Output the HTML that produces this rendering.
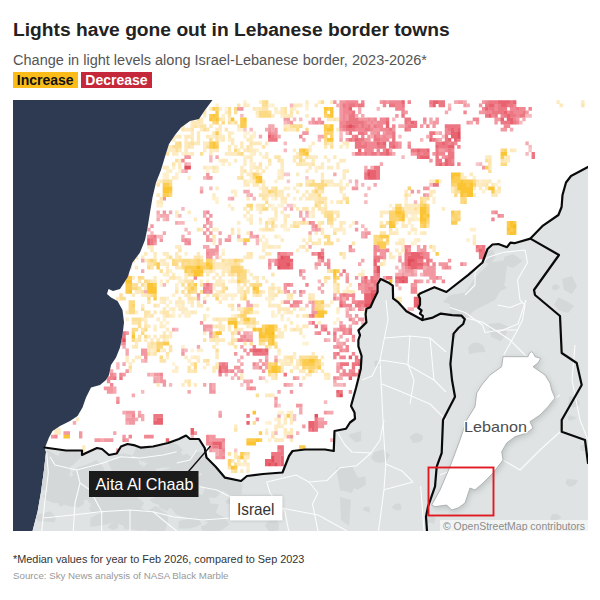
<!DOCTYPE html>
<html><head><meta charset="utf-8"><title>Lights have gone out in Lebanese border towns</title>
<style>
html,body{margin:0;padding:0;background:#fff}
body{width:600px;height:600px;position:relative;overflow:hidden;font-family:"Liberation Sans",sans-serif}
.t{position:absolute;white-space:nowrap;line-height:1}
#title{left:13px;top:19.7px;font-size:19.23px;font-weight:bold;color:#222}
#sub{left:13px;top:53.2px;font-size:14.53px;color:#555}
.lg{position:absolute;top:72px;height:16px;font-size:14px;font-weight:bold;line-height:16px;text-align:center}
#inc{left:13px;width:64.5px;background:#fbbc1a;color:#111}
#dec{left:81px;width:71px;background:#c4283a;color:#fff}
#note{left:13px;top:553.7px;font-size:10.88px;color:#333}
#src{left:13px;top:571.3px;font-size:9.73px;color:#999}
</style></head><body>
<div class="t" id="title">Lights have gone out in Lebanese border towns</div>
<div class="t" id="sub">Change in light levels along Israel-Lebanese border, 2023-2026*</div>
<div class="lg" id="inc">Increase</div><div class="lg" id="dec">Decrease</div>
<svg width="575" height="431" viewBox="13 100 575 431" style="position:absolute;left:13px;top:100px;display:block">
<defs>
<clipPath id="landclip"><polygon points="212.5,100 212.5,100 205,110 199,119 190,121 181,127.5 175,135 169,144 165.5,155 161,170 156,182.5 152.5,197.5 150,212.5 147.5,228 145,240 140,252.5 132.5,262.5 127.5,277.5 120,289 113,291 108.5,289 107,294 111,297.5 117.5,301 122.5,310 124,322.5 122.5,335 120,347.5 116,357.5 111,365 109,375 106,380 100,385 91,387.5 86,397.5 82.5,407.5 77.5,416 70,421 60,426 52.5,431 49,437.5 45,447.5 44.5,447.5 66,450.5 82,450.5 82,455 86,453 97,448 102,449 109,455 116.7,453.5 121,446.5 127.5,444 135,445.4 140.5,447.6 153,446.5 168,443 179,439 186,435.5 190,439 199,439 204.7,448 206.5,457.5 215.7,466.7 225,477.7 241,481 247,476 263,474 282.5,472.5 289,456 292.5,451 305,449.5 325,449.5 333.75,451 334.5,431 346,428.75 350,422.5 355,418.75 354.5,412.5 351,406 356,388 358.4,378.4 360.8,368.8 361.6,356 358.4,346.4 358.4,340 360,335.2 358.4,330.4 362.4,326.4 366.4,322.4 365.6,314.4 366.4,308.8 370.4,307.2 373.6,300 377.6,292 377.6,284 380.8,278.9 388,282.4 392.8,285.6 393.1,298.4 398.4,302.4 406.4,311.2 415.2,316 422.4,320 422.4,320 422.9,316 420,313.6 421.6,310.4 418.4,308 420,304.8 420,298.4 418.4,295.2 420,293.6 434.4,287.2 446.4,292 468,275.2 482.5,262.5 487.5,249 492.5,244.5 498.4,244 507,247.2 510.4,242.6 514.4,243.2 530.4,238.6 543,225.6 558.4,215 561.6,207 562.5,195 566,182.5 571,176 588,167 588,100"/></clipPath>
<filter id="sh" x="-20%" y="-20%" width="140%" height="140%"><feGaussianBlur stdDeviation="3"/></filter>
<filter id="sh2" x="-20%" y="-20%" width="140%" height="140%"><feGaussianBlur stdDeviation="1.5"/></filter>
</defs>
<rect x="13" y="100" width="575" height="431" fill="#fff"/>
<g clip-path="url(#landclip)">
<path fill="#fef0cc" d="M243.27 100.17h3.4v3.75h-3.4zM258.77 100.17h3.4v3.75h-3.4zM317.67 100.17h3.4v3.75h-3.4zM215.37 103.62h3.4v3.75h-3.4zM271.17 103.62h3.4v3.75h-3.4zM305.27 103.62h3.4v3.75h-3.4zM292.87 107.07h3.4v3.75h-3.4zM274.27 110.52h3.4v3.75h-3.4zM277.37 110.52h3.4v3.75h-3.4zM221.57 113.97h3.4v3.75h-3.4zM255.67 113.97h3.4v3.75h-3.4zM237.07 127.77h3.4v3.75h-3.4zM240.17 127.77h3.4v3.75h-3.4zM218.47 131.22h3.4v3.75h-3.4zM230.87 131.22h3.4v3.75h-3.4zM252.57 131.22h3.4v3.75h-3.4zM209.17 134.67h3.4v3.75h-3.4zM243.27 134.67h3.4v3.75h-3.4zM252.57 134.67h3.4v3.75h-3.4zM218.47 138.12h3.4v3.75h-3.4zM227.77 138.12h3.4v3.75h-3.4zM308.37 145.02h3.4v3.75h-3.4zM345.57 145.02h3.4v3.75h-3.4zM255.67 148.47h3.4v3.75h-3.4zM181.27 151.92h3.4v3.75h-3.4zM187.47 151.92h3.4v3.75h-3.4zM249.47 151.92h3.4v3.75h-3.4zM258.77 151.92h3.4v3.75h-3.4zM243.27 155.37h3.4v3.75h-3.4zM261.87 155.37h3.4v3.75h-3.4zM221.57 162.27h3.4v3.75h-3.4zM227.77 162.27h3.4v3.75h-3.4zM249.47 162.27h3.4v3.75h-3.4zM252.57 162.27h3.4v3.75h-3.4zM171.97 165.72h3.4v3.75h-3.4zM206.07 165.72h3.4v3.75h-3.4zM209.17 165.72h3.4v3.75h-3.4zM249.47 165.72h3.4v3.75h-3.4zM264.97 165.72h3.4v3.75h-3.4zM314.57 165.72h3.4v3.75h-3.4zM165.77 169.17h3.4v3.75h-3.4zM215.37 169.17h3.4v3.75h-3.4zM249.47 169.17h3.4v3.75h-3.4zM277.37 169.17h3.4v3.75h-3.4zM314.57 169.17h3.4v3.75h-3.4zM162.67 172.62h3.4v3.75h-3.4zM165.77 172.62h3.4v3.75h-3.4zM175.07 172.62h3.4v3.75h-3.4zM277.37 172.62h3.4v3.75h-3.4zM162.67 176.07h3.4v3.75h-3.4zM165.77 176.07h3.4v3.75h-3.4zM175.07 176.07h3.4v3.75h-3.4zM187.47 176.07h3.4v3.75h-3.4zM249.47 176.07h3.4v3.75h-3.4zM472.67 176.07h3.4v3.75h-3.4zM156.47 179.52h3.4v3.75h-3.4zM246.37 179.52h3.4v3.75h-3.4zM249.47 179.52h3.4v3.75h-3.4zM274.27 179.52h3.4v3.75h-3.4zM339.37 179.52h3.4v3.75h-3.4zM438.57 179.52h3.4v3.75h-3.4zM478.87 179.52h3.4v3.75h-3.4zM497.47 179.52h3.4v3.75h-3.4zM326.97 182.97h3.4v3.75h-3.4zM330.07 182.97h3.4v3.75h-3.4zM339.37 182.97h3.4v3.75h-3.4zM494.37 182.97h3.4v3.75h-3.4zM258.77 186.42h3.4v3.75h-3.4zM283.57 186.42h3.4v3.75h-3.4zM286.67 186.42h3.4v3.75h-3.4zM292.87 186.42h3.4v3.75h-3.4zM233.97 189.87h3.4v3.75h-3.4zM481.97 189.87h3.4v3.75h-3.4zM233.97 193.32h3.4v3.75h-3.4zM212.27 196.77h3.4v3.75h-3.4zM292.87 196.77h3.4v3.75h-3.4zM432.37 196.77h3.4v3.75h-3.4zM215.37 200.22h3.4v3.75h-3.4zM280.47 200.22h3.4v3.75h-3.4zM330.07 200.22h3.4v3.75h-3.4zM404.47 200.22h3.4v3.75h-3.4zM432.37 200.22h3.4v3.75h-3.4zM156.47 203.67h3.4v3.75h-3.4zM159.57 203.67h3.4v3.75h-3.4zM227.77 203.67h3.4v3.75h-3.4zM280.47 203.67h3.4v3.75h-3.4zM388.97 203.67h3.4v3.75h-3.4zM255.67 207.12h3.4v3.75h-3.4zM271.17 207.12h3.4v3.75h-3.4zM308.37 210.57h3.4v3.75h-3.4zM311.47 210.57h3.4v3.75h-3.4zM249.47 214.02h3.4v3.75h-3.4zM410.67 214.02h3.4v3.75h-3.4zM413.77 214.02h3.4v3.75h-3.4zM246.37 217.47h3.4v3.75h-3.4zM268.07 217.47h3.4v3.75h-3.4zM274.27 217.47h3.4v3.75h-3.4zM413.77 217.47h3.4v3.75h-3.4zM416.87 217.47h3.4v3.75h-3.4zM258.77 220.92h3.4v3.75h-3.4zM351.77 220.92h3.4v3.75h-3.4zM407.57 220.92h3.4v3.75h-3.4zM283.57 224.37h3.4v3.75h-3.4zM330.07 224.37h3.4v3.75h-3.4zM348.67 224.37h3.4v3.75h-3.4zM410.67 224.37h3.4v3.75h-3.4zM215.37 227.82h3.4v3.75h-3.4zM237.07 227.82h3.4v3.75h-3.4zM258.77 227.82h3.4v3.75h-3.4zM286.67 227.82h3.4v3.75h-3.4zM342.47 227.82h3.4v3.75h-3.4zM395.17 227.82h3.4v3.75h-3.4zM469.57 227.82h3.4v3.75h-3.4zM472.67 227.82h3.4v3.75h-3.4zM237.07 231.27h3.4v3.75h-3.4zM342.47 231.27h3.4v3.75h-3.4zM261.87 234.72h3.4v3.75h-3.4zM264.97 238.17h3.4v3.75h-3.4zM398.27 238.17h3.4v3.75h-3.4zM413.77 238.17h3.4v3.75h-3.4zM466.47 238.17h3.4v3.75h-3.4zM212.27 241.62h3.4v3.75h-3.4zM261.87 241.62h3.4v3.75h-3.4zM264.97 241.62h3.4v3.75h-3.4zM410.67 241.62h3.4v3.75h-3.4zM261.87 245.07h3.4v3.75h-3.4zM264.97 245.07h3.4v3.75h-3.4zM274.27 245.07h3.4v3.75h-3.4zM401.37 245.07h3.4v3.75h-3.4zM295.97 248.52h3.4v3.75h-3.4zM184.37 251.97h3.4v3.75h-3.4zM159.57 262.32h3.4v3.75h-3.4zM382.77 262.32h3.4v3.75h-3.4zM168.87 269.22h3.4v3.75h-3.4zM212.27 269.22h3.4v3.75h-3.4zM246.37 269.22h3.4v3.75h-3.4zM162.67 272.67h3.4v3.75h-3.4zM175.07 276.12h3.4v3.75h-3.4zM178.17 276.12h3.4v3.75h-3.4zM159.57 279.57h3.4v3.75h-3.4zM178.17 279.57h3.4v3.75h-3.4zM181.27 279.57h3.4v3.75h-3.4zM199.87 279.57h3.4v3.75h-3.4zM206.07 279.57h3.4v3.75h-3.4zM221.57 279.57h3.4v3.75h-3.4zM230.87 279.57h3.4v3.75h-3.4zM233.97 279.57h3.4v3.75h-3.4zM175.07 283.02h3.4v3.75h-3.4zM212.27 286.47h3.4v3.75h-3.4zM237.07 286.47h3.4v3.75h-3.4zM274.27 286.47h3.4v3.75h-3.4zM345.57 286.47h3.4v3.75h-3.4zM215.37 289.92h3.4v3.75h-3.4zM342.47 289.92h3.4v3.75h-3.4zM171.97 293.37h3.4v3.75h-3.4zM218.47 293.37h3.4v3.75h-3.4zM224.67 293.37h3.4v3.75h-3.4zM227.77 293.37h3.4v3.75h-3.4zM230.87 293.37h3.4v3.75h-3.4zM233.97 293.37h3.4v3.75h-3.4zM165.77 296.82h3.4v3.75h-3.4zM202.97 296.82h3.4v3.75h-3.4zM221.57 296.82h3.4v3.75h-3.4zM224.67 296.82h3.4v3.75h-3.4zM230.87 296.82h3.4v3.75h-3.4zM264.97 296.82h3.4v3.75h-3.4zM268.07 296.82h3.4v3.75h-3.4zM159.57 300.27h3.4v3.75h-3.4zM168.87 300.27h3.4v3.75h-3.4zM187.47 300.27h3.4v3.75h-3.4zM268.07 300.27h3.4v3.75h-3.4zM330.07 300.27h3.4v3.75h-3.4zM165.77 303.72h3.4v3.75h-3.4zM175.07 303.72h3.4v3.75h-3.4zM178.17 303.72h3.4v3.75h-3.4zM168.87 307.17h3.4v3.75h-3.4zM302.17 307.17h3.4v3.75h-3.4zM184.37 310.62h3.4v3.75h-3.4zM187.47 310.62h3.4v3.75h-3.4zM252.57 310.62h3.4v3.75h-3.4zM255.67 310.62h3.4v3.75h-3.4zM271.17 310.62h3.4v3.75h-3.4zM283.57 310.62h3.4v3.75h-3.4zM336.27 310.62h3.4v3.75h-3.4zM171.97 314.07h3.4v3.75h-3.4zM178.17 314.07h3.4v3.75h-3.4zM184.37 314.07h3.4v3.75h-3.4zM187.47 314.07h3.4v3.75h-3.4zM271.17 314.07h3.4v3.75h-3.4zM125.47 317.52h3.4v3.75h-3.4zM144.07 317.52h3.4v3.75h-3.4zM162.67 317.52h3.4v3.75h-3.4zM280.47 317.52h3.4v3.75h-3.4zM286.67 317.52h3.4v3.75h-3.4zM336.27 317.52h3.4v3.75h-3.4zM159.57 320.97h3.4v3.75h-3.4zM165.77 320.97h3.4v3.75h-3.4zM333.17 320.97h3.4v3.75h-3.4zM153.37 324.42h3.4v3.75h-3.4zM162.67 324.42h3.4v3.75h-3.4zM249.47 324.42h3.4v3.75h-3.4zM295.97 324.42h3.4v3.75h-3.4zM283.57 327.87h3.4v3.75h-3.4zM165.77 338.22h3.4v3.75h-3.4zM215.37 341.67h3.4v3.75h-3.4zM305.27 341.67h3.4v3.75h-3.4zM181.27 345.12h3.4v3.75h-3.4zM150.27 348.57h3.4v3.75h-3.4zM159.57 348.57h3.4v3.75h-3.4zM196.77 348.57h3.4v3.75h-3.4zM199.87 348.57h3.4v3.75h-3.4zM277.37 352.02h3.4v3.75h-3.4zM190.57 355.47h3.4v3.75h-3.4zM196.77 355.47h3.4v3.75h-3.4zM292.87 355.47h3.4v3.75h-3.4zM187.47 358.92h3.4v3.75h-3.4zM280.47 358.92h3.4v3.75h-3.4zM286.67 358.92h3.4v3.75h-3.4zM289.77 362.37h3.4v3.75h-3.4zM202.97 365.82h3.4v3.75h-3.4zM292.87 365.82h3.4v3.75h-3.4zM171.97 369.27h3.4v3.75h-3.4zM175.07 369.27h3.4v3.75h-3.4zM323.87 376.17h3.4v3.75h-3.4zM280.47 410.67h3.4v3.75h-3.4zM286.67 410.67h3.4v3.75h-3.4zM283.57 414.12h3.4v3.75h-3.4zM274.27 417.57h3.4v3.75h-3.4zM268.07 421.02h3.4v3.75h-3.4zM280.47 424.47h3.4v3.75h-3.4zM264.97 427.92h3.4v3.75h-3.4zM283.57 434.82h3.4v3.75h-3.4zM268.07 438.27h3.4v3.75h-3.4zM240.17 462.42h3.4v3.75h-3.4zM243.27 462.42h3.4v3.75h-3.4zM246.37 465.87h3.4v3.75h-3.4z"/>
<path fill="#fcdf97" d="M261.87 100.17h3.4v3.75h-3.4zM320.77 100.17h3.4v3.75h-3.4zM261.87 103.62h3.4v3.75h-3.4zM264.97 103.62h3.4v3.75h-3.4zM227.77 107.07h3.4v3.75h-3.4zM227.77 110.52h3.4v3.75h-3.4zM233.97 110.52h3.4v3.75h-3.4zM268.07 110.52h3.4v3.75h-3.4zM196.77 117.42h3.4v3.75h-3.4zM227.77 120.87h3.4v3.75h-3.4zM233.97 120.87h3.4v3.75h-3.4zM289.77 124.32h3.4v3.75h-3.4zM295.97 124.32h3.4v3.75h-3.4zM202.97 127.77h3.4v3.75h-3.4zM283.57 127.77h3.4v3.75h-3.4zM209.17 138.12h3.4v3.75h-3.4zM162.67 141.57h3.4v3.75h-3.4zM175.07 141.57h3.4v3.75h-3.4zM190.57 141.57h3.4v3.75h-3.4zM323.87 141.57h3.4v3.75h-3.4zM171.97 145.02h3.4v3.75h-3.4zM175.07 145.02h3.4v3.75h-3.4zM178.17 145.02h3.4v3.75h-3.4zM206.07 145.02h3.4v3.75h-3.4zM330.07 145.02h3.4v3.75h-3.4zM175.07 148.47h3.4v3.75h-3.4zM199.87 151.92h3.4v3.75h-3.4zM237.07 151.92h3.4v3.75h-3.4zM299.07 155.37h3.4v3.75h-3.4zM175.07 158.82h3.4v3.75h-3.4zM485.07 158.82h3.4v3.75h-3.4zM488.17 169.17h3.4v3.75h-3.4zM240.17 176.07h3.4v3.75h-3.4zM162.67 179.52h3.4v3.75h-3.4zM165.77 179.52h3.4v3.75h-3.4zM168.87 179.52h3.4v3.75h-3.4zM311.47 179.52h3.4v3.75h-3.4zM299.07 182.97h3.4v3.75h-3.4zM274.27 186.42h3.4v3.75h-3.4zM454.07 186.42h3.4v3.75h-3.4zM274.27 189.87h3.4v3.75h-3.4zM454.07 189.87h3.4v3.75h-3.4zM457.17 189.87h3.4v3.75h-3.4zM274.27 193.32h3.4v3.75h-3.4zM404.47 193.32h3.4v3.75h-3.4zM345.57 196.77h3.4v3.75h-3.4zM419.97 196.77h3.4v3.75h-3.4zM426.17 196.77h3.4v3.75h-3.4zM264.97 200.22h3.4v3.75h-3.4zM317.67 200.22h3.4v3.75h-3.4zM320.77 200.22h3.4v3.75h-3.4zM249.47 207.12h3.4v3.75h-3.4zM401.37 207.12h3.4v3.75h-3.4zM413.77 207.12h3.4v3.75h-3.4zM323.87 210.57h3.4v3.75h-3.4zM326.97 210.57h3.4v3.75h-3.4zM330.07 210.57h3.4v3.75h-3.4zM323.87 214.02h3.4v3.75h-3.4zM264.97 220.92h3.4v3.75h-3.4zM302.17 220.92h3.4v3.75h-3.4zM326.97 220.92h3.4v3.75h-3.4zM330.07 220.92h3.4v3.75h-3.4zM385.87 220.92h3.4v3.75h-3.4zM271.17 224.37h3.4v3.75h-3.4zM292.87 224.37h3.4v3.75h-3.4zM295.97 224.37h3.4v3.75h-3.4zM382.77 224.37h3.4v3.75h-3.4zM333.17 231.27h3.4v3.75h-3.4zM323.87 241.62h3.4v3.75h-3.4zM326.97 241.62h3.4v3.75h-3.4zM330.07 241.62h3.4v3.75h-3.4zM385.87 241.62h3.4v3.75h-3.4zM429.27 245.07h3.4v3.75h-3.4zM339.37 251.97h3.4v3.75h-3.4zM168.87 255.42h3.4v3.75h-3.4zM147.17 258.87h3.4v3.75h-3.4zM153.37 258.87h3.4v3.75h-3.4zM175.07 258.87h3.4v3.75h-3.4zM178.17 258.87h3.4v3.75h-3.4zM190.57 258.87h3.4v3.75h-3.4zM221.57 258.87h3.4v3.75h-3.4zM240.17 258.87h3.4v3.75h-3.4zM184.37 262.32h3.4v3.75h-3.4zM190.57 262.32h3.4v3.75h-3.4zM233.97 262.32h3.4v3.75h-3.4zM159.57 269.22h3.4v3.75h-3.4zM330.07 269.22h3.4v3.75h-3.4zM230.87 272.67h3.4v3.75h-3.4zM140.97 276.12h3.4v3.75h-3.4zM323.87 276.12h3.4v3.75h-3.4zM326.97 276.12h3.4v3.75h-3.4zM147.17 279.57h3.4v3.75h-3.4zM190.57 279.57h3.4v3.75h-3.4zM243.27 279.57h3.4v3.75h-3.4zM131.67 283.02h3.4v3.75h-3.4zM134.77 283.02h3.4v3.75h-3.4zM140.97 283.02h3.4v3.75h-3.4zM181.27 283.02h3.4v3.75h-3.4zM190.57 283.02h3.4v3.75h-3.4zM249.47 283.02h3.4v3.75h-3.4zM336.27 283.02h3.4v3.75h-3.4zM140.97 289.92h3.4v3.75h-3.4zM181.27 289.92h3.4v3.75h-3.4zM193.67 289.92h3.4v3.75h-3.4zM199.87 289.92h3.4v3.75h-3.4zM221.57 289.92h3.4v3.75h-3.4zM243.27 289.92h3.4v3.75h-3.4zM277.37 289.92h3.4v3.75h-3.4zM336.27 289.92h3.4v3.75h-3.4zM119.27 293.37h3.4v3.75h-3.4zM119.27 296.82h3.4v3.75h-3.4zM122.37 296.82h3.4v3.75h-3.4zM320.77 303.72h3.4v3.75h-3.4zM140.97 307.17h3.4v3.75h-3.4zM249.47 310.62h3.4v3.75h-3.4zM237.07 314.07h3.4v3.75h-3.4zM367.27 314.07h3.4v3.75h-3.4zM131.67 317.52h3.4v3.75h-3.4zM134.77 317.52h3.4v3.75h-3.4zM137.87 317.52h3.4v3.75h-3.4zM249.47 317.52h3.4v3.75h-3.4zM252.57 317.52h3.4v3.75h-3.4zM137.87 320.97h3.4v3.75h-3.4zM249.47 320.97h3.4v3.75h-3.4zM137.87 324.42h3.4v3.75h-3.4zM212.27 331.32h3.4v3.75h-3.4zM230.87 331.32h3.4v3.75h-3.4zM215.37 334.77h3.4v3.75h-3.4zM274.27 334.77h3.4v3.75h-3.4zM150.27 341.67h3.4v3.75h-3.4zM249.47 341.67h3.4v3.75h-3.4zM258.77 341.67h3.4v3.75h-3.4zM274.27 341.67h3.4v3.75h-3.4zM264.97 345.12h3.4v3.75h-3.4zM215.37 348.57h3.4v3.75h-3.4zM147.17 352.02h3.4v3.75h-3.4zM299.07 355.47h3.4v3.75h-3.4zM302.17 355.47h3.4v3.75h-3.4zM305.27 355.47h3.4v3.75h-3.4zM206.07 358.92h3.4v3.75h-3.4zM299.07 362.37h3.4v3.75h-3.4zM128.57 365.82h3.4v3.75h-3.4zM268.07 372.72h3.4v3.75h-3.4zM274.27 372.72h3.4v3.75h-3.4zM255.67 393.42h3.4v3.75h-3.4zM252.57 421.02h3.4v3.75h-3.4zM227.77 452.07h3.4v3.75h-3.4zM246.37 452.07h3.4v3.75h-3.4zM237.07 455.52h3.4v3.75h-3.4zM233.97 462.42h3.4v3.75h-3.4zM233.97 469.32h3.4v3.75h-3.4z"/>
<path fill="#fcda84" d="M264.97 100.17h3.4v3.75h-3.4zM233.97 107.07h3.4v3.75h-3.4zM258.77 110.52h3.4v3.75h-3.4zM261.87 110.52h3.4v3.75h-3.4zM264.97 110.52h3.4v3.75h-3.4zM258.77 113.97h3.4v3.75h-3.4zM261.87 113.97h3.4v3.75h-3.4zM264.97 113.97h3.4v3.75h-3.4zM268.07 113.97h3.4v3.75h-3.4zM212.27 120.87h3.4v3.75h-3.4zM221.57 120.87h3.4v3.75h-3.4zM292.87 124.32h3.4v3.75h-3.4zM299.07 124.32h3.4v3.75h-3.4zM295.97 127.77h3.4v3.75h-3.4zM305.27 127.77h3.4v3.75h-3.4zM323.87 138.12h3.4v3.75h-3.4zM178.17 141.57h3.4v3.75h-3.4zM233.97 148.47h3.4v3.75h-3.4zM500.57 148.47h3.4v3.75h-3.4zM240.17 151.92h3.4v3.75h-3.4zM299.07 158.82h3.4v3.75h-3.4zM500.57 162.27h3.4v3.75h-3.4zM503.67 162.27h3.4v3.75h-3.4zM255.67 172.62h3.4v3.75h-3.4zM252.57 176.07h3.4v3.75h-3.4zM320.77 179.52h3.4v3.75h-3.4zM472.67 179.52h3.4v3.75h-3.4zM168.87 182.97h3.4v3.75h-3.4zM308.37 182.97h3.4v3.75h-3.4zM311.47 182.97h3.4v3.75h-3.4zM314.57 182.97h3.4v3.75h-3.4zM317.67 182.97h3.4v3.75h-3.4zM320.77 182.97h3.4v3.75h-3.4zM323.87 182.97h3.4v3.75h-3.4zM317.67 186.42h3.4v3.75h-3.4zM320.77 186.42h3.4v3.75h-3.4zM271.17 189.87h3.4v3.75h-3.4zM168.87 193.32h3.4v3.75h-3.4zM317.67 193.32h3.4v3.75h-3.4zM454.07 193.32h3.4v3.75h-3.4zM460.27 196.77h3.4v3.75h-3.4zM463.37 196.77h3.4v3.75h-3.4zM345.57 200.22h3.4v3.75h-3.4zM419.97 200.22h3.4v3.75h-3.4zM460.27 200.22h3.4v3.75h-3.4zM246.37 203.67h3.4v3.75h-3.4zM314.57 203.67h3.4v3.75h-3.4zM395.17 203.67h3.4v3.75h-3.4zM398.27 203.67h3.4v3.75h-3.4zM426.17 203.67h3.4v3.75h-3.4zM261.87 207.12h3.4v3.75h-3.4zM264.97 207.12h3.4v3.75h-3.4zM454.07 210.57h3.4v3.75h-3.4zM326.97 214.02h3.4v3.75h-3.4zM330.07 214.02h3.4v3.75h-3.4zM457.17 214.02h3.4v3.75h-3.4zM326.97 217.47h3.4v3.75h-3.4zM330.07 217.47h3.4v3.75h-3.4zM450.97 217.47h3.4v3.75h-3.4zM271.17 220.92h3.4v3.75h-3.4zM426.17 220.92h3.4v3.75h-3.4zM379.67 224.37h3.4v3.75h-3.4zM323.87 234.72h3.4v3.75h-3.4zM326.97 234.72h3.4v3.75h-3.4zM373.47 234.72h3.4v3.75h-3.4zM376.57 234.72h3.4v3.75h-3.4zM326.97 238.17h3.4v3.75h-3.4zM373.47 238.17h3.4v3.75h-3.4zM376.57 238.17h3.4v3.75h-3.4zM379.67 238.17h3.4v3.75h-3.4zM373.47 241.62h3.4v3.75h-3.4zM171.97 258.87h3.4v3.75h-3.4zM181.27 258.87h3.4v3.75h-3.4zM184.37 258.87h3.4v3.75h-3.4zM187.47 258.87h3.4v3.75h-3.4zM193.67 258.87h3.4v3.75h-3.4zM199.87 258.87h3.4v3.75h-3.4zM237.07 258.87h3.4v3.75h-3.4zM153.37 262.32h3.4v3.75h-3.4zM171.97 262.32h3.4v3.75h-3.4zM175.07 262.32h3.4v3.75h-3.4zM181.27 262.32h3.4v3.75h-3.4zM187.47 262.32h3.4v3.75h-3.4zM193.67 262.32h3.4v3.75h-3.4zM199.87 262.32h3.4v3.75h-3.4zM202.97 262.32h3.4v3.75h-3.4zM147.17 265.77h3.4v3.75h-3.4zM181.27 265.77h3.4v3.75h-3.4zM240.17 265.77h3.4v3.75h-3.4zM243.27 269.22h3.4v3.75h-3.4zM187.47 272.67h3.4v3.75h-3.4zM190.57 272.67h3.4v3.75h-3.4zM240.17 272.67h3.4v3.75h-3.4zM243.27 272.67h3.4v3.75h-3.4zM137.87 276.12h3.4v3.75h-3.4zM237.07 276.12h3.4v3.75h-3.4zM240.17 276.12h3.4v3.75h-3.4zM243.27 276.12h3.4v3.75h-3.4zM144.07 279.57h3.4v3.75h-3.4zM240.17 279.57h3.4v3.75h-3.4zM333.17 279.57h3.4v3.75h-3.4zM252.57 283.02h3.4v3.75h-3.4zM255.67 283.02h3.4v3.75h-3.4zM258.77 283.02h3.4v3.75h-3.4zM131.67 286.47h3.4v3.75h-3.4zM134.77 286.47h3.4v3.75h-3.4zM187.47 286.47h3.4v3.75h-3.4zM193.67 286.47h3.4v3.75h-3.4zM224.67 286.47h3.4v3.75h-3.4zM190.57 289.92h3.4v3.75h-3.4zM150.27 293.37h3.4v3.75h-3.4zM243.27 293.37h3.4v3.75h-3.4zM147.17 296.82h3.4v3.75h-3.4zM128.57 300.27h3.4v3.75h-3.4zM131.67 300.27h3.4v3.75h-3.4zM317.67 300.27h3.4v3.75h-3.4zM128.57 303.72h3.4v3.75h-3.4zM314.57 303.72h3.4v3.75h-3.4zM317.67 303.72h3.4v3.75h-3.4zM128.57 307.17h3.4v3.75h-3.4zM131.67 307.17h3.4v3.75h-3.4zM243.27 307.17h3.4v3.75h-3.4zM317.67 307.17h3.4v3.75h-3.4zM320.77 307.17h3.4v3.75h-3.4zM128.57 310.62h3.4v3.75h-3.4zM131.67 310.62h3.4v3.75h-3.4zM227.77 317.52h3.4v3.75h-3.4zM243.27 320.97h3.4v3.75h-3.4zM246.37 320.97h3.4v3.75h-3.4zM252.57 320.97h3.4v3.75h-3.4zM131.67 327.87h3.4v3.75h-3.4zM134.77 327.87h3.4v3.75h-3.4zM144.07 327.87h3.4v3.75h-3.4zM274.27 327.87h3.4v3.75h-3.4zM140.97 331.32h3.4v3.75h-3.4zM144.07 334.77h3.4v3.75h-3.4zM212.27 334.77h3.4v3.75h-3.4zM131.67 338.22h3.4v3.75h-3.4zM264.97 338.22h3.4v3.75h-3.4zM159.57 345.12h3.4v3.75h-3.4zM274.27 345.12h3.4v3.75h-3.4zM159.57 355.47h3.4v3.75h-3.4zM308.37 355.47h3.4v3.75h-3.4zM311.47 355.47h3.4v3.75h-3.4zM314.57 355.47h3.4v3.75h-3.4zM299.07 358.92h3.4v3.75h-3.4zM317.67 358.92h3.4v3.75h-3.4zM193.67 362.37h3.4v3.75h-3.4zM271.17 362.37h3.4v3.75h-3.4zM314.57 362.37h3.4v3.75h-3.4zM317.67 362.37h3.4v3.75h-3.4zM193.67 365.82h3.4v3.75h-3.4zM305.27 365.82h3.4v3.75h-3.4zM314.57 365.82h3.4v3.75h-3.4zM311.47 369.27h3.4v3.75h-3.4zM243.27 452.07h3.4v3.75h-3.4z"/>
<path fill="#fdecc3" d="M305.27 100.17h3.4v3.75h-3.4zM330.07 100.17h3.4v3.75h-3.4zM556.37 100.17h3.4v3.75h-3.4zM581.17 100.17h3.4v3.75h-3.4zM246.37 103.62h3.4v3.75h-3.4zM295.97 103.62h3.4v3.75h-3.4zM299.07 103.62h3.4v3.75h-3.4zM196.77 107.07h3.4v3.75h-3.4zM209.17 107.07h3.4v3.75h-3.4zM218.47 107.07h3.4v3.75h-3.4zM255.67 107.07h3.4v3.75h-3.4zM274.27 107.07h3.4v3.75h-3.4zM196.77 110.52h3.4v3.75h-3.4zM199.87 110.52h3.4v3.75h-3.4zM224.67 110.52h3.4v3.75h-3.4zM202.97 113.97h3.4v3.75h-3.4zM271.17 113.97h3.4v3.75h-3.4zM280.47 113.97h3.4v3.75h-3.4zM305.27 113.97h3.4v3.75h-3.4zM187.47 117.42h3.4v3.75h-3.4zM190.57 117.42h3.4v3.75h-3.4zM330.07 117.42h3.4v3.75h-3.4zM336.27 117.42h3.4v3.75h-3.4zM230.87 120.87h3.4v3.75h-3.4zM181.27 124.32h3.4v3.75h-3.4zM196.77 124.32h3.4v3.75h-3.4zM218.47 124.32h3.4v3.75h-3.4zM184.37 127.77h3.4v3.75h-3.4zM199.87 127.77h3.4v3.75h-3.4zM215.37 127.77h3.4v3.75h-3.4zM218.47 127.77h3.4v3.75h-3.4zM336.27 127.77h3.4v3.75h-3.4zM190.57 131.22h3.4v3.75h-3.4zM227.77 131.22h3.4v3.75h-3.4zM175.07 134.67h3.4v3.75h-3.4zM190.57 134.67h3.4v3.75h-3.4zM212.27 134.67h3.4v3.75h-3.4zM218.47 134.67h3.4v3.75h-3.4zM221.57 134.67h3.4v3.75h-3.4zM249.47 134.67h3.4v3.75h-3.4zM171.97 138.12h3.4v3.75h-3.4zM184.37 138.12h3.4v3.75h-3.4zM249.47 138.12h3.4v3.75h-3.4zM202.97 141.57h3.4v3.75h-3.4zM258.77 141.57h3.4v3.75h-3.4zM311.47 141.57h3.4v3.75h-3.4zM342.47 141.57h3.4v3.75h-3.4zM165.77 145.02h3.4v3.75h-3.4zM168.87 145.02h3.4v3.75h-3.4zM202.97 145.02h3.4v3.75h-3.4zM233.97 145.02h3.4v3.75h-3.4zM249.47 145.02h3.4v3.75h-3.4zM339.37 145.02h3.4v3.75h-3.4zM165.77 148.47h3.4v3.75h-3.4zM168.87 148.47h3.4v3.75h-3.4zM171.97 148.47h3.4v3.75h-3.4zM202.97 148.47h3.4v3.75h-3.4zM212.27 148.47h3.4v3.75h-3.4zM227.77 148.47h3.4v3.75h-3.4zM252.57 148.47h3.4v3.75h-3.4zM292.87 148.47h3.4v3.75h-3.4zM308.37 148.47h3.4v3.75h-3.4zM512.97 148.47h3.4v3.75h-3.4zM171.97 151.92h3.4v3.75h-3.4zM175.07 151.92h3.4v3.75h-3.4zM184.37 151.92h3.4v3.75h-3.4zM224.67 151.92h3.4v3.75h-3.4zM227.77 151.92h3.4v3.75h-3.4zM252.57 151.92h3.4v3.75h-3.4zM264.97 151.92h3.4v3.75h-3.4zM295.97 151.92h3.4v3.75h-3.4zM246.37 155.37h3.4v3.75h-3.4zM249.47 155.37h3.4v3.75h-3.4zM264.97 155.37h3.4v3.75h-3.4zM311.47 155.37h3.4v3.75h-3.4zM314.57 155.37h3.4v3.75h-3.4zM323.87 155.37h3.4v3.75h-3.4zM485.07 155.37h3.4v3.75h-3.4zM503.67 155.37h3.4v3.75h-3.4zM178.17 158.82h3.4v3.75h-3.4zM218.47 158.82h3.4v3.75h-3.4zM224.67 158.82h3.4v3.75h-3.4zM233.97 158.82h3.4v3.75h-3.4zM243.27 158.82h3.4v3.75h-3.4zM249.47 158.82h3.4v3.75h-3.4zM326.97 158.82h3.4v3.75h-3.4zM342.47 158.82h3.4v3.75h-3.4zM506.77 158.82h3.4v3.75h-3.4zM243.27 162.27h3.4v3.75h-3.4zM268.07 162.27h3.4v3.75h-3.4zM308.37 162.27h3.4v3.75h-3.4zM320.77 162.27h3.4v3.75h-3.4zM336.27 162.27h3.4v3.75h-3.4zM165.77 165.72h3.4v3.75h-3.4zM215.37 165.72h3.4v3.75h-3.4zM240.17 165.72h3.4v3.75h-3.4zM252.57 165.72h3.4v3.75h-3.4zM280.47 165.72h3.4v3.75h-3.4zM308.37 165.72h3.4v3.75h-3.4zM317.67 165.72h3.4v3.75h-3.4zM320.77 165.72h3.4v3.75h-3.4zM326.97 165.72h3.4v3.75h-3.4zM330.07 165.72h3.4v3.75h-3.4zM336.27 165.72h3.4v3.75h-3.4zM168.87 169.17h3.4v3.75h-3.4zM212.27 169.17h3.4v3.75h-3.4zM240.17 169.17h3.4v3.75h-3.4zM255.67 169.17h3.4v3.75h-3.4zM305.27 169.17h3.4v3.75h-3.4zM342.47 169.17h3.4v3.75h-3.4zM240.17 172.62h3.4v3.75h-3.4zM246.37 172.62h3.4v3.75h-3.4zM249.47 172.62h3.4v3.75h-3.4zM280.47 172.62h3.4v3.75h-3.4zM295.97 172.62h3.4v3.75h-3.4zM342.47 172.62h3.4v3.75h-3.4zM171.97 176.07h3.4v3.75h-3.4zM280.47 176.07h3.4v3.75h-3.4zM320.77 176.07h3.4v3.75h-3.4zM342.47 176.07h3.4v3.75h-3.4zM460.27 176.07h3.4v3.75h-3.4zM463.37 176.07h3.4v3.75h-3.4zM252.57 179.52h3.4v3.75h-3.4zM261.87 179.52h3.4v3.75h-3.4zM323.87 179.52h3.4v3.75h-3.4zM330.07 179.52h3.4v3.75h-3.4zM429.27 179.52h3.4v3.75h-3.4zM432.37 179.52h3.4v3.75h-3.4zM481.97 179.52h3.4v3.75h-3.4zM485.07 179.52h3.4v3.75h-3.4zM243.27 182.97h3.4v3.75h-3.4zM295.97 182.97h3.4v3.75h-3.4zM333.17 182.97h3.4v3.75h-3.4zM336.27 182.97h3.4v3.75h-3.4zM345.57 182.97h3.4v3.75h-3.4zM475.77 182.97h3.4v3.75h-3.4zM478.87 182.97h3.4v3.75h-3.4zM215.37 186.42h3.4v3.75h-3.4zM342.47 186.42h3.4v3.75h-3.4zM450.97 186.42h3.4v3.75h-3.4zM472.67 186.42h3.4v3.75h-3.4zM478.87 186.42h3.4v3.75h-3.4zM485.07 186.42h3.4v3.75h-3.4zM230.87 189.87h3.4v3.75h-3.4zM295.97 189.87h3.4v3.75h-3.4zM339.37 189.87h3.4v3.75h-3.4zM494.37 189.87h3.4v3.75h-3.4zM212.27 193.32h3.4v3.75h-3.4zM268.07 193.32h3.4v3.75h-3.4zM271.17 193.32h3.4v3.75h-3.4zM280.47 193.32h3.4v3.75h-3.4zM302.17 193.32h3.4v3.75h-3.4zM342.47 193.32h3.4v3.75h-3.4zM407.57 193.32h3.4v3.75h-3.4zM274.27 196.77h3.4v3.75h-3.4zM299.07 196.77h3.4v3.75h-3.4zM311.47 196.77h3.4v3.75h-3.4zM404.47 196.77h3.4v3.75h-3.4zM156.47 200.22h3.4v3.75h-3.4zM283.57 200.22h3.4v3.75h-3.4zM323.87 200.22h3.4v3.75h-3.4zM255.67 203.67h3.4v3.75h-3.4zM268.07 203.67h3.4v3.75h-3.4zM292.87 203.67h3.4v3.75h-3.4zM407.57 203.67h3.4v3.75h-3.4zM410.67 203.67h3.4v3.75h-3.4zM413.77 203.67h3.4v3.75h-3.4zM230.87 207.12h3.4v3.75h-3.4zM258.77 207.12h3.4v3.75h-3.4zM274.27 207.12h3.4v3.75h-3.4zM392.07 207.12h3.4v3.75h-3.4zM404.47 207.12h3.4v3.75h-3.4zM410.67 207.12h3.4v3.75h-3.4zM441.67 207.12h3.4v3.75h-3.4zM187.47 210.57h3.4v3.75h-3.4zM258.77 210.57h3.4v3.75h-3.4zM280.47 210.57h3.4v3.75h-3.4zM379.67 210.57h3.4v3.75h-3.4zM382.77 210.57h3.4v3.75h-3.4zM385.87 210.57h3.4v3.75h-3.4zM404.47 210.57h3.4v3.75h-3.4zM407.57 210.57h3.4v3.75h-3.4zM410.67 210.57h3.4v3.75h-3.4zM413.77 210.57h3.4v3.75h-3.4zM416.87 210.57h3.4v3.75h-3.4zM175.07 214.02h3.4v3.75h-3.4zM243.27 214.02h3.4v3.75h-3.4zM274.27 214.02h3.4v3.75h-3.4zM283.57 214.02h3.4v3.75h-3.4zM311.47 214.02h3.4v3.75h-3.4zM379.67 214.02h3.4v3.75h-3.4zM193.67 217.47h3.4v3.75h-3.4zM249.47 217.47h3.4v3.75h-3.4zM333.17 217.47h3.4v3.75h-3.4zM407.57 217.47h3.4v3.75h-3.4zM410.67 217.47h3.4v3.75h-3.4zM237.07 220.92h3.4v3.75h-3.4zM283.57 220.92h3.4v3.75h-3.4zM342.47 220.92h3.4v3.75h-3.4zM395.17 220.92h3.4v3.75h-3.4zM401.37 220.92h3.4v3.75h-3.4zM274.27 224.37h3.4v3.75h-3.4zM280.47 224.37h3.4v3.75h-3.4zM289.77 224.37h3.4v3.75h-3.4zM199.87 227.82h3.4v3.75h-3.4zM212.27 227.82h3.4v3.75h-3.4zM333.17 227.82h3.4v3.75h-3.4zM339.37 227.82h3.4v3.75h-3.4zM410.67 227.82h3.4v3.75h-3.4zM413.77 227.82h3.4v3.75h-3.4zM314.57 231.27h3.4v3.75h-3.4zM395.17 231.27h3.4v3.75h-3.4zM407.57 231.27h3.4v3.75h-3.4zM419.97 231.27h3.4v3.75h-3.4zM274.27 234.72h3.4v3.75h-3.4zM472.67 234.72h3.4v3.75h-3.4zM212.27 238.17h3.4v3.75h-3.4zM237.07 238.17h3.4v3.75h-3.4zM258.77 238.17h3.4v3.75h-3.4zM280.47 238.17h3.4v3.75h-3.4zM302.17 238.17h3.4v3.75h-3.4zM401.37 238.17h3.4v3.75h-3.4zM416.87 238.17h3.4v3.75h-3.4zM472.67 238.17h3.4v3.75h-3.4zM305.27 241.62h3.4v3.75h-3.4zM395.17 241.62h3.4v3.75h-3.4zM401.37 241.62h3.4v3.75h-3.4zM147.17 245.07h3.4v3.75h-3.4zM150.27 245.07h3.4v3.75h-3.4zM175.07 245.07h3.4v3.75h-3.4zM178.17 245.07h3.4v3.75h-3.4zM271.17 245.07h3.4v3.75h-3.4zM277.37 245.07h3.4v3.75h-3.4zM299.07 245.07h3.4v3.75h-3.4zM432.37 245.07h3.4v3.75h-3.4zM261.87 248.52h3.4v3.75h-3.4zM395.17 248.52h3.4v3.75h-3.4zM432.37 248.52h3.4v3.75h-3.4zM165.77 251.97h3.4v3.75h-3.4zM221.57 251.97h3.4v3.75h-3.4zM140.97 255.42h3.4v3.75h-3.4zM153.37 255.42h3.4v3.75h-3.4zM165.77 255.42h3.4v3.75h-3.4zM199.87 255.42h3.4v3.75h-3.4zM218.47 255.42h3.4v3.75h-3.4zM243.27 255.42h3.4v3.75h-3.4zM249.47 255.42h3.4v3.75h-3.4zM258.77 255.42h3.4v3.75h-3.4zM261.87 255.42h3.4v3.75h-3.4zM388.97 255.42h3.4v3.75h-3.4zM392.07 255.42h3.4v3.75h-3.4zM128.57 258.87h3.4v3.75h-3.4zM144.07 258.87h3.4v3.75h-3.4zM159.57 258.87h3.4v3.75h-3.4zM162.67 258.87h3.4v3.75h-3.4zM382.77 258.87h3.4v3.75h-3.4zM128.57 262.32h3.4v3.75h-3.4zM162.67 262.32h3.4v3.75h-3.4zM165.77 262.32h3.4v3.75h-3.4zM165.77 265.77h3.4v3.75h-3.4zM215.37 265.77h3.4v3.75h-3.4zM218.47 265.77h3.4v3.75h-3.4zM202.97 269.22h3.4v3.75h-3.4zM206.07 269.22h3.4v3.75h-3.4zM221.57 269.22h3.4v3.75h-3.4zM224.67 269.22h3.4v3.75h-3.4zM165.77 272.67h3.4v3.75h-3.4zM171.97 272.67h3.4v3.75h-3.4zM215.37 272.67h3.4v3.75h-3.4zM249.47 272.67h3.4v3.75h-3.4zM357.97 272.67h3.4v3.75h-3.4zM131.67 276.12h3.4v3.75h-3.4zM153.37 276.12h3.4v3.75h-3.4zM184.37 276.12h3.4v3.75h-3.4zM212.27 276.12h3.4v3.75h-3.4zM218.47 276.12h3.4v3.75h-3.4zM252.57 276.12h3.4v3.75h-3.4zM261.87 276.12h3.4v3.75h-3.4zM215.37 279.57h3.4v3.75h-3.4zM218.47 279.57h3.4v3.75h-3.4zM255.67 279.57h3.4v3.75h-3.4zM264.97 279.57h3.4v3.75h-3.4zM212.27 283.02h3.4v3.75h-3.4zM215.37 283.02h3.4v3.75h-3.4zM218.47 283.02h3.4v3.75h-3.4zM237.07 283.02h3.4v3.75h-3.4zM175.07 286.47h3.4v3.75h-3.4zM333.17 286.47h3.4v3.75h-3.4zM237.07 289.92h3.4v3.75h-3.4zM261.87 289.92h3.4v3.75h-3.4zM268.07 289.92h3.4v3.75h-3.4zM271.17 289.92h3.4v3.75h-3.4zM333.17 289.92h3.4v3.75h-3.4zM345.57 289.92h3.4v3.75h-3.4zM351.77 289.92h3.4v3.75h-3.4zM140.97 293.37h3.4v3.75h-3.4zM206.07 293.37h3.4v3.75h-3.4zM268.07 293.37h3.4v3.75h-3.4zM311.47 293.37h3.4v3.75h-3.4zM271.17 296.82h3.4v3.75h-3.4zM286.67 296.82h3.4v3.75h-3.4zM289.77 296.82h3.4v3.75h-3.4zM395.17 296.82h3.4v3.75h-3.4zM162.67 300.27h3.4v3.75h-3.4zM178.17 300.27h3.4v3.75h-3.4zM196.77 300.27h3.4v3.75h-3.4zM280.47 300.27h3.4v3.75h-3.4zM395.17 300.27h3.4v3.75h-3.4zM398.27 300.27h3.4v3.75h-3.4zM140.97 303.72h3.4v3.75h-3.4zM156.47 303.72h3.4v3.75h-3.4zM181.27 303.72h3.4v3.75h-3.4zM190.57 303.72h3.4v3.75h-3.4zM252.57 303.72h3.4v3.75h-3.4zM255.67 303.72h3.4v3.75h-3.4zM268.07 303.72h3.4v3.75h-3.4zM271.17 303.72h3.4v3.75h-3.4zM274.27 303.72h3.4v3.75h-3.4zM323.87 303.72h3.4v3.75h-3.4zM326.97 303.72h3.4v3.75h-3.4zM171.97 307.17h3.4v3.75h-3.4zM178.17 307.17h3.4v3.75h-3.4zM181.27 307.17h3.4v3.75h-3.4zM184.37 307.17h3.4v3.75h-3.4zM206.07 307.17h3.4v3.75h-3.4zM240.17 307.17h3.4v3.75h-3.4zM292.87 307.17h3.4v3.75h-3.4zM299.07 307.17h3.4v3.75h-3.4zM336.27 307.17h3.4v3.75h-3.4zM134.77 310.62h3.4v3.75h-3.4zM159.57 310.62h3.4v3.75h-3.4zM181.27 310.62h3.4v3.75h-3.4zM193.67 310.62h3.4v3.75h-3.4zM277.37 310.62h3.4v3.75h-3.4zM289.77 310.62h3.4v3.75h-3.4zM364.17 310.62h3.4v3.75h-3.4zM162.67 314.07h3.4v3.75h-3.4zM168.87 314.07h3.4v3.75h-3.4zM202.97 314.07h3.4v3.75h-3.4zM233.97 314.07h3.4v3.75h-3.4zM280.47 314.07h3.4v3.75h-3.4zM295.97 314.07h3.4v3.75h-3.4zM156.47 317.52h3.4v3.75h-3.4zM212.27 317.52h3.4v3.75h-3.4zM218.47 317.52h3.4v3.75h-3.4zM224.67 317.52h3.4v3.75h-3.4zM144.07 320.97h3.4v3.75h-3.4zM255.67 320.97h3.4v3.75h-3.4zM289.77 320.97h3.4v3.75h-3.4zM317.67 320.97h3.4v3.75h-3.4zM147.17 324.42h3.4v3.75h-3.4zM159.57 324.42h3.4v3.75h-3.4zM212.27 324.42h3.4v3.75h-3.4zM221.57 324.42h3.4v3.75h-3.4zM305.27 324.42h3.4v3.75h-3.4zM153.37 327.87h3.4v3.75h-3.4zM165.77 327.87h3.4v3.75h-3.4zM218.47 327.87h3.4v3.75h-3.4zM221.57 327.87h3.4v3.75h-3.4zM227.77 327.87h3.4v3.75h-3.4zM237.07 327.87h3.4v3.75h-3.4zM240.17 327.87h3.4v3.75h-3.4zM277.37 327.87h3.4v3.75h-3.4zM289.77 327.87h3.4v3.75h-3.4zM295.97 327.87h3.4v3.75h-3.4zM168.87 331.32h3.4v3.75h-3.4zM202.97 331.32h3.4v3.75h-3.4zM277.37 331.32h3.4v3.75h-3.4zM280.47 331.32h3.4v3.75h-3.4zM147.17 334.77h3.4v3.75h-3.4zM153.37 334.77h3.4v3.75h-3.4zM168.87 334.77h3.4v3.75h-3.4zM230.87 334.77h3.4v3.75h-3.4zM280.47 334.77h3.4v3.75h-3.4zM144.07 338.22h3.4v3.75h-3.4zM150.27 338.22h3.4v3.75h-3.4zM134.77 341.67h3.4v3.75h-3.4zM227.77 341.67h3.4v3.75h-3.4zM131.67 345.12h3.4v3.75h-3.4zM153.37 348.57h3.4v3.75h-3.4zM162.67 348.57h3.4v3.75h-3.4zM150.27 352.02h3.4v3.75h-3.4zM292.87 352.02h3.4v3.75h-3.4zM125.47 355.47h3.4v3.75h-3.4zM134.77 355.47h3.4v3.75h-3.4zM137.87 355.47h3.4v3.75h-3.4zM165.77 355.47h3.4v3.75h-3.4zM184.37 355.47h3.4v3.75h-3.4zM193.67 355.47h3.4v3.75h-3.4zM125.47 358.92h3.4v3.75h-3.4zM131.67 358.92h3.4v3.75h-3.4zM196.77 358.92h3.4v3.75h-3.4zM277.37 358.92h3.4v3.75h-3.4zM283.57 358.92h3.4v3.75h-3.4zM295.97 358.92h3.4v3.75h-3.4zM361.07 358.92h3.4v3.75h-3.4zM128.57 362.37h3.4v3.75h-3.4zM206.07 362.37h3.4v3.75h-3.4zM280.47 362.37h3.4v3.75h-3.4zM283.57 362.37h3.4v3.75h-3.4zM320.77 362.37h3.4v3.75h-3.4zM175.07 365.82h3.4v3.75h-3.4zM295.97 365.82h3.4v3.75h-3.4zM128.57 369.27h3.4v3.75h-3.4zM314.57 369.27h3.4v3.75h-3.4zM240.17 372.72h3.4v3.75h-3.4zM305.27 372.72h3.4v3.75h-3.4zM308.37 372.72h3.4v3.75h-3.4zM326.97 376.17h3.4v3.75h-3.4zM181.27 383.07h3.4v3.75h-3.4zM193.67 383.07h3.4v3.75h-3.4zM264.97 393.42h3.4v3.75h-3.4zM271.17 393.42h3.4v3.75h-3.4zM289.77 410.67h3.4v3.75h-3.4zM289.77 414.12h3.4v3.75h-3.4zM75.87 417.57h3.4v3.75h-3.4zM277.37 417.57h3.4v3.75h-3.4zM277.37 421.02h3.4v3.75h-3.4zM283.57 421.02h3.4v3.75h-3.4zM289.77 421.02h3.4v3.75h-3.4zM233.97 424.47h3.4v3.75h-3.4zM274.27 424.47h3.4v3.75h-3.4zM277.37 424.47h3.4v3.75h-3.4zM54.17 427.92h3.4v3.75h-3.4zM57.27 427.92h3.4v3.75h-3.4zM274.27 427.92h3.4v3.75h-3.4zM289.77 427.92h3.4v3.75h-3.4zM54.17 431.37h3.4v3.75h-3.4zM57.27 431.37h3.4v3.75h-3.4zM283.57 431.37h3.4v3.75h-3.4zM277.37 438.27h3.4v3.75h-3.4zM289.77 438.27h3.4v3.75h-3.4zM82.07 445.17h3.4v3.75h-3.4zM82.07 448.62h3.4v3.75h-3.4zM243.27 455.52h3.4v3.75h-3.4zM237.07 462.42h3.4v3.75h-3.4zM246.37 462.42h3.4v3.75h-3.4zM240.17 469.32h3.4v3.75h-3.4zM246.37 469.32h3.4v3.75h-3.4z"/>
<path fill="#f298a1" d="M333.17 100.17h3.4v3.75h-3.4zM339.37 100.17h3.4v3.75h-3.4zM342.47 100.17h3.4v3.75h-3.4zM379.67 100.17h3.4v3.75h-3.4zM385.87 100.17h3.4v3.75h-3.4zM457.17 100.17h3.4v3.75h-3.4zM460.27 100.17h3.4v3.75h-3.4zM481.97 100.17h3.4v3.75h-3.4zM339.37 103.62h3.4v3.75h-3.4zM463.37 103.62h3.4v3.75h-3.4zM478.87 103.62h3.4v3.75h-3.4zM237.07 107.07h3.4v3.75h-3.4zM240.17 107.07h3.4v3.75h-3.4zM339.37 107.07h3.4v3.75h-3.4zM339.37 110.52h3.4v3.75h-3.4zM404.47 110.52h3.4v3.75h-3.4zM478.87 110.52h3.4v3.75h-3.4zM481.97 110.52h3.4v3.75h-3.4zM525.37 110.52h3.4v3.75h-3.4zM339.37 113.97h3.4v3.75h-3.4zM345.57 113.97h3.4v3.75h-3.4zM395.17 113.97h3.4v3.75h-3.4zM283.57 117.42h3.4v3.75h-3.4zM286.67 117.42h3.4v3.75h-3.4zM311.47 117.42h3.4v3.75h-3.4zM317.67 117.42h3.4v3.75h-3.4zM339.37 117.42h3.4v3.75h-3.4zM345.57 117.42h3.4v3.75h-3.4zM357.97 117.42h3.4v3.75h-3.4zM361.07 117.42h3.4v3.75h-3.4zM364.17 117.42h3.4v3.75h-3.4zM370.37 117.42h3.4v3.75h-3.4zM435.47 117.42h3.4v3.75h-3.4zM494.37 117.42h3.4v3.75h-3.4zM497.47 117.42h3.4v3.75h-3.4zM516.07 117.42h3.4v3.75h-3.4zM289.77 120.87h3.4v3.75h-3.4zM311.47 120.87h3.4v3.75h-3.4zM317.67 120.87h3.4v3.75h-3.4zM367.27 120.87h3.4v3.75h-3.4zM373.47 120.87h3.4v3.75h-3.4zM423.07 120.87h3.4v3.75h-3.4zM432.37 120.87h3.4v3.75h-3.4zM435.47 120.87h3.4v3.75h-3.4zM466.47 120.87h3.4v3.75h-3.4zM475.77 120.87h3.4v3.75h-3.4zM494.37 120.87h3.4v3.75h-3.4zM370.37 124.32h3.4v3.75h-3.4zM419.97 124.32h3.4v3.75h-3.4zM432.37 124.32h3.4v3.75h-3.4zM268.07 127.77h3.4v3.75h-3.4zM274.27 127.77h3.4v3.75h-3.4zM339.37 127.77h3.4v3.75h-3.4zM373.47 127.77h3.4v3.75h-3.4zM376.57 127.77h3.4v3.75h-3.4zM392.07 127.77h3.4v3.75h-3.4zM500.57 127.77h3.4v3.75h-3.4zM503.67 127.77h3.4v3.75h-3.4zM271.17 131.22h3.4v3.75h-3.4zM274.27 131.22h3.4v3.75h-3.4zM302.17 131.22h3.4v3.75h-3.4zM305.27 131.22h3.4v3.75h-3.4zM370.37 131.22h3.4v3.75h-3.4zM373.47 131.22h3.4v3.75h-3.4zM382.77 131.22h3.4v3.75h-3.4zM367.27 134.67h3.4v3.75h-3.4zM379.67 134.67h3.4v3.75h-3.4zM385.87 134.67h3.4v3.75h-3.4zM388.97 134.67h3.4v3.75h-3.4zM345.57 138.12h3.4v3.75h-3.4zM364.17 138.12h3.4v3.75h-3.4zM367.27 138.12h3.4v3.75h-3.4zM435.47 138.12h3.4v3.75h-3.4zM398.27 141.57h3.4v3.75h-3.4zM407.57 141.57h3.4v3.75h-3.4zM398.27 145.02h3.4v3.75h-3.4zM438.57 148.47h3.4v3.75h-3.4zM441.67 148.47h3.4v3.75h-3.4zM376.57 151.92h3.4v3.75h-3.4zM410.67 151.92h3.4v3.75h-3.4zM413.77 151.92h3.4v3.75h-3.4zM432.37 151.92h3.4v3.75h-3.4zM184.37 155.37h3.4v3.75h-3.4zM187.47 155.37h3.4v3.75h-3.4zM441.67 155.37h3.4v3.75h-3.4zM429.27 158.82h3.4v3.75h-3.4zM481.97 165.72h3.4v3.75h-3.4zM364.17 169.17h3.4v3.75h-3.4zM206.07 172.62h3.4v3.75h-3.4zM206.07 176.07h3.4v3.75h-3.4zM209.17 176.07h3.4v3.75h-3.4zM351.77 186.42h3.4v3.75h-3.4zM354.87 186.42h3.4v3.75h-3.4zM423.07 186.42h3.4v3.75h-3.4zM426.17 186.42h3.4v3.75h-3.4zM199.87 189.87h3.4v3.75h-3.4zM410.67 189.87h3.4v3.75h-3.4zM423.07 193.32h3.4v3.75h-3.4zM162.67 196.77h3.4v3.75h-3.4zM162.67 210.57h3.4v3.75h-3.4zM491.27 210.57h3.4v3.75h-3.4zM209.17 214.02h3.4v3.75h-3.4zM500.57 214.02h3.4v3.75h-3.4zM206.07 220.92h3.4v3.75h-3.4zM311.47 220.92h3.4v3.75h-3.4zM150.27 224.37h3.4v3.75h-3.4zM202.97 224.37h3.4v3.75h-3.4zM311.47 224.37h3.4v3.75h-3.4zM206.07 227.82h3.4v3.75h-3.4zM314.57 227.82h3.4v3.75h-3.4zM354.87 227.82h3.4v3.75h-3.4zM202.97 231.27h3.4v3.75h-3.4zM209.17 231.27h3.4v3.75h-3.4zM249.47 231.27h3.4v3.75h-3.4zM364.17 231.27h3.4v3.75h-3.4zM367.27 231.27h3.4v3.75h-3.4zM147.17 234.72h3.4v3.75h-3.4zM206.07 234.72h3.4v3.75h-3.4zM255.67 234.72h3.4v3.75h-3.4zM364.17 234.72h3.4v3.75h-3.4zM159.57 238.17h3.4v3.75h-3.4zM181.27 238.17h3.4v3.75h-3.4zM187.47 238.17h3.4v3.75h-3.4zM206.07 238.17h3.4v3.75h-3.4zM224.67 238.17h3.4v3.75h-3.4zM227.77 238.17h3.4v3.75h-3.4zM153.37 241.62h3.4v3.75h-3.4zM184.37 241.62h3.4v3.75h-3.4zM215.37 245.07h3.4v3.75h-3.4zM376.57 245.07h3.4v3.75h-3.4zM423.07 245.07h3.4v3.75h-3.4zM206.07 248.52h3.4v3.75h-3.4zM209.17 248.52h3.4v3.75h-3.4zM212.27 248.52h3.4v3.75h-3.4zM215.37 248.52h3.4v3.75h-3.4zM320.77 248.52h3.4v3.75h-3.4zM348.67 248.52h3.4v3.75h-3.4zM379.67 248.52h3.4v3.75h-3.4zM382.77 248.52h3.4v3.75h-3.4zM407.57 248.52h3.4v3.75h-3.4zM419.97 248.52h3.4v3.75h-3.4zM423.07 248.52h3.4v3.75h-3.4zM209.17 251.97h3.4v3.75h-3.4zM212.27 251.97h3.4v3.75h-3.4zM286.67 251.97h3.4v3.75h-3.4zM289.77 251.97h3.4v3.75h-3.4zM314.57 251.97h3.4v3.75h-3.4zM379.67 251.97h3.4v3.75h-3.4zM382.77 251.97h3.4v3.75h-3.4zM206.07 255.42h3.4v3.75h-3.4zM209.17 255.42h3.4v3.75h-3.4zM382.77 255.42h3.4v3.75h-3.4zM268.07 258.87h3.4v3.75h-3.4zM326.97 258.87h3.4v3.75h-3.4zM398.27 258.87h3.4v3.75h-3.4zM447.87 258.87h3.4v3.75h-3.4zM314.57 262.32h3.4v3.75h-3.4zM317.67 262.32h3.4v3.75h-3.4zM323.87 262.32h3.4v3.75h-3.4zM401.37 262.32h3.4v3.75h-3.4zM438.57 262.32h3.4v3.75h-3.4zM441.67 262.32h3.4v3.75h-3.4zM444.77 262.32h3.4v3.75h-3.4zM268.07 265.77h3.4v3.75h-3.4zM426.17 265.77h3.4v3.75h-3.4zM429.27 265.77h3.4v3.75h-3.4zM432.37 265.77h3.4v3.75h-3.4zM441.67 265.77h3.4v3.75h-3.4zM447.87 265.77h3.4v3.75h-3.4zM404.47 269.22h3.4v3.75h-3.4zM407.57 269.22h3.4v3.75h-3.4zM410.67 269.22h3.4v3.75h-3.4zM423.07 269.22h3.4v3.75h-3.4zM426.17 269.22h3.4v3.75h-3.4zM429.27 269.22h3.4v3.75h-3.4zM432.37 269.22h3.4v3.75h-3.4zM125.47 272.67h3.4v3.75h-3.4zM299.07 272.67h3.4v3.75h-3.4zM339.37 272.67h3.4v3.75h-3.4zM401.37 272.67h3.4v3.75h-3.4zM410.67 272.67h3.4v3.75h-3.4zM423.07 272.67h3.4v3.75h-3.4zM426.17 272.67h3.4v3.75h-3.4zM429.27 272.67h3.4v3.75h-3.4zM432.37 272.67h3.4v3.75h-3.4zM345.57 276.12h3.4v3.75h-3.4zM354.87 276.12h3.4v3.75h-3.4zM361.07 276.12h3.4v3.75h-3.4zM429.27 276.12h3.4v3.75h-3.4zM432.37 276.12h3.4v3.75h-3.4zM345.57 279.57h3.4v3.75h-3.4zM367.27 279.57h3.4v3.75h-3.4zM416.87 279.57h3.4v3.75h-3.4zM202.97 283.02h3.4v3.75h-3.4zM209.17 283.02h3.4v3.75h-3.4zM283.57 283.02h3.4v3.75h-3.4zM289.77 283.02h3.4v3.75h-3.4zM361.07 283.02h3.4v3.75h-3.4zM370.37 283.02h3.4v3.75h-3.4zM410.67 283.02h3.4v3.75h-3.4zM413.77 283.02h3.4v3.75h-3.4zM209.17 286.47h3.4v3.75h-3.4zM283.57 286.47h3.4v3.75h-3.4zM357.97 286.47h3.4v3.75h-3.4zM361.07 286.47h3.4v3.75h-3.4zM206.07 289.92h3.4v3.75h-3.4zM286.67 289.92h3.4v3.75h-3.4zM361.07 289.92h3.4v3.75h-3.4zM196.77 293.37h3.4v3.75h-3.4zM351.77 296.82h3.4v3.75h-3.4zM283.57 300.27h3.4v3.75h-3.4zM286.67 300.27h3.4v3.75h-3.4zM299.07 300.27h3.4v3.75h-3.4zM311.47 300.27h3.4v3.75h-3.4zM342.47 300.27h3.4v3.75h-3.4zM292.87 303.72h3.4v3.75h-3.4zM295.97 303.72h3.4v3.75h-3.4zM348.67 307.17h3.4v3.75h-3.4zM361.07 307.17h3.4v3.75h-3.4zM311.47 310.62h3.4v3.75h-3.4zM314.57 310.62h3.4v3.75h-3.4zM354.87 314.07h3.4v3.75h-3.4zM357.97 317.52h3.4v3.75h-3.4zM361.07 317.52h3.4v3.75h-3.4zM199.87 320.97h3.4v3.75h-3.4zM354.87 320.97h3.4v3.75h-3.4zM202.97 324.42h3.4v3.75h-3.4zM206.07 324.42h3.4v3.75h-3.4zM209.17 324.42h3.4v3.75h-3.4zM323.87 324.42h3.4v3.75h-3.4zM342.47 324.42h3.4v3.75h-3.4zM202.97 327.87h3.4v3.75h-3.4zM336.27 327.87h3.4v3.75h-3.4zM345.57 327.87h3.4v3.75h-3.4zM125.47 331.32h3.4v3.75h-3.4zM209.17 331.32h3.4v3.75h-3.4zM237.07 331.32h3.4v3.75h-3.4zM314.57 331.32h3.4v3.75h-3.4zM345.57 331.32h3.4v3.75h-3.4zM240.17 334.77h3.4v3.75h-3.4zM116.17 338.22h3.4v3.75h-3.4zM243.27 338.22h3.4v3.75h-3.4zM249.47 338.22h3.4v3.75h-3.4zM351.77 338.22h3.4v3.75h-3.4zM116.17 341.67h3.4v3.75h-3.4zM119.27 341.67h3.4v3.75h-3.4zM342.47 341.67h3.4v3.75h-3.4zM333.17 345.12h3.4v3.75h-3.4zM339.37 345.12h3.4v3.75h-3.4zM140.97 348.57h3.4v3.75h-3.4zM144.07 348.57h3.4v3.75h-3.4zM243.27 348.57h3.4v3.75h-3.4zM342.47 348.57h3.4v3.75h-3.4zM140.97 352.02h3.4v3.75h-3.4zM144.07 352.02h3.4v3.75h-3.4zM181.27 352.02h3.4v3.75h-3.4zM233.97 352.02h3.4v3.75h-3.4zM246.37 352.02h3.4v3.75h-3.4zM144.07 355.47h3.4v3.75h-3.4zM264.97 358.92h3.4v3.75h-3.4zM274.27 358.92h3.4v3.75h-3.4zM106.87 362.37h3.4v3.75h-3.4zM261.87 362.37h3.4v3.75h-3.4zM233.97 365.82h3.4v3.75h-3.4zM237.07 365.82h3.4v3.75h-3.4zM336.27 365.82h3.4v3.75h-3.4zM125.47 369.27h3.4v3.75h-3.4zM227.77 369.27h3.4v3.75h-3.4zM240.17 369.27h3.4v3.75h-3.4zM261.87 369.27h3.4v3.75h-3.4zM336.27 369.27h3.4v3.75h-3.4zM113.07 372.72h3.4v3.75h-3.4zM122.37 372.72h3.4v3.75h-3.4zM153.37 372.72h3.4v3.75h-3.4zM156.47 372.72h3.4v3.75h-3.4zM339.37 372.72h3.4v3.75h-3.4zM357.97 372.72h3.4v3.75h-3.4zM159.57 376.17h3.4v3.75h-3.4zM292.87 376.17h3.4v3.75h-3.4zM336.27 376.17h3.4v3.75h-3.4zM153.37 379.62h3.4v3.75h-3.4zM159.57 379.62h3.4v3.75h-3.4zM162.67 379.62h3.4v3.75h-3.4zM249.47 379.62h3.4v3.75h-3.4zM162.67 383.07h3.4v3.75h-3.4zM209.17 383.07h3.4v3.75h-3.4zM283.57 383.07h3.4v3.75h-3.4zM103.77 386.52h3.4v3.75h-3.4zM106.87 386.52h3.4v3.75h-3.4zM109.97 386.52h3.4v3.75h-3.4zM209.17 386.52h3.4v3.75h-3.4zM246.37 386.52h3.4v3.75h-3.4zM252.57 386.52h3.4v3.75h-3.4zM106.87 389.97h3.4v3.75h-3.4zM109.97 389.97h3.4v3.75h-3.4zM209.17 389.97h3.4v3.75h-3.4zM212.27 389.97h3.4v3.75h-3.4zM289.77 389.97h3.4v3.75h-3.4zM348.67 389.97h3.4v3.75h-3.4zM116.17 396.87h3.4v3.75h-3.4zM274.27 396.87h3.4v3.75h-3.4zM274.27 403.77h3.4v3.75h-3.4zM295.97 403.77h3.4v3.75h-3.4zM299.07 403.77h3.4v3.75h-3.4zM125.47 410.67h3.4v3.75h-3.4zM128.57 410.67h3.4v3.75h-3.4zM131.67 410.67h3.4v3.75h-3.4zM323.87 410.67h3.4v3.75h-3.4zM137.87 414.12h3.4v3.75h-3.4zM218.47 414.12h3.4v3.75h-3.4zM125.47 417.57h3.4v3.75h-3.4zM128.57 417.57h3.4v3.75h-3.4zM131.67 417.57h3.4v3.75h-3.4zM255.67 417.57h3.4v3.75h-3.4zM128.57 421.02h3.4v3.75h-3.4zM131.67 421.02h3.4v3.75h-3.4zM317.67 421.02h3.4v3.75h-3.4zM320.77 421.02h3.4v3.75h-3.4zM323.87 421.02h3.4v3.75h-3.4zM302.17 424.47h3.4v3.75h-3.4zM317.67 424.47h3.4v3.75h-3.4zM320.77 424.47h3.4v3.75h-3.4zM63.47 431.37h3.4v3.75h-3.4zM66.57 431.37h3.4v3.75h-3.4zM78.97 431.37h3.4v3.75h-3.4zM193.67 431.37h3.4v3.75h-3.4zM51.07 434.82h3.4v3.75h-3.4zM78.97 434.82h3.4v3.75h-3.4zM122.37 434.82h3.4v3.75h-3.4zM209.17 434.82h3.4v3.75h-3.4zM212.27 434.82h3.4v3.75h-3.4zM289.77 434.82h3.4v3.75h-3.4zM94.47 438.27h3.4v3.75h-3.4zM97.57 438.27h3.4v3.75h-3.4zM103.77 438.27h3.4v3.75h-3.4zM106.87 438.27h3.4v3.75h-3.4zM109.97 438.27h3.4v3.75h-3.4zM125.47 438.27h3.4v3.75h-3.4zM209.17 438.27h3.4v3.75h-3.4zM212.27 438.27h3.4v3.75h-3.4zM215.37 438.27h3.4v3.75h-3.4zM218.47 438.27h3.4v3.75h-3.4zM221.57 441.72h3.4v3.75h-3.4zM209.17 445.17h3.4v3.75h-3.4zM221.57 445.17h3.4v3.75h-3.4zM116.17 448.62h3.4v3.75h-3.4zM209.17 448.62h3.4v3.75h-3.4zM218.47 448.62h3.4v3.75h-3.4zM218.47 452.07h3.4v3.75h-3.4zM221.57 452.07h3.4v3.75h-3.4zM215.37 455.52h3.4v3.75h-3.4zM218.47 455.52h3.4v3.75h-3.4z"/>
<path fill="#f08792" d="M345.57 100.17h3.4v3.75h-3.4zM348.67 100.17h3.4v3.75h-3.4zM351.77 100.17h3.4v3.75h-3.4zM354.87 100.17h3.4v3.75h-3.4zM361.07 100.17h3.4v3.75h-3.4zM382.77 100.17h3.4v3.75h-3.4zM388.97 100.17h3.4v3.75h-3.4zM392.07 100.17h3.4v3.75h-3.4zM395.17 100.17h3.4v3.75h-3.4zM398.27 100.17h3.4v3.75h-3.4zM407.57 100.17h3.4v3.75h-3.4zM485.07 100.17h3.4v3.75h-3.4zM345.57 103.62h3.4v3.75h-3.4zM354.87 103.62h3.4v3.75h-3.4zM382.77 103.62h3.4v3.75h-3.4zM395.17 103.62h3.4v3.75h-3.4zM398.27 103.62h3.4v3.75h-3.4zM429.27 103.62h3.4v3.75h-3.4zM494.37 103.62h3.4v3.75h-3.4zM512.97 103.62h3.4v3.75h-3.4zM342.47 107.07h3.4v3.75h-3.4zM345.57 107.07h3.4v3.75h-3.4zM395.17 107.07h3.4v3.75h-3.4zM398.27 107.07h3.4v3.75h-3.4zM401.37 107.07h3.4v3.75h-3.4zM481.97 107.07h3.4v3.75h-3.4zM494.37 107.07h3.4v3.75h-3.4zM509.87 107.07h3.4v3.75h-3.4zM512.97 107.07h3.4v3.75h-3.4zM519.17 107.07h3.4v3.75h-3.4zM522.27 107.07h3.4v3.75h-3.4zM528.47 107.07h3.4v3.75h-3.4zM342.47 110.52h3.4v3.75h-3.4zM345.57 110.52h3.4v3.75h-3.4zM348.67 110.52h3.4v3.75h-3.4zM401.37 110.52h3.4v3.75h-3.4zM463.37 110.52h3.4v3.75h-3.4zM485.07 110.52h3.4v3.75h-3.4zM488.17 110.52h3.4v3.75h-3.4zM506.77 110.52h3.4v3.75h-3.4zM512.97 110.52h3.4v3.75h-3.4zM516.07 110.52h3.4v3.75h-3.4zM519.17 110.52h3.4v3.75h-3.4zM342.47 113.97h3.4v3.75h-3.4zM491.27 113.97h3.4v3.75h-3.4zM500.57 113.97h3.4v3.75h-3.4zM516.07 113.97h3.4v3.75h-3.4zM342.47 117.42h3.4v3.75h-3.4zM367.27 117.42h3.4v3.75h-3.4zM373.47 117.42h3.4v3.75h-3.4zM379.67 117.42h3.4v3.75h-3.4zM382.77 117.42h3.4v3.75h-3.4zM423.07 117.42h3.4v3.75h-3.4zM472.67 117.42h3.4v3.75h-3.4zM475.77 117.42h3.4v3.75h-3.4zM512.97 117.42h3.4v3.75h-3.4zM314.57 120.87h3.4v3.75h-3.4zM320.77 120.87h3.4v3.75h-3.4zM339.37 120.87h3.4v3.75h-3.4zM342.47 120.87h3.4v3.75h-3.4zM364.17 120.87h3.4v3.75h-3.4zM370.37 120.87h3.4v3.75h-3.4zM376.57 120.87h3.4v3.75h-3.4zM379.67 120.87h3.4v3.75h-3.4zM382.77 120.87h3.4v3.75h-3.4zM407.57 120.87h3.4v3.75h-3.4zM516.07 120.87h3.4v3.75h-3.4zM339.37 124.32h3.4v3.75h-3.4zM357.97 124.32h3.4v3.75h-3.4zM364.17 124.32h3.4v3.75h-3.4zM376.57 124.32h3.4v3.75h-3.4zM379.67 124.32h3.4v3.75h-3.4zM392.07 124.32h3.4v3.75h-3.4zM404.47 124.32h3.4v3.75h-3.4zM426.17 124.32h3.4v3.75h-3.4zM503.67 124.32h3.4v3.75h-3.4zM506.77 124.32h3.4v3.75h-3.4zM342.47 127.77h3.4v3.75h-3.4zM354.87 127.77h3.4v3.75h-3.4zM357.97 127.77h3.4v3.75h-3.4zM361.07 127.77h3.4v3.75h-3.4zM370.37 127.77h3.4v3.75h-3.4zM379.67 127.77h3.4v3.75h-3.4zM382.77 127.77h3.4v3.75h-3.4zM385.87 127.77h3.4v3.75h-3.4zM407.57 127.77h3.4v3.75h-3.4zM444.77 127.77h3.4v3.75h-3.4zM268.07 131.22h3.4v3.75h-3.4zM364.17 131.22h3.4v3.75h-3.4zM376.57 131.22h3.4v3.75h-3.4zM385.87 131.22h3.4v3.75h-3.4zM388.97 131.22h3.4v3.75h-3.4zM444.77 131.22h3.4v3.75h-3.4zM447.87 131.22h3.4v3.75h-3.4zM274.27 134.67h3.4v3.75h-3.4zM299.07 134.67h3.4v3.75h-3.4zM351.77 134.67h3.4v3.75h-3.4zM361.07 134.67h3.4v3.75h-3.4zM376.57 134.67h3.4v3.75h-3.4zM382.77 134.67h3.4v3.75h-3.4zM351.77 138.12h3.4v3.75h-3.4zM379.67 138.12h3.4v3.75h-3.4zM382.77 138.12h3.4v3.75h-3.4zM385.87 138.12h3.4v3.75h-3.4zM361.07 141.57h3.4v3.75h-3.4zM367.27 141.57h3.4v3.75h-3.4zM370.37 141.57h3.4v3.75h-3.4zM373.47 141.57h3.4v3.75h-3.4zM395.17 141.57h3.4v3.75h-3.4zM447.87 141.57h3.4v3.75h-3.4zM454.07 141.57h3.4v3.75h-3.4zM367.27 145.02h3.4v3.75h-3.4zM370.37 145.02h3.4v3.75h-3.4zM373.47 145.02h3.4v3.75h-3.4zM395.17 145.02h3.4v3.75h-3.4zM407.57 145.02h3.4v3.75h-3.4zM457.17 145.02h3.4v3.75h-3.4zM364.17 148.47h3.4v3.75h-3.4zM367.27 148.47h3.4v3.75h-3.4zM370.37 148.47h3.4v3.75h-3.4zM376.57 148.47h3.4v3.75h-3.4zM382.77 148.47h3.4v3.75h-3.4zM444.77 148.47h3.4v3.75h-3.4zM450.97 148.47h3.4v3.75h-3.4zM361.07 151.92h3.4v3.75h-3.4zM367.27 151.92h3.4v3.75h-3.4zM388.97 151.92h3.4v3.75h-3.4zM419.97 151.92h3.4v3.75h-3.4zM438.57 151.92h3.4v3.75h-3.4zM441.67 151.92h3.4v3.75h-3.4zM444.77 155.37h3.4v3.75h-3.4zM181.27 158.82h3.4v3.75h-3.4zM450.97 158.82h3.4v3.75h-3.4zM441.67 162.27h3.4v3.75h-3.4zM457.17 162.27h3.4v3.75h-3.4zM206.07 210.57h3.4v3.75h-3.4zM494.37 210.57h3.4v3.75h-3.4zM497.47 214.02h3.4v3.75h-3.4zM206.07 217.47h3.4v3.75h-3.4zM491.27 217.47h3.4v3.75h-3.4zM308.37 220.92h3.4v3.75h-3.4zM314.57 224.37h3.4v3.75h-3.4zM150.27 234.72h3.4v3.75h-3.4zM153.37 238.17h3.4v3.75h-3.4zM184.37 238.17h3.4v3.75h-3.4zM187.47 241.62h3.4v3.75h-3.4zM348.67 245.07h3.4v3.75h-3.4zM373.47 245.07h3.4v3.75h-3.4zM404.47 245.07h3.4v3.75h-3.4zM407.57 245.07h3.4v3.75h-3.4zM478.87 245.07h3.4v3.75h-3.4zM373.47 248.52h3.4v3.75h-3.4zM376.57 248.52h3.4v3.75h-3.4zM385.87 248.52h3.4v3.75h-3.4zM475.77 248.52h3.4v3.75h-3.4zM206.07 251.97h3.4v3.75h-3.4zM280.47 251.97h3.4v3.75h-3.4zM283.57 251.97h3.4v3.75h-3.4zM311.47 251.97h3.4v3.75h-3.4zM373.47 251.97h3.4v3.75h-3.4zM423.07 251.97h3.4v3.75h-3.4zM426.17 251.97h3.4v3.75h-3.4zM277.37 255.42h3.4v3.75h-3.4zM379.67 255.42h3.4v3.75h-3.4zM423.07 255.42h3.4v3.75h-3.4zM426.17 255.42h3.4v3.75h-3.4zM274.27 258.87h3.4v3.75h-3.4zM320.77 258.87h3.4v3.75h-3.4zM429.27 258.87h3.4v3.75h-3.4zM268.07 262.32h3.4v3.75h-3.4zM274.27 262.32h3.4v3.75h-3.4zM326.97 262.32h3.4v3.75h-3.4zM423.07 262.32h3.4v3.75h-3.4zM432.37 262.32h3.4v3.75h-3.4zM460.27 262.32h3.4v3.75h-3.4zM326.97 265.77h3.4v3.75h-3.4zM373.47 265.77h3.4v3.75h-3.4zM404.47 265.77h3.4v3.75h-3.4zM444.77 265.77h3.4v3.75h-3.4zM299.07 269.22h3.4v3.75h-3.4zM373.47 272.67h3.4v3.75h-3.4zM193.67 276.12h3.4v3.75h-3.4zM373.47 276.12h3.4v3.75h-3.4zM376.57 276.12h3.4v3.75h-3.4zM435.47 276.12h3.4v3.75h-3.4zM361.07 279.57h3.4v3.75h-3.4zM376.57 279.57h3.4v3.75h-3.4zM413.77 279.57h3.4v3.75h-3.4zM432.37 279.57h3.4v3.75h-3.4zM441.67 279.57h3.4v3.75h-3.4zM286.67 283.02h3.4v3.75h-3.4zM305.27 283.02h3.4v3.75h-3.4zM357.97 283.02h3.4v3.75h-3.4zM364.17 283.02h3.4v3.75h-3.4zM367.27 283.02h3.4v3.75h-3.4zM202.97 286.47h3.4v3.75h-3.4zM206.07 286.47h3.4v3.75h-3.4zM364.17 286.47h3.4v3.75h-3.4zM373.47 286.47h3.4v3.75h-3.4zM410.67 286.47h3.4v3.75h-3.4zM413.77 286.47h3.4v3.75h-3.4zM202.97 289.92h3.4v3.75h-3.4zM209.17 289.92h3.4v3.75h-3.4zM299.07 289.92h3.4v3.75h-3.4zM364.17 289.92h3.4v3.75h-3.4zM367.27 289.92h3.4v3.75h-3.4zM410.67 289.92h3.4v3.75h-3.4zM413.77 289.92h3.4v3.75h-3.4zM339.37 293.37h3.4v3.75h-3.4zM345.57 293.37h3.4v3.75h-3.4zM348.67 293.37h3.4v3.75h-3.4zM351.77 293.37h3.4v3.75h-3.4zM333.17 296.82h3.4v3.75h-3.4zM339.37 296.82h3.4v3.75h-3.4zM345.57 296.82h3.4v3.75h-3.4zM292.87 300.27h3.4v3.75h-3.4zM295.97 300.27h3.4v3.75h-3.4zM351.77 300.27h3.4v3.75h-3.4zM354.87 300.27h3.4v3.75h-3.4zM289.77 303.72h3.4v3.75h-3.4zM342.47 303.72h3.4v3.75h-3.4zM345.57 303.72h3.4v3.75h-3.4zM348.67 303.72h3.4v3.75h-3.4zM361.07 303.72h3.4v3.75h-3.4zM357.97 307.17h3.4v3.75h-3.4zM308.37 314.07h3.4v3.75h-3.4zM348.67 317.52h3.4v3.75h-3.4zM320.77 324.42h3.4v3.75h-3.4zM339.37 324.42h3.4v3.75h-3.4zM320.77 327.87h3.4v3.75h-3.4zM339.37 327.87h3.4v3.75h-3.4zM342.47 327.87h3.4v3.75h-3.4zM317.67 331.32h3.4v3.75h-3.4zM326.97 331.32h3.4v3.75h-3.4zM342.47 331.32h3.4v3.75h-3.4zM116.17 334.77h3.4v3.75h-3.4zM243.27 334.77h3.4v3.75h-3.4zM333.17 334.77h3.4v3.75h-3.4zM351.77 334.77h3.4v3.75h-3.4zM237.07 338.22h3.4v3.75h-3.4zM240.17 338.22h3.4v3.75h-3.4zM246.37 338.22h3.4v3.75h-3.4zM333.17 338.22h3.4v3.75h-3.4zM122.37 341.67h3.4v3.75h-3.4zM252.57 345.12h3.4v3.75h-3.4zM336.27 345.12h3.4v3.75h-3.4zM345.57 345.12h3.4v3.75h-3.4zM339.37 348.57h3.4v3.75h-3.4zM345.57 348.57h3.4v3.75h-3.4zM333.17 352.02h3.4v3.75h-3.4zM351.77 352.02h3.4v3.75h-3.4zM333.17 355.47h3.4v3.75h-3.4zM339.37 355.47h3.4v3.75h-3.4zM342.47 355.47h3.4v3.75h-3.4zM354.87 358.92h3.4v3.75h-3.4zM218.47 362.37h3.4v3.75h-3.4zM224.67 362.37h3.4v3.75h-3.4zM252.57 362.37h3.4v3.75h-3.4zM258.77 365.82h3.4v3.75h-3.4zM339.37 365.82h3.4v3.75h-3.4zM106.87 369.27h3.4v3.75h-3.4zM221.57 369.27h3.4v3.75h-3.4zM230.87 369.27h3.4v3.75h-3.4zM342.47 369.27h3.4v3.75h-3.4zM348.67 369.27h3.4v3.75h-3.4zM351.77 369.27h3.4v3.75h-3.4zM109.97 372.72h3.4v3.75h-3.4zM119.27 372.72h3.4v3.75h-3.4zM159.57 372.72h3.4v3.75h-3.4zM218.47 372.72h3.4v3.75h-3.4zM342.47 372.72h3.4v3.75h-3.4zM345.57 372.72h3.4v3.75h-3.4zM348.67 372.72h3.4v3.75h-3.4zM354.87 372.72h3.4v3.75h-3.4zM106.87 376.17h3.4v3.75h-3.4zM109.97 376.17h3.4v3.75h-3.4zM333.17 376.17h3.4v3.75h-3.4zM106.87 379.62h3.4v3.75h-3.4zM109.97 383.07h3.4v3.75h-3.4zM249.47 386.52h3.4v3.75h-3.4zM116.17 400.32h3.4v3.75h-3.4zM131.67 414.12h3.4v3.75h-3.4zM54.17 434.82h3.4v3.75h-3.4zM128.57 434.82h3.4v3.75h-3.4zM144.07 434.82h3.4v3.75h-3.4zM147.17 434.82h3.4v3.75h-3.4zM150.27 434.82h3.4v3.75h-3.4zM206.07 434.82h3.4v3.75h-3.4zM122.37 438.27h3.4v3.75h-3.4zM206.07 438.27h3.4v3.75h-3.4zM221.57 438.27h3.4v3.75h-3.4zM206.07 441.72h3.4v3.75h-3.4zM209.17 441.72h3.4v3.75h-3.4zM221.57 448.62h3.4v3.75h-3.4zM277.37 448.62h3.4v3.75h-3.4zM221.57 455.52h3.4v3.75h-3.4z"/>
<path fill="#e8626f" d="M401.37 100.17h3.4v3.75h-3.4zM432.37 100.17h3.4v3.75h-3.4zM435.47 100.17h3.4v3.75h-3.4zM497.47 100.17h3.4v3.75h-3.4zM500.57 100.17h3.4v3.75h-3.4zM503.67 100.17h3.4v3.75h-3.4zM506.77 100.17h3.4v3.75h-3.4zM512.97 100.17h3.4v3.75h-3.4zM432.37 103.62h3.4v3.75h-3.4zM488.17 103.62h3.4v3.75h-3.4zM491.27 103.62h3.4v3.75h-3.4zM500.57 103.62h3.4v3.75h-3.4zM503.67 103.62h3.4v3.75h-3.4zM348.67 107.07h3.4v3.75h-3.4zM485.07 107.07h3.4v3.75h-3.4zM503.67 110.52h3.4v3.75h-3.4zM488.17 113.97h3.4v3.75h-3.4zM506.77 113.97h3.4v3.75h-3.4zM500.57 117.42h3.4v3.75h-3.4zM506.77 117.42h3.4v3.75h-3.4zM509.87 117.42h3.4v3.75h-3.4zM385.87 120.87h3.4v3.75h-3.4zM410.67 120.87h3.4v3.75h-3.4zM509.87 120.87h3.4v3.75h-3.4zM345.57 124.32h3.4v3.75h-3.4zM351.77 124.32h3.4v3.75h-3.4zM385.87 124.32h3.4v3.75h-3.4zM450.97 127.77h3.4v3.75h-3.4zM457.17 127.77h3.4v3.75h-3.4zM450.97 131.22h3.4v3.75h-3.4zM454.07 131.22h3.4v3.75h-3.4zM268.07 134.67h3.4v3.75h-3.4zM450.97 134.67h3.4v3.75h-3.4zM454.07 134.67h3.4v3.75h-3.4zM354.87 138.12h3.4v3.75h-3.4zM429.27 138.12h3.4v3.75h-3.4zM447.87 138.12h3.4v3.75h-3.4zM454.07 138.12h3.4v3.75h-3.4zM376.57 141.57h3.4v3.75h-3.4zM382.77 141.57h3.4v3.75h-3.4zM441.67 141.57h3.4v3.75h-3.4zM392.07 145.02h3.4v3.75h-3.4zM435.47 145.02h3.4v3.75h-3.4zM447.87 145.02h3.4v3.75h-3.4zM450.97 145.02h3.4v3.75h-3.4zM357.97 148.47h3.4v3.75h-3.4zM385.87 148.47h3.4v3.75h-3.4zM416.87 148.47h3.4v3.75h-3.4zM426.17 148.47h3.4v3.75h-3.4zM385.87 151.92h3.4v3.75h-3.4zM419.97 155.37h3.4v3.75h-3.4zM423.07 155.37h3.4v3.75h-3.4zM426.17 155.37h3.4v3.75h-3.4zM444.77 158.82h3.4v3.75h-3.4zM438.57 162.27h3.4v3.75h-3.4zM444.77 162.27h3.4v3.75h-3.4zM367.27 169.17h3.4v3.75h-3.4zM370.37 169.17h3.4v3.75h-3.4zM373.47 169.17h3.4v3.75h-3.4zM370.37 172.62h3.4v3.75h-3.4zM373.47 172.62h3.4v3.75h-3.4zM367.27 176.07h3.4v3.75h-3.4zM370.37 176.07h3.4v3.75h-3.4zM373.47 176.07h3.4v3.75h-3.4zM147.17 238.17h3.4v3.75h-3.4zM147.17 241.62h3.4v3.75h-3.4zM478.87 248.52h3.4v3.75h-3.4zM317.67 251.97h3.4v3.75h-3.4zM410.67 251.97h3.4v3.75h-3.4zM413.77 251.97h3.4v3.75h-3.4zM416.87 251.97h3.4v3.75h-3.4zM283.57 255.42h3.4v3.75h-3.4zM286.67 255.42h3.4v3.75h-3.4zM317.67 255.42h3.4v3.75h-3.4zM320.77 255.42h3.4v3.75h-3.4zM407.57 255.42h3.4v3.75h-3.4zM410.67 255.42h3.4v3.75h-3.4zM413.77 255.42h3.4v3.75h-3.4zM416.87 255.42h3.4v3.75h-3.4zM419.97 255.42h3.4v3.75h-3.4zM277.37 258.87h3.4v3.75h-3.4zM280.47 258.87h3.4v3.75h-3.4zM283.57 258.87h3.4v3.75h-3.4zM286.67 258.87h3.4v3.75h-3.4zM289.77 258.87h3.4v3.75h-3.4zM373.47 258.87h3.4v3.75h-3.4zM413.77 258.87h3.4v3.75h-3.4zM277.37 262.32h3.4v3.75h-3.4zM280.47 262.32h3.4v3.75h-3.4zM283.57 262.32h3.4v3.75h-3.4zM373.47 262.32h3.4v3.75h-3.4zM410.67 262.32h3.4v3.75h-3.4zM413.77 262.32h3.4v3.75h-3.4zM416.87 262.32h3.4v3.75h-3.4zM419.97 262.32h3.4v3.75h-3.4zM280.47 265.77h3.4v3.75h-3.4zM283.57 265.77h3.4v3.75h-3.4zM286.67 265.77h3.4v3.75h-3.4zM410.67 265.77h3.4v3.75h-3.4zM413.77 265.77h3.4v3.75h-3.4zM364.17 276.12h3.4v3.75h-3.4zM395.17 276.12h3.4v3.75h-3.4zM398.27 276.12h3.4v3.75h-3.4zM401.37 276.12h3.4v3.75h-3.4zM404.47 276.12h3.4v3.75h-3.4zM398.27 279.57h3.4v3.75h-3.4zM404.47 279.57h3.4v3.75h-3.4zM370.37 289.92h3.4v3.75h-3.4zM373.47 289.92h3.4v3.75h-3.4zM364.17 293.37h3.4v3.75h-3.4zM367.27 293.37h3.4v3.75h-3.4zM376.57 293.37h3.4v3.75h-3.4zM364.17 296.82h3.4v3.75h-3.4zM367.27 296.82h3.4v3.75h-3.4zM373.47 296.82h3.4v3.75h-3.4zM376.57 296.82h3.4v3.75h-3.4zM413.77 296.82h3.4v3.75h-3.4zM416.87 296.82h3.4v3.75h-3.4zM364.17 300.27h3.4v3.75h-3.4zM367.27 300.27h3.4v3.75h-3.4zM370.37 300.27h3.4v3.75h-3.4zM413.77 300.27h3.4v3.75h-3.4zM416.87 300.27h3.4v3.75h-3.4zM339.37 303.72h3.4v3.75h-3.4zM370.37 303.72h3.4v3.75h-3.4zM413.77 303.72h3.4v3.75h-3.4zM116.17 331.32h3.4v3.75h-3.4zM119.27 331.32h3.4v3.75h-3.4zM252.57 348.57h3.4v3.75h-3.4zM255.67 348.57h3.4v3.75h-3.4zM258.77 348.57h3.4v3.75h-3.4zM264.97 348.57h3.4v3.75h-3.4zM348.67 355.47h3.4v3.75h-3.4zM357.97 362.37h3.4v3.75h-3.4zM218.47 365.82h3.4v3.75h-3.4zM218.47 369.27h3.4v3.75h-3.4zM348.67 376.17h3.4v3.75h-3.4zM336.27 389.97h3.4v3.75h-3.4zM156.47 417.57h3.4v3.75h-3.4zM159.57 417.57h3.4v3.75h-3.4zM153.37 421.02h3.4v3.75h-3.4zM156.47 421.02h3.4v3.75h-3.4zM159.57 421.02h3.4v3.75h-3.4zM246.37 421.02h3.4v3.75h-3.4zM308.37 421.02h3.4v3.75h-3.4zM311.47 421.02h3.4v3.75h-3.4zM308.37 424.47h3.4v3.75h-3.4zM311.47 424.47h3.4v3.75h-3.4zM190.57 427.92h3.4v3.75h-3.4zM311.47 427.92h3.4v3.75h-3.4zM190.57 431.37h3.4v3.75h-3.4zM165.77 438.27h3.4v3.75h-3.4zM212.27 441.72h3.4v3.75h-3.4zM215.37 441.72h3.4v3.75h-3.4zM218.47 441.72h3.4v3.75h-3.4zM218.47 445.17h3.4v3.75h-3.4zM280.47 455.52h3.4v3.75h-3.4zM264.97 458.97h3.4v3.75h-3.4zM268.07 458.97h3.4v3.75h-3.4zM280.47 458.97h3.4v3.75h-3.4zM264.97 462.42h3.4v3.75h-3.4zM271.17 462.42h3.4v3.75h-3.4zM280.47 462.42h3.4v3.75h-3.4z"/>
<path fill="#ec7682" d="M429.27 100.17h3.4v3.75h-3.4zM438.57 100.17h3.4v3.75h-3.4zM441.67 100.17h3.4v3.75h-3.4zM488.17 100.17h3.4v3.75h-3.4zM491.27 100.17h3.4v3.75h-3.4zM494.37 100.17h3.4v3.75h-3.4zM509.87 100.17h3.4v3.75h-3.4zM342.47 103.62h3.4v3.75h-3.4zM348.67 103.62h3.4v3.75h-3.4zM351.77 103.62h3.4v3.75h-3.4zM357.97 103.62h3.4v3.75h-3.4zM361.07 103.62h3.4v3.75h-3.4zM388.97 103.62h3.4v3.75h-3.4zM392.07 103.62h3.4v3.75h-3.4zM401.37 103.62h3.4v3.75h-3.4zM438.57 103.62h3.4v3.75h-3.4zM441.67 103.62h3.4v3.75h-3.4zM485.07 103.62h3.4v3.75h-3.4zM497.47 103.62h3.4v3.75h-3.4zM506.77 103.62h3.4v3.75h-3.4zM509.87 103.62h3.4v3.75h-3.4zM488.17 107.07h3.4v3.75h-3.4zM491.27 107.07h3.4v3.75h-3.4zM497.47 107.07h3.4v3.75h-3.4zM500.57 107.07h3.4v3.75h-3.4zM503.67 107.07h3.4v3.75h-3.4zM516.07 107.07h3.4v3.75h-3.4zM351.77 110.52h3.4v3.75h-3.4zM491.27 110.52h3.4v3.75h-3.4zM494.37 110.52h3.4v3.75h-3.4zM497.47 110.52h3.4v3.75h-3.4zM500.57 110.52h3.4v3.75h-3.4zM509.87 110.52h3.4v3.75h-3.4zM522.27 110.52h3.4v3.75h-3.4zM348.67 113.97h3.4v3.75h-3.4zM351.77 113.97h3.4v3.75h-3.4zM401.37 113.97h3.4v3.75h-3.4zM485.07 113.97h3.4v3.75h-3.4zM494.37 113.97h3.4v3.75h-3.4zM503.67 113.97h3.4v3.75h-3.4zM509.87 113.97h3.4v3.75h-3.4zM512.97 113.97h3.4v3.75h-3.4zM519.17 113.97h3.4v3.75h-3.4zM522.27 113.97h3.4v3.75h-3.4zM348.67 117.42h3.4v3.75h-3.4zM351.77 117.42h3.4v3.75h-3.4zM354.87 117.42h3.4v3.75h-3.4zM385.87 117.42h3.4v3.75h-3.4zM404.47 117.42h3.4v3.75h-3.4zM407.57 117.42h3.4v3.75h-3.4zM345.57 120.87h3.4v3.75h-3.4zM348.67 120.87h3.4v3.75h-3.4zM351.77 120.87h3.4v3.75h-3.4zM354.87 120.87h3.4v3.75h-3.4zM357.97 120.87h3.4v3.75h-3.4zM361.07 120.87h3.4v3.75h-3.4zM404.47 120.87h3.4v3.75h-3.4zM413.77 120.87h3.4v3.75h-3.4zM500.57 120.87h3.4v3.75h-3.4zM503.67 120.87h3.4v3.75h-3.4zM506.77 120.87h3.4v3.75h-3.4zM512.97 120.87h3.4v3.75h-3.4zM342.47 124.32h3.4v3.75h-3.4zM354.87 124.32h3.4v3.75h-3.4zM361.07 124.32h3.4v3.75h-3.4zM367.27 124.32h3.4v3.75h-3.4zM373.47 124.32h3.4v3.75h-3.4zM407.57 124.32h3.4v3.75h-3.4zM410.67 124.32h3.4v3.75h-3.4zM413.77 124.32h3.4v3.75h-3.4zM444.77 124.32h3.4v3.75h-3.4zM447.87 124.32h3.4v3.75h-3.4zM450.97 124.32h3.4v3.75h-3.4zM454.07 124.32h3.4v3.75h-3.4zM457.17 124.32h3.4v3.75h-3.4zM345.57 127.77h3.4v3.75h-3.4zM348.67 127.77h3.4v3.75h-3.4zM351.77 127.77h3.4v3.75h-3.4zM364.17 127.77h3.4v3.75h-3.4zM367.27 127.77h3.4v3.75h-3.4zM388.97 127.77h3.4v3.75h-3.4zM404.47 127.77h3.4v3.75h-3.4zM447.87 127.77h3.4v3.75h-3.4zM454.07 127.77h3.4v3.75h-3.4zM348.67 131.22h3.4v3.75h-3.4zM357.97 131.22h3.4v3.75h-3.4zM361.07 131.22h3.4v3.75h-3.4zM392.07 131.22h3.4v3.75h-3.4zM429.27 131.22h3.4v3.75h-3.4zM432.37 131.22h3.4v3.75h-3.4zM271.17 134.67h3.4v3.75h-3.4zM354.87 134.67h3.4v3.75h-3.4zM373.47 134.67h3.4v3.75h-3.4zM392.07 134.67h3.4v3.75h-3.4zM429.27 134.67h3.4v3.75h-3.4zM444.77 134.67h3.4v3.75h-3.4zM268.07 138.12h3.4v3.75h-3.4zM271.17 138.12h3.4v3.75h-3.4zM274.27 138.12h3.4v3.75h-3.4zM348.67 138.12h3.4v3.75h-3.4zM357.97 138.12h3.4v3.75h-3.4zM361.07 138.12h3.4v3.75h-3.4zM373.47 138.12h3.4v3.75h-3.4zM376.57 138.12h3.4v3.75h-3.4zM392.07 138.12h3.4v3.75h-3.4zM432.37 138.12h3.4v3.75h-3.4zM444.77 138.12h3.4v3.75h-3.4zM457.17 138.12h3.4v3.75h-3.4zM354.87 141.57h3.4v3.75h-3.4zM357.97 141.57h3.4v3.75h-3.4zM364.17 141.57h3.4v3.75h-3.4zM379.67 141.57h3.4v3.75h-3.4zM388.97 141.57h3.4v3.75h-3.4zM392.07 141.57h3.4v3.75h-3.4zM435.47 141.57h3.4v3.75h-3.4zM438.57 141.57h3.4v3.75h-3.4zM444.77 141.57h3.4v3.75h-3.4zM450.97 141.57h3.4v3.75h-3.4zM354.87 145.02h3.4v3.75h-3.4zM357.97 145.02h3.4v3.75h-3.4zM361.07 145.02h3.4v3.75h-3.4zM364.17 145.02h3.4v3.75h-3.4zM376.57 145.02h3.4v3.75h-3.4zM379.67 145.02h3.4v3.75h-3.4zM382.77 145.02h3.4v3.75h-3.4zM388.97 145.02h3.4v3.75h-3.4zM438.57 145.02h3.4v3.75h-3.4zM441.67 145.02h3.4v3.75h-3.4zM444.77 145.02h3.4v3.75h-3.4zM410.67 148.47h3.4v3.75h-3.4zM413.77 148.47h3.4v3.75h-3.4zM419.97 148.47h3.4v3.75h-3.4zM423.07 148.47h3.4v3.75h-3.4zM435.47 148.47h3.4v3.75h-3.4zM447.87 148.47h3.4v3.75h-3.4zM354.87 151.92h3.4v3.75h-3.4zM357.97 151.92h3.4v3.75h-3.4zM364.17 151.92h3.4v3.75h-3.4zM370.37 151.92h3.4v3.75h-3.4zM373.47 151.92h3.4v3.75h-3.4zM379.67 151.92h3.4v3.75h-3.4zM382.77 151.92h3.4v3.75h-3.4zM416.87 151.92h3.4v3.75h-3.4zM423.07 151.92h3.4v3.75h-3.4zM426.17 151.92h3.4v3.75h-3.4zM435.47 151.92h3.4v3.75h-3.4zM447.87 151.92h3.4v3.75h-3.4zM450.97 151.92h3.4v3.75h-3.4zM531.57 151.92h3.4v3.75h-3.4zM416.87 155.37h3.4v3.75h-3.4zM435.47 155.37h3.4v3.75h-3.4zM447.87 155.37h3.4v3.75h-3.4zM450.97 155.37h3.4v3.75h-3.4zM531.57 155.37h3.4v3.75h-3.4zM435.47 158.82h3.4v3.75h-3.4zM438.57 158.82h3.4v3.75h-3.4zM447.87 158.82h3.4v3.75h-3.4zM435.47 162.27h3.4v3.75h-3.4zM447.87 162.27h3.4v3.75h-3.4zM450.97 162.27h3.4v3.75h-3.4zM373.47 165.72h3.4v3.75h-3.4zM376.57 165.72h3.4v3.75h-3.4zM376.57 169.17h3.4v3.75h-3.4zM364.17 172.62h3.4v3.75h-3.4zM376.57 172.62h3.4v3.75h-3.4zM364.17 176.07h3.4v3.75h-3.4zM376.57 176.07h3.4v3.75h-3.4zM432.37 182.97h3.4v3.75h-3.4zM435.47 182.97h3.4v3.75h-3.4zM153.37 234.72h3.4v3.75h-3.4zM150.27 238.17h3.4v3.75h-3.4zM150.27 241.62h3.4v3.75h-3.4zM475.77 245.07h3.4v3.75h-3.4zM481.97 245.07h3.4v3.75h-3.4zM404.47 248.52h3.4v3.75h-3.4zM481.97 248.52h3.4v3.75h-3.4zM277.37 251.97h3.4v3.75h-3.4zM320.77 251.97h3.4v3.75h-3.4zM404.47 251.97h3.4v3.75h-3.4zM407.57 251.97h3.4v3.75h-3.4zM419.97 251.97h3.4v3.75h-3.4zM478.87 251.97h3.4v3.75h-3.4zM481.97 251.97h3.4v3.75h-3.4zM373.47 255.42h3.4v3.75h-3.4zM376.57 255.42h3.4v3.75h-3.4zM404.47 255.42h3.4v3.75h-3.4zM478.87 255.42h3.4v3.75h-3.4zM481.97 255.42h3.4v3.75h-3.4zM376.57 258.87h3.4v3.75h-3.4zM404.47 258.87h3.4v3.75h-3.4zM416.87 258.87h3.4v3.75h-3.4zM419.97 258.87h3.4v3.75h-3.4zM426.17 258.87h3.4v3.75h-3.4zM289.77 262.32h3.4v3.75h-3.4zM404.47 262.32h3.4v3.75h-3.4zM426.17 262.32h3.4v3.75h-3.4zM289.77 265.77h3.4v3.75h-3.4zM407.57 265.77h3.4v3.75h-3.4zM416.87 265.77h3.4v3.75h-3.4zM419.97 265.77h3.4v3.75h-3.4zM342.47 269.22h3.4v3.75h-3.4zM373.47 269.22h3.4v3.75h-3.4zM376.57 272.67h3.4v3.75h-3.4zM370.37 276.12h3.4v3.75h-3.4zM385.87 276.12h3.4v3.75h-3.4zM388.97 276.12h3.4v3.75h-3.4zM364.17 279.57h3.4v3.75h-3.4zM370.37 279.57h3.4v3.75h-3.4zM373.47 279.57h3.4v3.75h-3.4zM395.17 279.57h3.4v3.75h-3.4zM206.07 283.02h3.4v3.75h-3.4zM373.47 283.02h3.4v3.75h-3.4zM367.27 286.47h3.4v3.75h-3.4zM370.37 286.47h3.4v3.75h-3.4zM342.47 293.37h3.4v3.75h-3.4zM339.37 300.27h3.4v3.75h-3.4zM357.97 300.27h3.4v3.75h-3.4zM361.07 300.27h3.4v3.75h-3.4zM354.87 303.72h3.4v3.75h-3.4zM357.97 303.72h3.4v3.75h-3.4zM311.47 314.07h3.4v3.75h-3.4zM311.47 320.97h3.4v3.75h-3.4zM314.57 324.42h3.4v3.75h-3.4zM323.87 327.87h3.4v3.75h-3.4zM348.67 327.87h3.4v3.75h-3.4zM122.37 331.32h3.4v3.75h-3.4zM333.17 331.32h3.4v3.75h-3.4zM348.67 331.32h3.4v3.75h-3.4zM119.27 334.77h3.4v3.75h-3.4zM122.37 334.77h3.4v3.75h-3.4zM119.27 338.22h3.4v3.75h-3.4zM249.47 348.57h3.4v3.75h-3.4zM261.87 348.57h3.4v3.75h-3.4zM252.57 352.02h3.4v3.75h-3.4zM255.67 352.02h3.4v3.75h-3.4zM258.77 352.02h3.4v3.75h-3.4zM261.87 352.02h3.4v3.75h-3.4zM264.97 352.02h3.4v3.75h-3.4zM336.27 352.02h3.4v3.75h-3.4zM354.87 355.47h3.4v3.75h-3.4zM357.97 358.92h3.4v3.75h-3.4zM221.57 362.37h3.4v3.75h-3.4zM339.37 362.37h3.4v3.75h-3.4zM342.47 362.37h3.4v3.75h-3.4zM345.57 362.37h3.4v3.75h-3.4zM351.77 362.37h3.4v3.75h-3.4zM354.87 362.37h3.4v3.75h-3.4zM221.57 365.82h3.4v3.75h-3.4zM224.67 365.82h3.4v3.75h-3.4zM351.77 365.82h3.4v3.75h-3.4zM224.67 369.27h3.4v3.75h-3.4zM357.97 369.27h3.4v3.75h-3.4zM283.57 372.72h3.4v3.75h-3.4zM351.77 372.72h3.4v3.75h-3.4zM113.07 376.17h3.4v3.75h-3.4zM119.27 376.17h3.4v3.75h-3.4zM339.37 389.97h3.4v3.75h-3.4zM336.27 393.42h3.4v3.75h-3.4zM153.37 414.12h3.4v3.75h-3.4zM156.47 414.12h3.4v3.75h-3.4zM159.57 414.12h3.4v3.75h-3.4zM246.37 414.12h3.4v3.75h-3.4zM153.37 417.57h3.4v3.75h-3.4zM314.57 417.57h3.4v3.75h-3.4zM314.57 421.02h3.4v3.75h-3.4zM314.57 424.47h3.4v3.75h-3.4zM308.37 427.92h3.4v3.75h-3.4zM314.57 427.92h3.4v3.75h-3.4zM212.27 445.17h3.4v3.75h-3.4zM215.37 445.17h3.4v3.75h-3.4zM277.37 445.17h3.4v3.75h-3.4zM280.47 445.17h3.4v3.75h-3.4zM280.47 448.62h3.4v3.75h-3.4zM271.17 452.07h3.4v3.75h-3.4zM274.27 452.07h3.4v3.75h-3.4zM277.37 452.07h3.4v3.75h-3.4zM280.47 452.07h3.4v3.75h-3.4zM274.27 455.52h3.4v3.75h-3.4zM277.37 455.52h3.4v3.75h-3.4zM274.27 458.97h3.4v3.75h-3.4zM277.37 458.97h3.4v3.75h-3.4zM277.37 462.42h3.4v3.75h-3.4z"/>
<path fill="#f4a9b0" d="M454.07 100.17h3.4v3.75h-3.4zM463.37 100.17h3.4v3.75h-3.4zM336.27 103.62h3.4v3.75h-3.4zM466.47 103.62h3.4v3.75h-3.4zM357.97 107.07h3.4v3.75h-3.4zM447.87 107.07h3.4v3.75h-3.4zM357.97 110.52h3.4v3.75h-3.4zM444.77 110.52h3.4v3.75h-3.4zM354.87 113.97h3.4v3.75h-3.4zM361.07 113.97h3.4v3.75h-3.4zM429.27 117.42h3.4v3.75h-3.4zM522.27 117.42h3.4v3.75h-3.4zM286.67 120.87h3.4v3.75h-3.4zM308.37 120.87h3.4v3.75h-3.4zM429.27 120.87h3.4v3.75h-3.4zM469.57 120.87h3.4v3.75h-3.4zM268.07 124.32h3.4v3.75h-3.4zM271.17 124.32h3.4v3.75h-3.4zM398.27 124.32h3.4v3.75h-3.4zM401.37 124.32h3.4v3.75h-3.4zM264.97 127.77h3.4v3.75h-3.4zM271.17 127.77h3.4v3.75h-3.4zM509.87 127.77h3.4v3.75h-3.4zM345.57 131.22h3.4v3.75h-3.4zM438.57 131.22h3.4v3.75h-3.4zM258.77 134.67h3.4v3.75h-3.4zM277.37 134.67h3.4v3.75h-3.4zM317.67 134.67h3.4v3.75h-3.4zM320.77 134.67h3.4v3.75h-3.4zM370.37 134.67h3.4v3.75h-3.4zM426.17 134.67h3.4v3.75h-3.4zM302.17 138.12h3.4v3.75h-3.4zM339.37 138.12h3.4v3.75h-3.4zM438.57 138.12h3.4v3.75h-3.4zM525.37 141.57h3.4v3.75h-3.4zM388.97 148.47h3.4v3.75h-3.4zM392.07 151.92h3.4v3.75h-3.4zM215.37 155.37h3.4v3.75h-3.4zM184.37 162.27h3.4v3.75h-3.4zM379.67 162.27h3.4v3.75h-3.4zM364.17 165.72h3.4v3.75h-3.4zM370.37 165.72h3.4v3.75h-3.4zM184.37 169.17h3.4v3.75h-3.4zM333.17 172.62h3.4v3.75h-3.4zM354.87 179.52h3.4v3.75h-3.4zM373.47 182.97h3.4v3.75h-3.4zM243.27 189.87h3.4v3.75h-3.4zM246.37 189.87h3.4v3.75h-3.4zM416.87 189.87h3.4v3.75h-3.4zM249.47 193.32h3.4v3.75h-3.4zM426.17 193.32h3.4v3.75h-3.4zM230.87 196.77h3.4v3.75h-3.4zM289.77 207.12h3.4v3.75h-3.4zM156.47 210.57h3.4v3.75h-3.4zM168.87 210.57h3.4v3.75h-3.4zM202.97 210.57h3.4v3.75h-3.4zM299.07 210.57h3.4v3.75h-3.4zM305.27 210.57h3.4v3.75h-3.4zM159.57 214.02h3.4v3.75h-3.4zM162.67 214.02h3.4v3.75h-3.4zM165.77 214.02h3.4v3.75h-3.4zM202.97 214.02h3.4v3.75h-3.4zM299.07 214.02h3.4v3.75h-3.4zM156.47 217.47h3.4v3.75h-3.4zM165.77 217.47h3.4v3.75h-3.4zM302.17 217.47h3.4v3.75h-3.4zM175.07 220.92h3.4v3.75h-3.4zM209.17 220.92h3.4v3.75h-3.4zM354.87 220.92h3.4v3.75h-3.4zM209.17 224.37h3.4v3.75h-3.4zM147.17 227.82h3.4v3.75h-3.4zM311.47 227.82h3.4v3.75h-3.4zM317.67 227.82h3.4v3.75h-3.4zM162.67 231.27h3.4v3.75h-3.4zM218.47 231.27h3.4v3.75h-3.4zM308.37 231.27h3.4v3.75h-3.4zM361.07 231.27h3.4v3.75h-3.4zM181.27 234.72h3.4v3.75h-3.4zM227.77 234.72h3.4v3.75h-3.4zM237.07 234.72h3.4v3.75h-3.4zM249.47 234.72h3.4v3.75h-3.4zM252.57 234.72h3.4v3.75h-3.4zM361.07 234.72h3.4v3.75h-3.4zM209.17 238.17h3.4v3.75h-3.4zM218.47 238.17h3.4v3.75h-3.4zM218.47 241.62h3.4v3.75h-3.4zM243.27 241.62h3.4v3.75h-3.4zM202.97 245.07h3.4v3.75h-3.4zM206.07 245.07h3.4v3.75h-3.4zM308.37 245.07h3.4v3.75h-3.4zM416.87 245.07h3.4v3.75h-3.4zM351.77 248.52h3.4v3.75h-3.4zM416.87 248.52h3.4v3.75h-3.4zM215.37 251.97h3.4v3.75h-3.4zM398.27 255.42h3.4v3.75h-3.4zM140.97 258.87h3.4v3.75h-3.4zM271.17 258.87h3.4v3.75h-3.4zM317.67 258.87h3.4v3.75h-3.4zM361.07 258.87h3.4v3.75h-3.4zM357.97 262.32h3.4v3.75h-3.4zM463.37 262.32h3.4v3.75h-3.4zM401.37 265.77h3.4v3.75h-3.4zM423.07 265.77h3.4v3.75h-3.4zM140.97 269.22h3.4v3.75h-3.4zM302.17 269.22h3.4v3.75h-3.4zM401.37 269.22h3.4v3.75h-3.4zM345.57 272.67h3.4v3.75h-3.4zM395.17 272.67h3.4v3.75h-3.4zM398.27 272.67h3.4v3.75h-3.4zM404.47 272.67h3.4v3.75h-3.4zM407.57 272.67h3.4v3.75h-3.4zM413.77 272.67h3.4v3.75h-3.4zM302.17 276.12h3.4v3.75h-3.4zM382.77 276.12h3.4v3.75h-3.4zM438.57 276.12h3.4v3.75h-3.4zM419.97 279.57h3.4v3.75h-3.4zM426.17 279.57h3.4v3.75h-3.4zM320.77 283.02h3.4v3.75h-3.4zM395.17 283.02h3.4v3.75h-3.4zM317.67 286.47h3.4v3.75h-3.4zM144.07 289.92h3.4v3.75h-3.4zM283.57 289.92h3.4v3.75h-3.4zM302.17 289.92h3.4v3.75h-3.4zM320.77 289.92h3.4v3.75h-3.4zM299.07 293.37h3.4v3.75h-3.4zM333.17 293.37h3.4v3.75h-3.4zM196.77 296.82h3.4v3.75h-3.4zM336.27 296.82h3.4v3.75h-3.4zM342.47 296.82h3.4v3.75h-3.4zM202.97 300.27h3.4v3.75h-3.4zM246.37 300.27h3.4v3.75h-3.4zM308.37 300.27h3.4v3.75h-3.4zM237.07 303.72h3.4v3.75h-3.4zM246.37 303.72h3.4v3.75h-3.4zM249.47 303.72h3.4v3.75h-3.4zM311.47 303.72h3.4v3.75h-3.4zM311.47 307.17h3.4v3.75h-3.4zM345.57 310.62h3.4v3.75h-3.4zM345.57 314.07h3.4v3.75h-3.4zM348.67 314.07h3.4v3.75h-3.4zM351.77 317.52h3.4v3.75h-3.4zM308.37 320.97h3.4v3.75h-3.4zM339.37 320.97h3.4v3.75h-3.4zM351.77 320.97h3.4v3.75h-3.4zM348.67 324.42h3.4v3.75h-3.4zM171.97 327.87h3.4v3.75h-3.4zM206.07 327.87h3.4v3.75h-3.4zM209.17 327.87h3.4v3.75h-3.4zM333.17 327.87h3.4v3.75h-3.4zM243.27 331.32h3.4v3.75h-3.4zM246.37 331.32h3.4v3.75h-3.4zM209.17 334.77h3.4v3.75h-3.4zM246.37 334.77h3.4v3.75h-3.4zM249.47 334.77h3.4v3.75h-3.4zM339.37 334.77h3.4v3.75h-3.4zM323.87 338.22h3.4v3.75h-3.4zM345.57 338.22h3.4v3.75h-3.4zM336.27 341.67h3.4v3.75h-3.4zM339.37 341.67h3.4v3.75h-3.4zM122.37 345.12h3.4v3.75h-3.4zM196.77 345.12h3.4v3.75h-3.4zM240.17 345.12h3.4v3.75h-3.4zM125.47 348.57h3.4v3.75h-3.4zM181.27 348.57h3.4v3.75h-3.4zM125.47 352.02h3.4v3.75h-3.4zM240.17 355.47h3.4v3.75h-3.4zM264.97 355.47h3.4v3.75h-3.4zM144.07 358.92h3.4v3.75h-3.4zM258.77 358.92h3.4v3.75h-3.4zM122.37 362.37h3.4v3.75h-3.4zM240.17 362.37h3.4v3.75h-3.4zM255.67 362.37h3.4v3.75h-3.4zM264.97 362.37h3.4v3.75h-3.4zM336.27 362.37h3.4v3.75h-3.4zM252.57 365.82h3.4v3.75h-3.4zM255.67 365.82h3.4v3.75h-3.4zM264.97 365.82h3.4v3.75h-3.4zM109.97 369.27h3.4v3.75h-3.4zM237.07 369.27h3.4v3.75h-3.4zM147.17 372.72h3.4v3.75h-3.4zM233.97 372.72h3.4v3.75h-3.4zM153.37 376.17h3.4v3.75h-3.4zM156.47 376.17h3.4v3.75h-3.4zM237.07 376.17h3.4v3.75h-3.4zM258.77 376.17h3.4v3.75h-3.4zM295.97 376.17h3.4v3.75h-3.4zM339.37 376.17h3.4v3.75h-3.4zM156.47 379.62h3.4v3.75h-3.4zM243.27 379.62h3.4v3.75h-3.4zM246.37 379.62h3.4v3.75h-3.4zM333.17 379.62h3.4v3.75h-3.4zM202.97 383.07h3.4v3.75h-3.4zM212.27 383.07h3.4v3.75h-3.4zM246.37 383.07h3.4v3.75h-3.4zM286.67 383.07h3.4v3.75h-3.4zM299.07 383.07h3.4v3.75h-3.4zM342.47 383.07h3.4v3.75h-3.4zM113.07 386.52h3.4v3.75h-3.4zM212.27 386.52h3.4v3.75h-3.4zM113.07 389.97h3.4v3.75h-3.4zM187.47 389.97h3.4v3.75h-3.4zM277.37 389.97h3.4v3.75h-3.4zM131.67 393.42h3.4v3.75h-3.4zM274.27 400.32h3.4v3.75h-3.4zM299.07 407.22h3.4v3.75h-3.4zM122.37 410.67h3.4v3.75h-3.4zM137.87 410.67h3.4v3.75h-3.4zM218.47 410.67h3.4v3.75h-3.4zM299.07 410.67h3.4v3.75h-3.4zM326.97 410.67h3.4v3.75h-3.4zM330.07 410.67h3.4v3.75h-3.4zM125.47 414.12h3.4v3.75h-3.4zM128.57 414.12h3.4v3.75h-3.4zM140.97 414.12h3.4v3.75h-3.4zM277.37 414.12h3.4v3.75h-3.4zM134.77 417.57h3.4v3.75h-3.4zM140.97 417.57h3.4v3.75h-3.4zM317.67 417.57h3.4v3.75h-3.4zM320.77 417.57h3.4v3.75h-3.4zM72.77 421.02h3.4v3.75h-3.4zM125.47 421.02h3.4v3.75h-3.4zM113.07 431.37h3.4v3.75h-3.4zM286.67 434.82h3.4v3.75h-3.4zM100.67 438.27h3.4v3.75h-3.4zM212.27 448.62h3.4v3.75h-3.4zM215.37 448.62h3.4v3.75h-3.4zM215.37 452.07h3.4v3.75h-3.4z"/>
<path fill="#fde4aa" d="M237.07 103.62h3.4v3.75h-3.4zM581.17 103.62h3.4v3.75h-3.4zM202.97 107.07h3.4v3.75h-3.4zM261.87 107.07h3.4v3.75h-3.4zM264.97 107.07h3.4v3.75h-3.4zM283.57 107.07h3.4v3.75h-3.4zM202.97 110.52h3.4v3.75h-3.4zM283.57 110.52h3.4v3.75h-3.4zM289.77 110.52h3.4v3.75h-3.4zM227.77 113.97h3.4v3.75h-3.4zM218.47 117.42h3.4v3.75h-3.4zM333.17 117.42h3.4v3.75h-3.4zM193.67 124.32h3.4v3.75h-3.4zM199.87 124.32h3.4v3.75h-3.4zM202.97 124.32h3.4v3.75h-3.4zM181.27 127.77h3.4v3.75h-3.4zM190.57 127.77h3.4v3.75h-3.4zM206.07 127.77h3.4v3.75h-3.4zM224.67 127.77h3.4v3.75h-3.4zM215.37 134.67h3.4v3.75h-3.4zM215.37 138.12h3.4v3.75h-3.4zM187.47 141.57h3.4v3.75h-3.4zM249.47 141.57h3.4v3.75h-3.4zM330.07 141.57h3.4v3.75h-3.4zM162.67 145.02h3.4v3.75h-3.4zM187.47 145.02h3.4v3.75h-3.4zM246.37 145.02h3.4v3.75h-3.4zM261.87 145.02h3.4v3.75h-3.4zM246.37 148.47h3.4v3.75h-3.4zM165.77 151.92h3.4v3.75h-3.4zM274.27 155.37h3.4v3.75h-3.4zM277.37 155.37h3.4v3.75h-3.4zM295.97 155.37h3.4v3.75h-3.4zM305.27 155.37h3.4v3.75h-3.4zM268.07 158.82h3.4v3.75h-3.4zM277.37 158.82h3.4v3.75h-3.4zM302.17 158.82h3.4v3.75h-3.4zM488.17 158.82h3.4v3.75h-3.4zM500.57 158.82h3.4v3.75h-3.4zM171.97 162.27h3.4v3.75h-3.4zM258.77 162.27h3.4v3.75h-3.4zM299.07 162.27h3.4v3.75h-3.4zM311.47 162.27h3.4v3.75h-3.4zM488.17 162.27h3.4v3.75h-3.4zM212.27 165.72h3.4v3.75h-3.4zM243.27 169.17h3.4v3.75h-3.4zM237.07 176.07h3.4v3.75h-3.4zM156.47 182.97h3.4v3.75h-3.4zM305.27 182.97h3.4v3.75h-3.4zM485.07 182.97h3.4v3.75h-3.4zM264.97 186.42h3.4v3.75h-3.4zM271.17 186.42h3.4v3.75h-3.4zM314.57 186.42h3.4v3.75h-3.4zM339.37 186.42h3.4v3.75h-3.4zM497.47 186.42h3.4v3.75h-3.4zM311.47 189.87h3.4v3.75h-3.4zM320.77 189.87h3.4v3.75h-3.4zM258.77 193.32h3.4v3.75h-3.4zM261.87 193.32h3.4v3.75h-3.4zM264.97 193.32h3.4v3.75h-3.4zM159.57 196.77h3.4v3.75h-3.4zM261.87 196.77h3.4v3.75h-3.4zM317.67 196.77h3.4v3.75h-3.4zM320.77 196.77h3.4v3.75h-3.4zM323.87 196.77h3.4v3.75h-3.4zM342.47 196.77h3.4v3.75h-3.4zM423.07 196.77h3.4v3.75h-3.4zM314.57 200.22h3.4v3.75h-3.4zM339.37 200.22h3.4v3.75h-3.4zM423.07 200.22h3.4v3.75h-3.4zM261.87 203.67h3.4v3.75h-3.4zM317.67 203.67h3.4v3.75h-3.4zM302.17 207.12h3.4v3.75h-3.4zM305.27 207.12h3.4v3.75h-3.4zM317.67 207.12h3.4v3.75h-3.4zM323.87 207.12h3.4v3.75h-3.4zM336.27 214.02h3.4v3.75h-3.4zM292.87 220.92h3.4v3.75h-3.4zM299.07 220.92h3.4v3.75h-3.4zM320.77 220.92h3.4v3.75h-3.4zM264.97 224.37h3.4v3.75h-3.4zM426.17 224.37h3.4v3.75h-3.4zM196.77 227.82h3.4v3.75h-3.4zM230.87 227.82h3.4v3.75h-3.4zM264.97 227.82h3.4v3.75h-3.4zM268.07 227.82h3.4v3.75h-3.4zM388.97 227.82h3.4v3.75h-3.4zM379.67 231.27h3.4v3.75h-3.4zM382.77 231.27h3.4v3.75h-3.4zM212.27 234.72h3.4v3.75h-3.4zM308.37 238.17h3.4v3.75h-3.4zM311.47 241.62h3.4v3.75h-3.4zM351.77 241.62h3.4v3.75h-3.4zM302.17 245.07h3.4v3.75h-3.4zM178.17 248.52h3.4v3.75h-3.4zM249.47 251.97h3.4v3.75h-3.4zM134.77 255.42h3.4v3.75h-3.4zM178.17 255.42h3.4v3.75h-3.4zM193.67 255.42h3.4v3.75h-3.4zM196.77 255.42h3.4v3.75h-3.4zM227.77 258.87h3.4v3.75h-3.4zM230.87 258.87h3.4v3.75h-3.4zM147.17 262.32h3.4v3.75h-3.4zM150.27 262.32h3.4v3.75h-3.4zM212.27 262.32h3.4v3.75h-3.4zM224.67 262.32h3.4v3.75h-3.4zM227.77 262.32h3.4v3.75h-3.4zM230.87 262.32h3.4v3.75h-3.4zM237.07 262.32h3.4v3.75h-3.4zM379.67 262.32h3.4v3.75h-3.4zM150.27 265.77h3.4v3.75h-3.4zM212.27 265.77h3.4v3.75h-3.4zM209.17 269.22h3.4v3.75h-3.4zM227.77 269.22h3.4v3.75h-3.4zM326.97 269.22h3.4v3.75h-3.4zM227.77 272.67h3.4v3.75h-3.4zM271.17 272.67h3.4v3.75h-3.4zM171.97 276.12h3.4v3.75h-3.4zM137.87 279.57h3.4v3.75h-3.4zM184.37 279.57h3.4v3.75h-3.4zM187.47 279.57h3.4v3.75h-3.4zM199.87 283.02h3.4v3.75h-3.4zM221.57 283.02h3.4v3.75h-3.4zM243.27 283.02h3.4v3.75h-3.4zM137.87 286.47h3.4v3.75h-3.4zM184.37 286.47h3.4v3.75h-3.4zM221.57 286.47h3.4v3.75h-3.4zM246.37 286.47h3.4v3.75h-3.4zM271.17 286.47h3.4v3.75h-3.4zM336.27 286.47h3.4v3.75h-3.4zM175.07 289.92h3.4v3.75h-3.4zM246.37 289.92h3.4v3.75h-3.4zM258.77 289.92h3.4v3.75h-3.4zM147.17 293.37h3.4v3.75h-3.4zM212.27 293.37h3.4v3.75h-3.4zM215.37 293.37h3.4v3.75h-3.4zM255.67 293.37h3.4v3.75h-3.4zM274.27 293.37h3.4v3.75h-3.4zM289.77 293.37h3.4v3.75h-3.4zM187.47 296.82h3.4v3.75h-3.4zM190.57 296.82h3.4v3.75h-3.4zM240.17 296.82h3.4v3.75h-3.4zM308.37 296.82h3.4v3.75h-3.4zM147.17 300.27h3.4v3.75h-3.4zM153.37 303.72h3.4v3.75h-3.4zM230.87 303.72h3.4v3.75h-3.4zM144.07 310.62h3.4v3.75h-3.4zM147.17 310.62h3.4v3.75h-3.4zM162.67 310.62h3.4v3.75h-3.4zM165.77 310.62h3.4v3.75h-3.4zM240.17 310.62h3.4v3.75h-3.4zM144.07 314.07h3.4v3.75h-3.4zM150.27 314.07h3.4v3.75h-3.4zM165.77 314.07h3.4v3.75h-3.4zM305.27 314.07h3.4v3.75h-3.4zM215.37 317.52h3.4v3.75h-3.4zM240.17 317.52h3.4v3.75h-3.4zM131.67 320.97h3.4v3.75h-3.4zM134.77 320.97h3.4v3.75h-3.4zM237.07 320.97h3.4v3.75h-3.4zM144.07 324.42h3.4v3.75h-3.4zM215.37 324.42h3.4v3.75h-3.4zM140.97 327.87h3.4v3.75h-3.4zM233.97 327.87h3.4v3.75h-3.4zM292.87 327.87h3.4v3.75h-3.4zM137.87 334.77h3.4v3.75h-3.4zM162.67 334.77h3.4v3.75h-3.4zM137.87 338.22h3.4v3.75h-3.4zM202.97 338.22h3.4v3.75h-3.4zM212.27 338.22h3.4v3.75h-3.4zM230.87 338.22h3.4v3.75h-3.4zM233.97 338.22h3.4v3.75h-3.4zM153.37 341.67h3.4v3.75h-3.4zM230.87 341.67h3.4v3.75h-3.4zM243.27 341.67h3.4v3.75h-3.4zM261.87 341.67h3.4v3.75h-3.4zM147.17 345.12h3.4v3.75h-3.4zM150.27 345.12h3.4v3.75h-3.4zM168.87 345.12h3.4v3.75h-3.4zM233.97 345.12h3.4v3.75h-3.4zM168.87 348.57h3.4v3.75h-3.4zM153.37 352.02h3.4v3.75h-3.4zM165.77 352.02h3.4v3.75h-3.4zM286.67 355.47h3.4v3.75h-3.4zM289.77 355.47h3.4v3.75h-3.4zM159.57 358.92h3.4v3.75h-3.4zM162.67 358.92h3.4v3.75h-3.4zM202.97 358.92h3.4v3.75h-3.4zM289.77 358.92h3.4v3.75h-3.4zM187.47 365.82h3.4v3.75h-3.4zM215.37 365.82h3.4v3.75h-3.4zM187.47 369.27h3.4v3.75h-3.4zM193.67 369.27h3.4v3.75h-3.4zM280.47 369.27h3.4v3.75h-3.4zM289.77 369.27h3.4v3.75h-3.4zM274.27 376.17h3.4v3.75h-3.4zM187.47 379.62h3.4v3.75h-3.4zM187.47 383.07h3.4v3.75h-3.4zM233.97 427.92h3.4v3.75h-3.4zM271.17 434.82h3.4v3.75h-3.4zM230.87 458.97h3.4v3.75h-3.4zM227.77 465.87h3.4v3.75h-3.4zM230.87 469.32h3.4v3.75h-3.4z"/>
<path fill="#fde9b9" d="M243.27 103.62h3.4v3.75h-3.4zM292.87 103.62h3.4v3.75h-3.4zM314.57 103.62h3.4v3.75h-3.4zM559.47 103.62h3.4v3.75h-3.4zM252.57 107.07h3.4v3.75h-3.4zM258.77 107.07h3.4v3.75h-3.4zM280.47 107.07h3.4v3.75h-3.4zM289.77 107.07h3.4v3.75h-3.4zM255.67 110.52h3.4v3.75h-3.4zM280.47 110.52h3.4v3.75h-3.4zM295.97 110.52h3.4v3.75h-3.4zM283.57 113.97h3.4v3.75h-3.4zM286.67 113.97h3.4v3.75h-3.4zM289.77 113.97h3.4v3.75h-3.4zM199.87 117.42h3.4v3.75h-3.4zM221.57 117.42h3.4v3.75h-3.4zM227.77 117.42h3.4v3.75h-3.4zM326.97 117.42h3.4v3.75h-3.4zM190.57 120.87h3.4v3.75h-3.4zM193.67 120.87h3.4v3.75h-3.4zM196.77 120.87h3.4v3.75h-3.4zM199.87 120.87h3.4v3.75h-3.4zM190.57 124.32h3.4v3.75h-3.4zM209.17 124.32h3.4v3.75h-3.4zM237.07 124.32h3.4v3.75h-3.4zM283.57 124.32h3.4v3.75h-3.4zM286.67 124.32h3.4v3.75h-3.4zM187.47 127.77h3.4v3.75h-3.4zM286.67 127.77h3.4v3.75h-3.4zM289.77 127.77h3.4v3.75h-3.4zM292.87 127.77h3.4v3.75h-3.4zM196.77 131.22h3.4v3.75h-3.4zM212.27 131.22h3.4v3.75h-3.4zM171.97 134.67h3.4v3.75h-3.4zM178.17 134.67h3.4v3.75h-3.4zM184.37 134.67h3.4v3.75h-3.4zM187.47 134.67h3.4v3.75h-3.4zM196.77 134.67h3.4v3.75h-3.4zM206.07 134.67h3.4v3.75h-3.4zM227.77 134.67h3.4v3.75h-3.4zM190.57 138.12h3.4v3.75h-3.4zM196.77 138.12h3.4v3.75h-3.4zM221.57 138.12h3.4v3.75h-3.4zM230.87 138.12h3.4v3.75h-3.4zM246.37 138.12h3.4v3.75h-3.4zM184.37 141.57h3.4v3.75h-3.4zM193.67 141.57h3.4v3.75h-3.4zM196.77 141.57h3.4v3.75h-3.4zM206.07 141.57h3.4v3.75h-3.4zM230.87 141.57h3.4v3.75h-3.4zM240.17 141.57h3.4v3.75h-3.4zM252.57 141.57h3.4v3.75h-3.4zM255.67 141.57h3.4v3.75h-3.4zM264.97 141.57h3.4v3.75h-3.4zM326.97 141.57h3.4v3.75h-3.4zM345.57 141.57h3.4v3.75h-3.4zM184.37 145.02h3.4v3.75h-3.4zM190.57 145.02h3.4v3.75h-3.4zM227.77 145.02h3.4v3.75h-3.4zM240.17 145.02h3.4v3.75h-3.4zM323.87 145.02h3.4v3.75h-3.4zM162.67 148.47h3.4v3.75h-3.4zM178.17 148.47h3.4v3.75h-3.4zM184.37 148.47h3.4v3.75h-3.4zM209.17 148.47h3.4v3.75h-3.4zM215.37 148.47h3.4v3.75h-3.4zM237.07 148.47h3.4v3.75h-3.4zM243.27 148.47h3.4v3.75h-3.4zM249.47 148.47h3.4v3.75h-3.4zM509.87 148.47h3.4v3.75h-3.4zM162.67 151.92h3.4v3.75h-3.4zM190.57 151.92h3.4v3.75h-3.4zM209.17 151.92h3.4v3.75h-3.4zM230.87 151.92h3.4v3.75h-3.4zM233.97 151.92h3.4v3.75h-3.4zM292.87 155.37h3.4v3.75h-3.4zM308.37 155.37h3.4v3.75h-3.4zM333.17 155.37h3.4v3.75h-3.4zM488.17 155.37h3.4v3.75h-3.4zM506.77 155.37h3.4v3.75h-3.4zM221.57 158.82h3.4v3.75h-3.4zM280.47 158.82h3.4v3.75h-3.4zM292.87 158.82h3.4v3.75h-3.4zM311.47 158.82h3.4v3.75h-3.4zM339.37 158.82h3.4v3.75h-3.4zM503.67 158.82h3.4v3.75h-3.4zM178.17 162.27h3.4v3.75h-3.4zM280.47 162.27h3.4v3.75h-3.4zM295.97 162.27h3.4v3.75h-3.4zM302.17 162.27h3.4v3.75h-3.4zM305.27 162.27h3.4v3.75h-3.4zM162.67 165.72h3.4v3.75h-3.4zM178.17 165.72h3.4v3.75h-3.4zM202.97 165.72h3.4v3.75h-3.4zM255.67 165.72h3.4v3.75h-3.4zM258.77 165.72h3.4v3.75h-3.4zM488.17 165.72h3.4v3.75h-3.4zM261.87 169.17h3.4v3.75h-3.4zM280.47 169.17h3.4v3.75h-3.4zM345.57 169.17h3.4v3.75h-3.4zM258.77 172.62h3.4v3.75h-3.4zM320.77 172.62h3.4v3.75h-3.4zM460.27 172.62h3.4v3.75h-3.4zM469.57 172.62h3.4v3.75h-3.4zM277.37 176.07h3.4v3.75h-3.4zM159.57 179.52h3.4v3.75h-3.4zM243.27 179.52h3.4v3.75h-3.4zM305.27 179.52h3.4v3.75h-3.4zM308.37 179.52h3.4v3.75h-3.4zM326.97 179.52h3.4v3.75h-3.4zM475.77 179.52h3.4v3.75h-3.4zM488.17 179.52h3.4v3.75h-3.4zM246.37 182.97h3.4v3.75h-3.4zM252.57 182.97h3.4v3.75h-3.4zM255.67 182.97h3.4v3.75h-3.4zM261.87 182.97h3.4v3.75h-3.4zM481.97 182.97h3.4v3.75h-3.4zM491.27 182.97h3.4v3.75h-3.4zM261.87 186.42h3.4v3.75h-3.4zM261.87 189.87h3.4v3.75h-3.4zM264.97 189.87h3.4v3.75h-3.4zM277.37 189.87h3.4v3.75h-3.4zM280.47 189.87h3.4v3.75h-3.4zM305.27 189.87h3.4v3.75h-3.4zM317.67 189.87h3.4v3.75h-3.4zM404.47 189.87h3.4v3.75h-3.4zM429.27 189.87h3.4v3.75h-3.4zM432.37 189.87h3.4v3.75h-3.4zM450.97 189.87h3.4v3.75h-3.4zM497.47 189.87h3.4v3.75h-3.4zM156.47 193.32h3.4v3.75h-3.4zM277.37 193.32h3.4v3.75h-3.4zM286.67 193.32h3.4v3.75h-3.4zM308.37 193.32h3.4v3.75h-3.4zM311.47 193.32h3.4v3.75h-3.4zM314.57 193.32h3.4v3.75h-3.4zM429.27 193.32h3.4v3.75h-3.4zM472.67 193.32h3.4v3.75h-3.4zM491.27 193.32h3.4v3.75h-3.4zM494.37 193.32h3.4v3.75h-3.4zM246.37 196.77h3.4v3.75h-3.4zM264.97 196.77h3.4v3.75h-3.4zM280.47 196.77h3.4v3.75h-3.4zM283.57 196.77h3.4v3.75h-3.4zM305.27 196.77h3.4v3.75h-3.4zM308.37 196.77h3.4v3.75h-3.4zM314.57 196.77h3.4v3.75h-3.4zM159.57 200.22h3.4v3.75h-3.4zM336.27 200.22h3.4v3.75h-3.4zM258.77 203.67h3.4v3.75h-3.4zM323.87 203.67h3.4v3.75h-3.4zM404.47 203.67h3.4v3.75h-3.4zM416.87 203.67h3.4v3.75h-3.4zM243.27 207.12h3.4v3.75h-3.4zM295.97 207.12h3.4v3.75h-3.4zM311.47 207.12h3.4v3.75h-3.4zM320.77 207.12h3.4v3.75h-3.4zM407.57 207.12h3.4v3.75h-3.4zM416.87 207.12h3.4v3.75h-3.4zM175.07 210.57h3.4v3.75h-3.4zM246.37 210.57h3.4v3.75h-3.4zM274.27 210.57h3.4v3.75h-3.4zM320.77 210.57h3.4v3.75h-3.4zM333.17 210.57h3.4v3.75h-3.4zM336.27 210.57h3.4v3.75h-3.4zM286.67 214.02h3.4v3.75h-3.4zM404.47 214.02h3.4v3.75h-3.4zM258.77 217.47h3.4v3.75h-3.4zM271.17 217.47h3.4v3.75h-3.4zM283.57 217.47h3.4v3.75h-3.4zM249.47 220.92h3.4v3.75h-3.4zM268.07 220.92h3.4v3.75h-3.4zM295.97 220.92h3.4v3.75h-3.4zM305.27 220.92h3.4v3.75h-3.4zM317.67 220.92h3.4v3.75h-3.4zM339.37 220.92h3.4v3.75h-3.4zM379.67 220.92h3.4v3.75h-3.4zM317.67 224.37h3.4v3.75h-3.4zM339.37 224.37h3.4v3.75h-3.4zM401.37 224.37h3.4v3.75h-3.4zM404.47 224.37h3.4v3.75h-3.4zM261.87 227.82h3.4v3.75h-3.4zM271.17 227.82h3.4v3.75h-3.4zM320.77 227.82h3.4v3.75h-3.4zM336.27 227.82h3.4v3.75h-3.4zM230.87 231.27h3.4v3.75h-3.4zM246.37 231.27h3.4v3.75h-3.4zM320.77 231.27h3.4v3.75h-3.4zM388.97 231.27h3.4v3.75h-3.4zM392.07 231.27h3.4v3.75h-3.4zM423.07 231.27h3.4v3.75h-3.4zM308.37 234.72h3.4v3.75h-3.4zM240.17 238.17h3.4v3.75h-3.4zM317.67 238.17h3.4v3.75h-3.4zM336.27 238.17h3.4v3.75h-3.4zM314.57 241.62h3.4v3.75h-3.4zM317.67 241.62h3.4v3.75h-3.4zM398.27 241.62h3.4v3.75h-3.4zM472.67 241.62h3.4v3.75h-3.4zM268.07 245.07h3.4v3.75h-3.4zM150.27 248.52h3.4v3.75h-3.4zM305.27 248.52h3.4v3.75h-3.4zM401.37 248.52h3.4v3.75h-3.4zM131.67 251.97h3.4v3.75h-3.4zM144.07 251.97h3.4v3.75h-3.4zM153.37 251.97h3.4v3.75h-3.4zM162.67 251.97h3.4v3.75h-3.4zM175.07 251.97h3.4v3.75h-3.4zM196.77 251.97h3.4v3.75h-3.4zM246.37 251.97h3.4v3.75h-3.4zM264.97 251.97h3.4v3.75h-3.4zM268.07 251.97h3.4v3.75h-3.4zM342.47 251.97h3.4v3.75h-3.4zM388.97 251.97h3.4v3.75h-3.4zM398.27 251.97h3.4v3.75h-3.4zM175.07 255.42h3.4v3.75h-3.4zM246.37 255.42h3.4v3.75h-3.4zM342.47 255.42h3.4v3.75h-3.4zM131.67 258.87h3.4v3.75h-3.4zM212.27 258.87h3.4v3.75h-3.4zM224.67 258.87h3.4v3.75h-3.4zM215.37 262.32h3.4v3.75h-3.4zM218.47 262.32h3.4v3.75h-3.4zM221.57 262.32h3.4v3.75h-3.4zM128.57 265.77h3.4v3.75h-3.4zM134.77 265.77h3.4v3.75h-3.4zM175.07 265.77h3.4v3.75h-3.4zM178.17 265.77h3.4v3.75h-3.4zM221.57 265.77h3.4v3.75h-3.4zM224.67 265.77h3.4v3.75h-3.4zM227.77 265.77h3.4v3.75h-3.4zM165.77 269.22h3.4v3.75h-3.4zM184.37 272.67h3.4v3.75h-3.4zM206.07 272.67h3.4v3.75h-3.4zM221.57 272.67h3.4v3.75h-3.4zM233.97 272.67h3.4v3.75h-3.4zM361.07 272.67h3.4v3.75h-3.4zM168.87 276.12h3.4v3.75h-3.4zM255.67 276.12h3.4v3.75h-3.4zM150.27 279.57h3.4v3.75h-3.4zM153.37 279.57h3.4v3.75h-3.4zM165.77 279.57h3.4v3.75h-3.4zM246.37 279.57h3.4v3.75h-3.4zM323.87 279.57h3.4v3.75h-3.4zM144.07 283.02h3.4v3.75h-3.4zM271.17 283.02h3.4v3.75h-3.4zM333.17 283.02h3.4v3.75h-3.4zM348.67 283.02h3.4v3.75h-3.4zM144.07 286.47h3.4v3.75h-3.4zM240.17 286.47h3.4v3.75h-3.4zM268.07 286.47h3.4v3.75h-3.4zM277.37 286.47h3.4v3.75h-3.4zM134.77 289.92h3.4v3.75h-3.4zM137.87 289.92h3.4v3.75h-3.4zM218.47 289.92h3.4v3.75h-3.4zM240.17 289.92h3.4v3.75h-3.4zM280.47 289.92h3.4v3.75h-3.4zM348.67 289.92h3.4v3.75h-3.4zM131.67 293.37h3.4v3.75h-3.4zM144.07 293.37h3.4v3.75h-3.4zM184.37 293.37h3.4v3.75h-3.4zM187.47 293.37h3.4v3.75h-3.4zM240.17 293.37h3.4v3.75h-3.4zM252.57 293.37h3.4v3.75h-3.4zM258.77 293.37h3.4v3.75h-3.4zM271.17 293.37h3.4v3.75h-3.4zM286.67 293.37h3.4v3.75h-3.4zM308.37 293.37h3.4v3.75h-3.4zM116.17 296.82h3.4v3.75h-3.4zM159.57 296.82h3.4v3.75h-3.4zM162.67 296.82h3.4v3.75h-3.4zM178.17 296.82h3.4v3.75h-3.4zM193.67 296.82h3.4v3.75h-3.4zM311.47 296.82h3.4v3.75h-3.4zM398.27 296.82h3.4v3.75h-3.4zM175.07 300.27h3.4v3.75h-3.4zM181.27 300.27h3.4v3.75h-3.4zM190.57 300.27h3.4v3.75h-3.4zM218.47 300.27h3.4v3.75h-3.4zM196.77 303.72h3.4v3.75h-3.4zM199.87 303.72h3.4v3.75h-3.4zM227.77 303.72h3.4v3.75h-3.4zM277.37 303.72h3.4v3.75h-3.4zM162.67 307.17h3.4v3.75h-3.4zM230.87 307.17h3.4v3.75h-3.4zM237.07 307.17h3.4v3.75h-3.4zM277.37 307.17h3.4v3.75h-3.4zM280.47 307.17h3.4v3.75h-3.4zM283.57 307.17h3.4v3.75h-3.4zM286.67 307.17h3.4v3.75h-3.4zM370.37 307.17h3.4v3.75h-3.4zM125.47 310.62h3.4v3.75h-3.4zM153.37 310.62h3.4v3.75h-3.4zM190.57 310.62h3.4v3.75h-3.4zM286.67 310.62h3.4v3.75h-3.4zM147.17 314.07h3.4v3.75h-3.4zM302.17 314.07h3.4v3.75h-3.4zM370.37 314.07h3.4v3.75h-3.4zM140.97 317.52h3.4v3.75h-3.4zM202.97 317.52h3.4v3.75h-3.4zM221.57 317.52h3.4v3.75h-3.4zM218.47 320.97h3.4v3.75h-3.4zM240.17 320.97h3.4v3.75h-3.4zM218.47 324.42h3.4v3.75h-3.4zM227.77 324.42h3.4v3.75h-3.4zM246.37 324.42h3.4v3.75h-3.4zM252.57 324.42h3.4v3.75h-3.4zM283.57 324.42h3.4v3.75h-3.4zM302.17 324.42h3.4v3.75h-3.4zM299.07 327.87h3.4v3.75h-3.4zM162.67 331.32h3.4v3.75h-3.4zM233.97 331.32h3.4v3.75h-3.4zM299.07 331.32h3.4v3.75h-3.4zM159.57 334.77h3.4v3.75h-3.4zM165.77 334.77h3.4v3.75h-3.4zM277.37 334.77h3.4v3.75h-3.4zM134.77 338.22h3.4v3.75h-3.4zM156.47 338.22h3.4v3.75h-3.4zM162.67 338.22h3.4v3.75h-3.4zM209.17 338.22h3.4v3.75h-3.4zM215.37 338.22h3.4v3.75h-3.4zM218.47 338.22h3.4v3.75h-3.4zM221.57 338.22h3.4v3.75h-3.4zM147.17 341.67h3.4v3.75h-3.4zM134.77 345.12h3.4v3.75h-3.4zM153.37 345.12h3.4v3.75h-3.4zM212.27 345.12h3.4v3.75h-3.4zM268.07 345.12h3.4v3.75h-3.4zM147.17 348.57h3.4v3.75h-3.4zM277.37 348.57h3.4v3.75h-3.4zM215.37 352.02h3.4v3.75h-3.4zM311.47 352.02h3.4v3.75h-3.4zM215.37 355.47h3.4v3.75h-3.4zM283.57 355.47h3.4v3.75h-3.4zM320.77 355.47h3.4v3.75h-3.4zM190.57 362.37h3.4v3.75h-3.4zM215.37 362.37h3.4v3.75h-3.4zM286.67 362.37h3.4v3.75h-3.4zM295.97 362.37h3.4v3.75h-3.4zM212.27 365.82h3.4v3.75h-3.4zM280.47 365.82h3.4v3.75h-3.4zM190.57 369.27h3.4v3.75h-3.4zM212.27 369.27h3.4v3.75h-3.4zM299.07 369.27h3.4v3.75h-3.4zM302.17 369.27h3.4v3.75h-3.4zM320.77 369.27h3.4v3.75h-3.4zM271.17 372.72h3.4v3.75h-3.4zM323.87 372.72h3.4v3.75h-3.4zM326.97 372.72h3.4v3.75h-3.4zM240.17 376.17h3.4v3.75h-3.4zM271.17 376.17h3.4v3.75h-3.4zM302.17 376.17h3.4v3.75h-3.4zM184.37 379.62h3.4v3.75h-3.4zM156.47 383.07h3.4v3.75h-3.4zM268.07 393.42h3.4v3.75h-3.4zM283.57 417.57h3.4v3.75h-3.4zM289.77 417.57h3.4v3.75h-3.4zM283.57 427.92h3.4v3.75h-3.4zM264.97 431.37h3.4v3.75h-3.4zM271.17 431.37h3.4v3.75h-3.4zM286.67 431.37h3.4v3.75h-3.4zM289.77 431.37h3.4v3.75h-3.4zM274.27 438.27h3.4v3.75h-3.4zM280.47 438.27h3.4v3.75h-3.4zM233.97 452.07h3.4v3.75h-3.4zM233.97 455.52h3.4v3.75h-3.4zM246.37 455.52h3.4v3.75h-3.4zM237.07 458.97h3.4v3.75h-3.4zM243.27 458.97h3.4v3.75h-3.4z"/>
<path fill="#fef3d6" d="M268.07 103.62h3.4v3.75h-3.4zM224.67 107.07h3.4v3.75h-3.4zM305.27 107.07h3.4v3.75h-3.4zM243.27 131.22h3.4v3.75h-3.4zM246.37 131.22h3.4v3.75h-3.4zM178.17 169.17h3.4v3.75h-3.4zM206.07 169.17h3.4v3.75h-3.4zM215.37 196.77h3.4v3.75h-3.4zM271.17 196.77h3.4v3.75h-3.4zM271.17 203.67h3.4v3.75h-3.4zM277.37 203.67h3.4v3.75h-3.4zM308.37 214.02h3.4v3.75h-3.4zM283.57 227.82h3.4v3.75h-3.4zM413.77 231.27h3.4v3.75h-3.4zM277.37 234.72h3.4v3.75h-3.4zM413.77 241.62h3.4v3.75h-3.4zM221.57 248.52h3.4v3.75h-3.4zM361.07 269.22h3.4v3.75h-3.4zM230.87 276.12h3.4v3.75h-3.4zM227.77 279.57h3.4v3.75h-3.4zM159.57 283.02h3.4v3.75h-3.4zM221.57 293.37h3.4v3.75h-3.4zM171.97 310.62h3.4v3.75h-3.4zM206.07 314.07h3.4v3.75h-3.4zM230.87 314.07h3.4v3.75h-3.4zM274.27 314.07h3.4v3.75h-3.4zM302.17 334.77h3.4v3.75h-3.4zM302.17 341.67h3.4v3.75h-3.4zM190.57 348.57h3.4v3.75h-3.4zM171.97 362.37h3.4v3.75h-3.4zM264.97 379.62h3.4v3.75h-3.4zM277.37 410.67h3.4v3.75h-3.4zM264.97 421.02h3.4v3.75h-3.4z"/>
<path fill="#f7b9be" d="M289.77 103.62h3.4v3.75h-3.4zM447.87 103.62h3.4v3.75h-3.4zM376.57 107.07h3.4v3.75h-3.4zM240.17 113.97h3.4v3.75h-3.4zM525.37 113.97h3.4v3.75h-3.4zM528.47 113.97h3.4v3.75h-3.4zM292.87 117.42h3.4v3.75h-3.4zM299.07 117.42h3.4v3.75h-3.4zM392.07 117.42h3.4v3.75h-3.4zM283.57 120.87h3.4v3.75h-3.4zM519.17 120.87h3.4v3.75h-3.4zM249.47 127.77h3.4v3.75h-3.4zM339.37 131.22h3.4v3.75h-3.4zM435.47 131.22h3.4v3.75h-3.4zM339.37 134.67h3.4v3.75h-3.4zM398.27 134.67h3.4v3.75h-3.4zM441.67 134.67h3.4v3.75h-3.4zM317.67 138.12h3.4v3.75h-3.4zM419.97 138.12h3.4v3.75h-3.4zM283.57 141.57h3.4v3.75h-3.4zM528.47 145.02h3.4v3.75h-3.4zM283.57 148.47h3.4v3.75h-3.4zM351.77 151.92h3.4v3.75h-3.4zM525.37 151.92h3.4v3.75h-3.4zM209.17 155.37h3.4v3.75h-3.4zM401.37 155.37h3.4v3.75h-3.4zM209.17 158.82h3.4v3.75h-3.4zM187.47 162.27h3.4v3.75h-3.4zM478.87 162.27h3.4v3.75h-3.4zM181.27 169.17h3.4v3.75h-3.4zM202.97 176.07h3.4v3.75h-3.4zM354.87 182.97h3.4v3.75h-3.4zM361.07 182.97h3.4v3.75h-3.4zM429.27 182.97h3.4v3.75h-3.4zM199.87 186.42h3.4v3.75h-3.4zM209.17 186.42h3.4v3.75h-3.4zM367.27 186.42h3.4v3.75h-3.4zM246.37 193.32h3.4v3.75h-3.4zM364.17 193.32h3.4v3.75h-3.4zM227.77 196.77h3.4v3.75h-3.4zM252.57 196.77h3.4v3.75h-3.4zM364.17 200.22h3.4v3.75h-3.4zM413.77 200.22h3.4v3.75h-3.4zM181.27 207.12h3.4v3.75h-3.4zM156.47 214.02h3.4v3.75h-3.4zM178.17 214.02h3.4v3.75h-3.4zM305.27 214.02h3.4v3.75h-3.4zM162.67 217.47h3.4v3.75h-3.4zM178.17 220.92h3.4v3.75h-3.4zM181.27 220.92h3.4v3.75h-3.4zM361.07 224.37h3.4v3.75h-3.4zM184.37 227.82h3.4v3.75h-3.4zM364.17 227.82h3.4v3.75h-3.4zM150.27 231.27h3.4v3.75h-3.4zM187.47 231.27h3.4v3.75h-3.4zM156.47 234.72h3.4v3.75h-3.4zM159.57 234.72h3.4v3.75h-3.4zM255.67 238.17h3.4v3.75h-3.4zM255.67 241.62h3.4v3.75h-3.4zM215.37 255.42h3.4v3.75h-3.4zM314.57 265.77h3.4v3.75h-3.4zM395.17 265.77h3.4v3.75h-3.4zM398.27 269.22h3.4v3.75h-3.4zM413.77 269.22h3.4v3.75h-3.4zM419.97 272.67h3.4v3.75h-3.4zM317.67 279.57h3.4v3.75h-3.4zM382.77 279.57h3.4v3.75h-3.4zM162.67 283.02h3.4v3.75h-3.4zM398.27 286.47h3.4v3.75h-3.4zM292.87 289.92h3.4v3.75h-3.4zM305.27 303.72h3.4v3.75h-3.4zM345.57 307.17h3.4v3.75h-3.4zM351.77 307.17h3.4v3.75h-3.4zM407.57 307.17h3.4v3.75h-3.4zM410.67 307.17h3.4v3.75h-3.4zM361.07 320.97h3.4v3.75h-3.4zM175.07 327.87h3.4v3.75h-3.4zM249.47 331.32h3.4v3.75h-3.4zM326.97 338.22h3.4v3.75h-3.4zM336.27 338.22h3.4v3.75h-3.4zM184.37 348.57h3.4v3.75h-3.4zM274.27 355.47h3.4v3.75h-3.4zM140.97 358.92h3.4v3.75h-3.4zM237.07 358.92h3.4v3.75h-3.4zM116.17 362.37h3.4v3.75h-3.4zM116.17 365.82h3.4v3.75h-3.4zM150.27 372.72h3.4v3.75h-3.4zM224.67 372.72h3.4v3.75h-3.4zM230.87 376.17h3.4v3.75h-3.4zM168.87 383.07h3.4v3.75h-3.4zM289.77 383.07h3.4v3.75h-3.4zM333.17 383.07h3.4v3.75h-3.4zM336.27 383.07h3.4v3.75h-3.4zM339.37 383.07h3.4v3.75h-3.4zM140.97 389.97h3.4v3.75h-3.4zM323.87 400.32h3.4v3.75h-3.4zM274.27 431.37h3.4v3.75h-3.4zM295.97 431.37h3.4v3.75h-3.4zM190.57 434.82h3.4v3.75h-3.4zM330.07 438.27h3.4v3.75h-3.4z"/>
<path fill="#fccc50" d="M212.27 107.07h3.4v3.75h-3.4zM326.97 107.07h3.4v3.75h-3.4zM215.37 110.52h3.4v3.75h-3.4zM323.87 110.52h3.4v3.75h-3.4zM209.17 113.97h3.4v3.75h-3.4zM215.37 113.97h3.4v3.75h-3.4zM326.97 113.97h3.4v3.75h-3.4zM212.27 117.42h3.4v3.75h-3.4zM240.17 117.42h3.4v3.75h-3.4zM240.17 120.87h3.4v3.75h-3.4zM243.27 120.87h3.4v3.75h-3.4zM240.17 124.32h3.4v3.75h-3.4zM243.27 124.32h3.4v3.75h-3.4zM323.87 124.32h3.4v3.75h-3.4zM323.87 127.77h3.4v3.75h-3.4zM215.37 131.22h3.4v3.75h-3.4zM209.17 141.57h3.4v3.75h-3.4zM209.17 145.02h3.4v3.75h-3.4zM215.37 145.02h3.4v3.75h-3.4zM299.07 148.47h3.4v3.75h-3.4zM302.17 151.92h3.4v3.75h-3.4zM500.57 155.37h3.4v3.75h-3.4zM485.07 165.72h3.4v3.75h-3.4zM454.07 176.07h3.4v3.75h-3.4zM457.17 176.07h3.4v3.75h-3.4zM255.67 179.52h3.4v3.75h-3.4zM450.97 179.52h3.4v3.75h-3.4zM454.07 179.52h3.4v3.75h-3.4zM457.17 179.52h3.4v3.75h-3.4zM463.37 179.52h3.4v3.75h-3.4zM466.47 179.52h3.4v3.75h-3.4zM469.57 179.52h3.4v3.75h-3.4zM162.67 182.97h3.4v3.75h-3.4zM165.77 182.97h3.4v3.75h-3.4zM466.47 182.97h3.4v3.75h-3.4zM168.87 189.87h3.4v3.75h-3.4zM491.27 189.87h3.4v3.75h-3.4zM162.67 193.32h3.4v3.75h-3.4zM165.77 193.32h3.4v3.75h-3.4zM463.37 193.32h3.4v3.75h-3.4zM423.07 203.67h3.4v3.75h-3.4zM395.17 207.12h3.4v3.75h-3.4zM398.27 207.12h3.4v3.75h-3.4zM401.37 210.57h3.4v3.75h-3.4zM450.97 210.57h3.4v3.75h-3.4zM395.17 214.02h3.4v3.75h-3.4zM398.27 214.02h3.4v3.75h-3.4zM423.07 214.02h3.4v3.75h-3.4zM398.27 217.47h3.4v3.75h-3.4zM392.07 220.92h3.4v3.75h-3.4zM419.97 220.92h3.4v3.75h-3.4zM423.07 220.92h3.4v3.75h-3.4zM450.97 220.92h3.4v3.75h-3.4zM454.07 220.92h3.4v3.75h-3.4zM506.77 220.92h3.4v3.75h-3.4zM512.97 220.92h3.4v3.75h-3.4zM423.07 224.37h3.4v3.75h-3.4zM506.77 224.37h3.4v3.75h-3.4zM509.87 227.82h3.4v3.75h-3.4zM506.77 231.27h3.4v3.75h-3.4zM379.67 234.72h3.4v3.75h-3.4zM382.77 234.72h3.4v3.75h-3.4zM385.87 234.72h3.4v3.75h-3.4zM243.27 238.17h3.4v3.75h-3.4zM246.37 238.17h3.4v3.75h-3.4zM376.57 241.62h3.4v3.75h-3.4zM379.67 241.62h3.4v3.75h-3.4zM382.77 241.62h3.4v3.75h-3.4zM379.67 245.07h3.4v3.75h-3.4zM382.77 245.07h3.4v3.75h-3.4zM435.47 251.97h3.4v3.75h-3.4zM156.47 262.32h3.4v3.75h-3.4zM209.17 262.32h3.4v3.75h-3.4zM156.47 265.77h3.4v3.75h-3.4zM184.37 265.77h3.4v3.75h-3.4zM187.47 265.77h3.4v3.75h-3.4zM190.57 265.77h3.4v3.75h-3.4zM193.67 265.77h3.4v3.75h-3.4zM199.87 265.77h3.4v3.75h-3.4zM206.07 265.77h3.4v3.75h-3.4zM184.37 269.22h3.4v3.75h-3.4zM190.57 269.22h3.4v3.75h-3.4zM336.27 269.22h3.4v3.75h-3.4zM199.87 272.67h3.4v3.75h-3.4zM125.47 276.12h3.4v3.75h-3.4zM128.57 276.12h3.4v3.75h-3.4zM333.17 276.12h3.4v3.75h-3.4zM237.07 279.57h3.4v3.75h-3.4zM125.47 283.02h3.4v3.75h-3.4zM128.57 283.02h3.4v3.75h-3.4zM153.37 283.02h3.4v3.75h-3.4zM193.67 283.02h3.4v3.75h-3.4zM125.47 286.47h3.4v3.75h-3.4zM128.57 286.47h3.4v3.75h-3.4zM190.57 286.47h3.4v3.75h-3.4zM255.67 286.47h3.4v3.75h-3.4zM125.47 289.92h3.4v3.75h-3.4zM255.67 289.92h3.4v3.75h-3.4zM153.37 296.82h3.4v3.75h-3.4zM320.77 300.27h3.4v3.75h-3.4zM323.87 310.62h3.4v3.75h-3.4zM314.57 314.07h3.4v3.75h-3.4zM243.27 317.52h3.4v3.75h-3.4zM264.97 324.42h3.4v3.75h-3.4zM255.67 327.87h3.4v3.75h-3.4zM261.87 331.32h3.4v3.75h-3.4zM264.97 334.77h3.4v3.75h-3.4zM268.07 338.22h3.4v3.75h-3.4zM162.67 341.67h3.4v3.75h-3.4zM165.77 341.67h3.4v3.75h-3.4zM268.07 341.67h3.4v3.75h-3.4zM156.47 348.57h3.4v3.75h-3.4zM302.17 358.92h3.4v3.75h-3.4zM305.27 358.92h3.4v3.75h-3.4zM274.27 362.37h3.4v3.75h-3.4zM302.17 362.37h3.4v3.75h-3.4zM305.27 362.37h3.4v3.75h-3.4zM308.37 362.37h3.4v3.75h-3.4zM311.47 362.37h3.4v3.75h-3.4zM277.37 365.82h3.4v3.75h-3.4zM317.67 365.82h3.4v3.75h-3.4zM268.07 369.27h3.4v3.75h-3.4zM277.37 369.27h3.4v3.75h-3.4zM308.37 369.27h3.4v3.75h-3.4zM286.67 414.12h3.4v3.75h-3.4zM258.77 431.37h3.4v3.75h-3.4zM246.37 438.27h3.4v3.75h-3.4zM249.47 438.27h3.4v3.75h-3.4zM252.57 438.27h3.4v3.75h-3.4zM258.77 438.27h3.4v3.75h-3.4zM299.07 445.17h3.4v3.75h-3.4zM302.17 445.17h3.4v3.75h-3.4zM240.17 452.07h3.4v3.75h-3.4zM233.97 465.87h3.4v3.75h-3.4z"/>
<path fill="#fcd36e" d="M215.37 107.07h3.4v3.75h-3.4zM323.87 113.97h3.4v3.75h-3.4zM215.37 120.87h3.4v3.75h-3.4zM326.97 124.32h3.4v3.75h-3.4zM323.87 131.22h3.4v3.75h-3.4zM326.97 131.22h3.4v3.75h-3.4zM330.07 131.22h3.4v3.75h-3.4zM323.87 134.67h3.4v3.75h-3.4zM330.07 134.67h3.4v3.75h-3.4zM215.37 141.57h3.4v3.75h-3.4zM305.27 148.47h3.4v3.75h-3.4zM503.67 148.47h3.4v3.75h-3.4zM299.07 151.92h3.4v3.75h-3.4zM252.57 172.62h3.4v3.75h-3.4zM450.97 182.97h3.4v3.75h-3.4zM454.07 182.97h3.4v3.75h-3.4zM472.67 182.97h3.4v3.75h-3.4zM407.57 186.42h3.4v3.75h-3.4zM268.07 189.87h3.4v3.75h-3.4zM314.57 189.87h3.4v3.75h-3.4zM463.37 200.22h3.4v3.75h-3.4zM249.47 203.67h3.4v3.75h-3.4zM419.97 203.67h3.4v3.75h-3.4zM426.17 207.12h3.4v3.75h-3.4zM388.97 210.57h3.4v3.75h-3.4zM392.07 210.57h3.4v3.75h-3.4zM426.17 210.57h3.4v3.75h-3.4zM457.17 210.57h3.4v3.75h-3.4zM388.97 214.02h3.4v3.75h-3.4zM392.07 214.02h3.4v3.75h-3.4zM450.97 214.02h3.4v3.75h-3.4zM454.07 214.02h3.4v3.75h-3.4zM388.97 217.47h3.4v3.75h-3.4zM392.07 217.47h3.4v3.75h-3.4zM395.17 217.47h3.4v3.75h-3.4zM426.17 217.47h3.4v3.75h-3.4zM454.07 217.47h3.4v3.75h-3.4zM457.17 217.47h3.4v3.75h-3.4zM419.97 224.37h3.4v3.75h-3.4zM385.87 238.17h3.4v3.75h-3.4zM150.27 258.87h3.4v3.75h-3.4zM196.77 258.87h3.4v3.75h-3.4zM206.07 258.87h3.4v3.75h-3.4zM209.17 258.87h3.4v3.75h-3.4zM233.97 258.87h3.4v3.75h-3.4zM196.77 262.32h3.4v3.75h-3.4zM202.97 265.77h3.4v3.75h-3.4zM230.87 265.77h3.4v3.75h-3.4zM233.97 265.77h3.4v3.75h-3.4zM237.07 265.77h3.4v3.75h-3.4zM187.47 269.22h3.4v3.75h-3.4zM230.87 269.22h3.4v3.75h-3.4zM233.97 269.22h3.4v3.75h-3.4zM237.07 269.22h3.4v3.75h-3.4zM240.17 269.22h3.4v3.75h-3.4zM237.07 272.67h3.4v3.75h-3.4zM336.27 276.12h3.4v3.75h-3.4zM187.47 283.02h3.4v3.75h-3.4zM187.47 289.92h3.4v3.75h-3.4zM252.57 289.92h3.4v3.75h-3.4zM153.37 293.37h3.4v3.75h-3.4zM215.37 296.82h3.4v3.75h-3.4zM243.27 296.82h3.4v3.75h-3.4zM314.57 300.27h3.4v3.75h-3.4zM131.67 303.72h3.4v3.75h-3.4zM246.37 307.17h3.4v3.75h-3.4zM249.47 307.17h3.4v3.75h-3.4zM314.57 307.17h3.4v3.75h-3.4zM243.27 310.62h3.4v3.75h-3.4zM246.37 310.62h3.4v3.75h-3.4zM240.17 314.07h3.4v3.75h-3.4zM243.27 314.07h3.4v3.75h-3.4zM230.87 317.52h3.4v3.75h-3.4zM233.97 317.52h3.4v3.75h-3.4zM261.87 324.42h3.4v3.75h-3.4zM274.27 324.42h3.4v3.75h-3.4zM261.87 327.87h3.4v3.75h-3.4zM131.67 331.32h3.4v3.75h-3.4zM258.77 338.22h3.4v3.75h-3.4zM261.87 338.22h3.4v3.75h-3.4zM156.47 341.67h3.4v3.75h-3.4zM159.57 341.67h3.4v3.75h-3.4zM156.47 345.12h3.4v3.75h-3.4zM314.57 358.92h3.4v3.75h-3.4zM268.07 362.37h3.4v3.75h-3.4zM268.07 365.82h3.4v3.75h-3.4zM302.17 365.82h3.4v3.75h-3.4zM308.37 365.82h3.4v3.75h-3.4zM311.47 365.82h3.4v3.75h-3.4zM227.77 458.97h3.4v3.75h-3.4zM227.77 462.42h3.4v3.75h-3.4z"/>
<path fill="#fbc432" d="M323.87 107.07h3.4v3.75h-3.4zM330.07 107.07h3.4v3.75h-3.4zM330.07 110.52h3.4v3.75h-3.4zM212.27 113.97h3.4v3.75h-3.4zM330.07 113.97h3.4v3.75h-3.4zM209.17 117.42h3.4v3.75h-3.4zM215.37 117.42h3.4v3.75h-3.4zM230.87 117.42h3.4v3.75h-3.4zM243.27 117.42h3.4v3.75h-3.4zM330.07 124.32h3.4v3.75h-3.4zM326.97 127.77h3.4v3.75h-3.4zM330.07 127.77h3.4v3.75h-3.4zM326.97 138.12h3.4v3.75h-3.4zM330.07 138.12h3.4v3.75h-3.4zM212.27 141.57h3.4v3.75h-3.4zM212.27 145.02h3.4v3.75h-3.4zM302.17 148.47h3.4v3.75h-3.4zM305.27 151.92h3.4v3.75h-3.4zM500.57 151.92h3.4v3.75h-3.4zM503.67 151.92h3.4v3.75h-3.4zM450.97 172.62h3.4v3.75h-3.4zM454.07 172.62h3.4v3.75h-3.4zM457.17 172.62h3.4v3.75h-3.4zM255.67 176.07h3.4v3.75h-3.4zM258.77 176.07h3.4v3.75h-3.4zM450.97 176.07h3.4v3.75h-3.4zM258.77 179.52h3.4v3.75h-3.4zM435.47 179.52h3.4v3.75h-3.4zM460.27 179.52h3.4v3.75h-3.4zM457.17 182.97h3.4v3.75h-3.4zM460.27 182.97h3.4v3.75h-3.4zM463.37 182.97h3.4v3.75h-3.4zM469.57 182.97h3.4v3.75h-3.4zM162.67 186.42h3.4v3.75h-3.4zM165.77 186.42h3.4v3.75h-3.4zM168.87 186.42h3.4v3.75h-3.4zM457.17 186.42h3.4v3.75h-3.4zM460.27 186.42h3.4v3.75h-3.4zM463.37 186.42h3.4v3.75h-3.4zM466.47 186.42h3.4v3.75h-3.4zM469.57 186.42h3.4v3.75h-3.4zM488.17 186.42h3.4v3.75h-3.4zM491.27 186.42h3.4v3.75h-3.4zM162.67 189.87h3.4v3.75h-3.4zM165.77 189.87h3.4v3.75h-3.4zM460.27 189.87h3.4v3.75h-3.4zM463.37 189.87h3.4v3.75h-3.4zM466.47 189.87h3.4v3.75h-3.4zM469.57 189.87h3.4v3.75h-3.4zM460.27 193.32h3.4v3.75h-3.4zM466.47 193.32h3.4v3.75h-3.4zM469.57 193.32h3.4v3.75h-3.4zM419.97 207.12h3.4v3.75h-3.4zM423.07 207.12h3.4v3.75h-3.4zM395.17 210.57h3.4v3.75h-3.4zM398.27 210.57h3.4v3.75h-3.4zM419.97 210.57h3.4v3.75h-3.4zM423.07 210.57h3.4v3.75h-3.4zM401.37 214.02h3.4v3.75h-3.4zM419.97 214.02h3.4v3.75h-3.4zM426.17 214.02h3.4v3.75h-3.4zM401.37 217.47h3.4v3.75h-3.4zM419.97 217.47h3.4v3.75h-3.4zM423.07 217.47h3.4v3.75h-3.4zM388.97 220.92h3.4v3.75h-3.4zM509.87 220.92h3.4v3.75h-3.4zM388.97 224.37h3.4v3.75h-3.4zM392.07 224.37h3.4v3.75h-3.4zM509.87 224.37h3.4v3.75h-3.4zM506.77 227.82h3.4v3.75h-3.4zM512.97 227.82h3.4v3.75h-3.4zM509.87 231.27h3.4v3.75h-3.4zM512.97 231.27h3.4v3.75h-3.4zM206.07 262.32h3.4v3.75h-3.4zM209.17 265.77h3.4v3.75h-3.4zM193.67 269.22h3.4v3.75h-3.4zM196.77 269.22h3.4v3.75h-3.4zM199.87 269.22h3.4v3.75h-3.4zM333.17 269.22h3.4v3.75h-3.4zM193.67 272.67h3.4v3.75h-3.4zM196.77 272.67h3.4v3.75h-3.4zM333.17 272.67h3.4v3.75h-3.4zM125.47 279.57h3.4v3.75h-3.4zM128.57 279.57h3.4v3.75h-3.4zM388.97 279.57h3.4v3.75h-3.4zM147.17 283.02h3.4v3.75h-3.4zM150.27 283.02h3.4v3.75h-3.4zM147.17 286.47h3.4v3.75h-3.4zM150.27 286.47h3.4v3.75h-3.4zM153.37 286.47h3.4v3.75h-3.4zM252.57 286.47h3.4v3.75h-3.4zM128.57 289.92h3.4v3.75h-3.4zM147.17 289.92h3.4v3.75h-3.4zM150.27 289.92h3.4v3.75h-3.4zM153.37 289.92h3.4v3.75h-3.4zM416.87 293.37h3.4v3.75h-3.4zM317.67 310.62h3.4v3.75h-3.4zM320.77 310.62h3.4v3.75h-3.4zM317.67 314.07h3.4v3.75h-3.4zM320.77 314.07h3.4v3.75h-3.4zM246.37 317.52h3.4v3.75h-3.4zM227.77 320.97h3.4v3.75h-3.4zM230.87 320.97h3.4v3.75h-3.4zM233.97 320.97h3.4v3.75h-3.4zM233.97 324.42h3.4v3.75h-3.4zM268.07 324.42h3.4v3.75h-3.4zM271.17 324.42h3.4v3.75h-3.4zM252.57 327.87h3.4v3.75h-3.4zM258.77 327.87h3.4v3.75h-3.4zM264.97 327.87h3.4v3.75h-3.4zM268.07 327.87h3.4v3.75h-3.4zM271.17 327.87h3.4v3.75h-3.4zM215.37 331.32h3.4v3.75h-3.4zM218.47 331.32h3.4v3.75h-3.4zM258.77 331.32h3.4v3.75h-3.4zM264.97 331.32h3.4v3.75h-3.4zM268.07 331.32h3.4v3.75h-3.4zM131.67 334.77h3.4v3.75h-3.4zM258.77 334.77h3.4v3.75h-3.4zM261.87 334.77h3.4v3.75h-3.4zM268.07 334.77h3.4v3.75h-3.4zM271.17 334.77h3.4v3.75h-3.4zM271.17 338.22h3.4v3.75h-3.4zM271.17 341.67h3.4v3.75h-3.4zM308.37 358.92h3.4v3.75h-3.4zM311.47 358.92h3.4v3.75h-3.4zM271.17 365.82h3.4v3.75h-3.4zM274.27 365.82h3.4v3.75h-3.4zM271.17 369.27h3.4v3.75h-3.4zM274.27 369.27h3.4v3.75h-3.4zM252.57 410.67h3.4v3.75h-3.4zM63.47 434.82h3.4v3.75h-3.4zM66.57 434.82h3.4v3.75h-3.4zM255.67 438.27h3.4v3.75h-3.4zM246.37 441.72h3.4v3.75h-3.4zM249.47 441.72h3.4v3.75h-3.4zM252.57 441.72h3.4v3.75h-3.4zM240.17 455.52h3.4v3.75h-3.4zM230.87 465.87h3.4v3.75h-3.4z"/>
<path fill="#e34f5d" d="M348.67 124.32h3.4v3.75h-3.4zM457.17 131.22h3.4v3.75h-3.4zM457.17 134.67h3.4v3.75h-3.4zM184.37 165.72h3.4v3.75h-3.4zM187.47 165.72h3.4v3.75h-3.4zM367.27 172.62h3.4v3.75h-3.4zM280.47 255.42h3.4v3.75h-3.4zM407.57 258.87h3.4v3.75h-3.4zM410.67 258.87h3.4v3.75h-3.4zM286.67 262.32h3.4v3.75h-3.4zM407.57 262.32h3.4v3.75h-3.4zM277.37 265.77h3.4v3.75h-3.4zM376.57 265.77h3.4v3.75h-3.4zM376.57 269.22h3.4v3.75h-3.4zM401.37 279.57h3.4v3.75h-3.4zM370.37 293.37h3.4v3.75h-3.4zM373.47 293.37h3.4v3.75h-3.4zM370.37 296.82h3.4v3.75h-3.4zM373.47 300.27h3.4v3.75h-3.4zM364.17 303.72h3.4v3.75h-3.4zM367.27 303.72h3.4v3.75h-3.4zM373.47 303.72h3.4v3.75h-3.4zM416.87 303.72h3.4v3.75h-3.4zM122.37 338.22h3.4v3.75h-3.4zM339.37 393.42h3.4v3.75h-3.4zM314.57 414.12h3.4v3.75h-3.4zM271.17 455.52h3.4v3.75h-3.4zM271.17 458.97h3.4v3.75h-3.4zM268.07 462.42h3.4v3.75h-3.4zM274.27 462.42h3.4v3.75h-3.4z"/>
<path fill="#f8c7cc" d="M243.27 127.77h3.4v3.75h-3.4zM528.47 148.47h3.4v3.75h-3.4zM475.77 162.27h3.4v3.75h-3.4zM283.57 172.62h3.4v3.75h-3.4zM286.67 172.62h3.4v3.75h-3.4zM305.27 176.07h3.4v3.75h-3.4zM286.67 179.52h3.4v3.75h-3.4zM348.67 179.52h3.4v3.75h-3.4zM286.67 203.67h3.4v3.75h-3.4zM289.77 203.67h3.4v3.75h-3.4zM283.57 207.12h3.4v3.75h-3.4zM261.87 376.17h3.4v3.75h-3.4zM240.17 383.07h3.4v3.75h-3.4zM277.37 403.77h3.4v3.75h-3.4zM292.87 414.12h3.4v3.75h-3.4zM292.87 417.57h3.4v3.75h-3.4zM233.97 448.62h3.4v3.75h-3.4z"/>
<path fill="#fbbc14" d="M512.97 224.37h3.4v3.75h-3.4zM196.77 265.77h3.4v3.75h-3.4zM271.17 331.32h3.4v3.75h-3.4z"/>
</g>
<polygon points="13,100 212.5,100 205,110 199,119 190,121 181,127.5 175,135 169,144 165.5,155 161,170 156,182.5 152.5,197.5 150,212.5 147.5,228 145,240 140,252.5 132.5,262.5 127.5,277.5 120,289 113,291 108.5,289 107,294 111,297.5 117.5,301 122.5,310 124,322.5 122.5,335 120,347.5 116,357.5 111,365 109,375 106,380 100,385 91,387.5 86,397.5 82.5,407.5 77.5,416 70,421 60,426 52.5,431 49,437.5 45,447.5 46,452 44,470 41,492 37.5,512 32.5,531 13,531" fill="#2e3a52"/>
<polygon points="32.5,531 32.5,531 37.5,512 41,492 44,470 46,452 44.5,447.5 66,450.5 82,450.5 82,455 86,453 97,448 102,449 109,455 116.7,453.5 121,446.5 127.5,444 135,445.4 140.5,447.6 153,446.5 168,443 179,439 186,435.5 190,439 199,439 204.7,448 206.5,457.5 215.7,466.7 225,477.7 241,481 247,476 263,474 282.5,472.5 289,456 292.5,451 305,449.5 325,449.5 333.75,451 334.5,431 346,428.75 350,422.5 355,418.75 354.5,412.5 351,406 356,388 358.4,378.4 360.8,368.8 361.6,356 358.4,346.4 358.4,340 360,335.2 358.4,330.4 362.4,326.4 366.4,322.4 365.6,314.4 366.4,308.8 370.4,307.2 373.6,300 377.6,292 377.6,284 380.8,278.9 388,282.4 392.8,285.6 393.1,298.4 398.4,302.4 406.4,311.2 415.2,316 422.4,320 422.4,320 422.9,316 420,313.6 421.6,310.4 418.4,308 420,304.8 420,298.4 418.4,295.2 420,293.6 434.4,287.2 446.4,292 468,275.2 482.5,262.5 487.5,249 492.5,244.5 498.4,244 507,247.2 510.4,242.6 514.4,243.2 530.4,238.6 543,225.6 558.4,215 561.6,207 562.5,195 566,182.5 571,176 588,167 588,531" fill="#dfe3e3"/>
<clipPath id="gclip"><polygon points="32.5,531 32.5,531 37.5,512 41,492 44,470 46,452 44.5,447.5 66,450.5 82,450.5 82,455 86,453 97,448 102,449 109,455 116.7,453.5 121,446.5 127.5,444 135,445.4 140.5,447.6 153,446.5 168,443 179,439 186,435.5 190,439 199,439 204.7,448 206.5,457.5 215.7,466.7 225,477.7 241,481 247,476 263,474 282.5,472.5 289,456 292.5,451 305,449.5 325,449.5 333.75,451 334.5,431 346,428.75 350,422.5 355,418.75 354.5,412.5 351,406 356,388 358.4,378.4 360.8,368.8 361.6,356 358.4,346.4 358.4,340 360,335.2 358.4,330.4 362.4,326.4 366.4,322.4 365.6,314.4 366.4,308.8 370.4,307.2 373.6,300 377.6,292 377.6,284 380.8,278.9 388,282.4 392.8,285.6 393.1,298.4 398.4,302.4 406.4,311.2 415.2,316 422.4,320 422.4,320 422.9,316 420,313.6 421.6,310.4 418.4,308 420,304.8 420,298.4 418.4,295.2 420,293.6 434.4,287.2 446.4,292 468,275.2 482.5,262.5 487.5,249 492.5,244.5 498.4,244 507,247.2 510.4,242.6 514.4,243.2 530.4,238.6 543,225.6 558.4,215 561.6,207 562.5,195 566,182.5 571,176 588,167 588,531"/></clipPath><g clip-path="url(#gclip)"><g fill="#cdd1d1" opacity=".6"><polygon points="490,262.5 507.5,260 505,282.5 495,300 475,310 465,320 450,315 450,295 465,292.5 475,277.5"/><polygon points="562,279 572,276 577,286 572,294 564,290"/><polygon points="336,467.7 352,466 358,478 352,493 340,490"/><polygon points="340,497 351,500 349,526 341,520"/><polygon points="53,473 70,476 73,500 60,507 54,495"/><polygon points="107,460 138,458 140,468 112,471"/><polygon points="373.9,452.4 382.8,449.6 390,455.1 386,461.2 380.5,463 375,462.3 371.1,458.1"/><polygon points="89.2,329 81.2,322.8 86.5,316.8 93.4,311.7 97.3,318.5 98.8,324.9"/><polygon points="107,240.2 112.2,249.6 108.4,255.4 99.2,255.1 98.4,247.9"/><polygon points="134.1,525.4 131.9,522.8 133,520.1 136.4,519.8 139.6,521.5 139.1,525.3"/><polygon points="33.7,443.6 29.9,439.8 35.2,437.3 40.5,436.9 41.3,441 38.7,444"/><polygon points="561.9,517.4 556.5,520.6 550.4,520.8 550.6,516.4 552.7,514 557,513.9"/><polygon points="558.8,310.3 554,304.7 558.3,297.6 566.7,301.3 574.1,305.8 568.2,313"/><polygon points="513.1,268.1 502.6,264.2 504.6,256.7 513.5,254.2 522.5,260.8"/><polygon points="81.1,439 88.2,439.4 91.6,443.5 86.9,448 82.5,444.1"/><polygon points="363.1,507.5 366.8,506.7 369.8,507.6 369.6,509.8 369.8,512.9 366.3,511.2 363.5,510.4"/><polygon points="491.2,280.5 501.6,282.6 506.9,287.9 499.4,291.5 488.4,290.4"/><polygon points="208.3,376.1 202.9,384.7 188.9,384.3 188.6,373.6 199.5,370.5"/><polygon points="265,289.8 263.4,294.1 258.5,295.4 255.1,293.3 253.2,290.4 254.7,285.9 261.6,285.4"/><polygon points="229.9,468.6 233.8,465 241.5,465.6 245.2,471.7 241.2,478.4 232.4,476.3 222.8,474.2"/><polygon points="427.7,517.5 432.1,514.1 435.7,518.4 433.9,523.7 426.6,522"/><polygon points="483.1,345.5 485.8,351.9 477.1,352.4 469,353.9 468.2,347.4 471.8,343.2 478,342.5"/><polygon points="118,524 118.1,528.2 112.7,530 107.9,527.2 110.5,523.7 114.2,520.7"/><polygon points="348.1,434.9 354.4,433.1 361.1,430.9 361.2,436.6 361.3,440.9 355.4,442.6 352,439"/><polygon points="461.1,300.1 461.8,307.8 452.4,305 442.7,301.9 449.5,295.4 458.2,294.2"/><polygon points="259.2,345.9 267.5,340.4 269.7,348.4 267.6,354.2 259.5,352"/><polygon points="271.5,280.6 267.3,286.9 259.4,288.2 252.3,284 252.8,275 264.1,276.5"/><polygon points="225.8,282.8 230.5,282.8 235.8,283.9 235.7,288.6 231.5,293 223.8,291.8 222.3,286.3"/><polygon points="226.9,504.4 225.5,500.6 228.7,498.7 233.4,499.4 231.8,503.1"/><polygon points="278.7,523.6 278.7,530.2 269.1,531.4 264.7,525.5 268.6,521.1 275.7,517.2"/><polygon points="304.6,367 306.3,363 311.3,363.9 315.9,366.5 312.5,370.4 307.2,370.1"/><polygon points="43.2,396.3 46.6,398.5 45.3,401.7 40.8,405.5 37.9,400.8 37.7,396.6"/><polygon points="301.3,428.9 302.9,432.2 300.3,435.8 293.3,437.6 289,432.6 290.1,426.6 297.5,427.4"/><polygon points="235.8,442.9 229.2,448.6 216.7,445.4 220.3,434.3 233.5,435.1"/><polygon points="39.6,462.2 46.7,463.7 51.6,467.7 49.4,473.1 42.6,473.8 36.8,472.1 35.5,467"/><polygon points="450.7,333.8 454.2,332.6 456.9,334.1 456.6,336.3 454.3,338.6 450.2,337.2"/><polygon points="574.7,398.1 578,400 579.9,404.9 573.5,407.5 567.4,405.1 569,400.7 569.2,395.9"/><polygon points="580.5,533.8 572,537.1 565.4,529.3 575.2,526 586.4,526.5"/><polygon points="579.9,445.2 586.5,444.8 592.1,448.7 585.8,451.5 580.8,450.2"/><polygon points="247.4,272.2 244.4,273.6 242.7,271.3 242.1,269.6 243,266.9 246.7,267.6 248.2,269.8"/><polygon points="400.8,510.2 395.9,510.3 391.7,507.5 395.1,504.1 399.9,503.5 401.6,506.8"/><polygon points="351.2,320 348.7,327.5 339.5,328.1 333.3,325 334,320 338,317.5 343.9,316.2"/><polygon points="345.5,256.8 350.9,250.3 359,255 360.3,261 358.2,268.2 349.8,264.5 340.9,262.8"/><polygon points="68.1,283.1 71.1,290.3 76.9,297.5 66.5,300.3 59.4,297 52.5,291.9 59.2,286.5"/><polygon points="491.8,337.3 489.9,331.7 488.5,323.9 499.2,322.7 508.5,326.7 506.2,334.3 500.9,341.2"/><polygon points="323.3,420 319,419.9 315.5,417.5 316.7,413.7 321.3,410.6 329.4,411.6 329.7,418.1"/><polygon points="232.1,368.2 232.9,371.7 228.9,373.2 223.9,374 224,370.1 222.8,365.6 229.1,364.3"/><polygon points="294.7,401.3 297.3,404.5 298.1,408.7 292.5,407.5 289.7,403.9"/><polygon points="204.7,267.3 208.1,265 211.2,263.5 212.9,266.1 212.6,269.1 208.3,269.8"/><polygon points="123,303.8 128.4,303.4 129.4,307.7 125.1,309.8 122.6,307.1"/><polygon points="239.3,274.4 229,277.1 220.3,269 228.6,260.9 239.8,261.9 249.8,268.5"/><polygon points="41.2,271 32.4,274.8 26.7,266.9 33.8,260.6 44.9,258.9 49.3,267.3"/><polygon points="169.2,476.6 166.6,477.7 163.1,477.7 163.5,475 165.4,473.1 169.1,473.7"/><polygon points="205.9,267.1 201.6,266.3 200.7,263 204.7,262.5 207.5,264.1"/><polygon points="105.5,406.6 97,410.8 88.4,408 85.6,402.1 88.9,396.4 97.8,393 104.2,399"/><polygon points="97.5,256.3 102.5,250.5 107.8,248.7 113.9,249.4 114.4,254.1 114.2,260.7 104.5,261.7"/><polygon points="206.3,282.7 212.6,283.8 211.9,288.6 207,289 203.8,286.5"/><polygon points="177.2,444.6 183.4,450.5 174.2,454.1 164,453.5 167.3,446.3 171,441.9"/><polygon points="556.7,283.9 560.2,287.4 555.9,290.4 551.2,288.7 552.7,285.4"/><polygon points="102.9,268.6 105.5,266.5 109.5,265.2 112.8,268.5 108.6,270.5 105.4,270.8"/><polygon points="578.1,480.4 575.1,484.9 569.9,487 565.5,483.7 566.8,479.3 572,479.2"/><polygon points="357.1,489.7 348.6,483.9 355.1,478.2 365.4,476.3 365.8,485"/><polygon points="266.2,344.9 269,339.5 277.8,338.8 281.1,346.4 272,349.1"/><polygon points="569.9,415.1 572.8,415.9 577,418 572.6,419.9 568.2,420.6 567.4,417.1"/><polygon points="283.9,304.1 290.2,297.8 297.7,303 299.5,309 292.7,312.4 281.2,312.8"/><polygon points="373.9,362.8 375.6,360.2 379.2,361.1 381.5,364.9 375.3,367.2"/><polygon points="139.2,474.9 142.2,472 145.4,470.5 150.7,470.8 149.1,474.8 147.8,478.5 142.2,478.4"/><polygon points="481.8,261.7 476.7,258 476.6,251.9 484.3,250.3 493.5,250.2 495.3,257.6 490.3,263.9"/><polygon points="412.9,443 409.7,437.1 415.6,432.8 422.1,434.7 423,439 419.8,441.9"/><polygon points="105.2,511.2 102.5,501.7 94.7,495.7 107.2,493.5 112.7,485.4 123.9,489 134.1,495.4 130.6,504.9 118.6,509"/><polygon points="196.4,510.9 198.4,506.4 205.6,502.9 218.8,504.3 215.9,513.1 210.7,522.7 195.9,519.2"/><polygon points="128.5,506.3 127.3,513.7 119.4,516.1 109,519.7 103.8,512.3 106,504.2 118,504.1"/><polygon points="215.2,465.1 226.3,464.2 219,469.9 217.8,474.2 211.5,473.2 203.2,472.5 203.2,466.7 208.1,462.2"/><polygon points="156.4,498.6 152.3,490.8 164.4,489.3 171.9,490.5 178.9,495 177.1,503.5 165,500.1"/><polygon points="41.1,464 43.9,458.8 47.6,450.3 57.7,455.7 58.2,461.3 61.9,471.1 48.7,466.4"/><polygon points="136,451.1 143.9,453.5 150.7,452.5 155.4,456.7 150.9,460.8 145.3,461.1 141.4,461.5 138.6,459.5 138.6,457"/><polygon points="72.9,493.8 79.8,495 83.1,499 84.1,503.8 78.7,507.6 71.6,506.4 64.4,505.1 69.1,500.4 70.5,498.4"/><polygon points="69.6,461.5 70.9,468.4 63.4,471.8 59.8,478.5 51.9,474.3 52.1,469.5 42.3,464.6 49.5,459.1 58.5,463.8"/><polygon points="30.6,482.7 38.6,475.1 48,478.9 59.3,481.6 54.3,490.8 39.8,489.9"/><polygon points="75.6,473.7 82.2,475.9 85.5,476.6 89.6,478.4 92.4,483.3 83.6,482.1 79.3,483.9 76.9,481.1 70.1,477.6"/><polygon points="89.2,507.2 95.4,505.2 105,504 107.2,511.3 97.7,512.9 90.5,512.3"/><polygon points="64.3,462.7 57.8,458.4 60.5,450.7 72.9,449.7 83.9,454.2 77.2,461.2 71.8,465.9"/><polygon points="242.6,484.6 241.5,494.3 227.3,494.4 224.2,488.1 224.5,483.3 233.8,477.2"/><polygon points="143.4,530.1 124.8,529.3 118.9,515.5 135.2,505.4 151.7,512.9 162.6,524.7"/><polygon points="54.4,522.3 46.7,521.6 37.7,521.4 35.2,515.2 44.2,513.2 49,511.2 53.1,513.8 56,517.2"/><polygon points="99.7,501.5 107.2,500.9 103.6,505.4 102.3,509.2 96.9,507.7 90.3,505.7 91.9,500.2"/><polygon points="140.2,488.1 129.2,486.3 132.8,478.2 131.6,474.8 134.3,470.5 141.2,471.3 150.9,471.5 149,477.7 149.4,484.1"/><polygon points="71.7,499.8 59.1,496.1 63.6,486.7 79,477.1 91.1,489.2 86,500.2"/><polygon points="200.7,526.3 209.2,524.8 216.3,524.5 220,530.1 211.5,531 202.9,533.1"/><polygon points="137.1,494.9 127.6,496.2 120.5,499.2 114.3,495 118.1,490.2 120.1,485.4 129,483.9 138.6,487.5"/><polygon points="230.7,480.7 227.5,484.5 225.2,492.8 217.6,485.6 209.9,484.5 205.9,478.5 213.4,474.2 221.8,473.9 233.4,473"/><polygon points="93.3,497.2 95.4,492.5 101,484.5 114.4,488.2 110.2,496.6 111.2,507 98.1,501.5"/><polygon points="206.5,482 208.1,478.8 212.4,476.4 216.6,478.7 221,481 218.6,484.5 214.6,490.5 205.3,488"/><polygon points="142.7,514.6 155.5,505.7 167.8,514.6 167.8,522.1 165.6,530.3 150.4,533.5 139.9,524.9"/><polygon points="179.4,507.2 174.1,508.5 168.9,507.7 168.2,504.3 163.6,500.7 171.1,500.8 173.9,500.7 179.6,499.9 177.2,503.4"/><polygon points="73.3,485.4 65.3,493.3 54.7,496.4 47,490.4 48.3,482.3 60.4,481.3"/><polygon points="203.1,478.8 203.2,474.4 207.9,471 218,464.8 220.2,474 220.1,478.2 220,483.3 212.3,482.8 204.2,484.3"/><polygon points="168.1,501.4 171.2,505.4 166.9,511.3 159.1,507.4 158.7,503.7 157.5,499.5 164.4,497.3"/><polygon points="136.1,522.4 144.4,519.8 152,524.5 146.6,529.7 141.1,530.8 135.6,530.3 132.8,526.5"/><polygon points="222.1,471.4 226.4,480.9 211.3,480.2 206.2,474.4 203,465.8 218.5,461.1"/><polygon points="162.4,464.4 151.1,470.2 147.5,460.2 132.3,455.4 137.9,445.3 153.7,446.7 162.9,448.2 169.4,453 179.6,462.4"/><polygon points="131.7,455 130.7,461.7 121.4,462.2 118.4,458.3 117.3,454.3 123.5,453.6"/><polygon points="46.7,491.7 55,492 55.8,497 53.7,501.9 46.3,500.2 42.8,496.2"/><polygon points="152,462.2 148,456.6 150.9,448.1 163.5,451 169.1,455.1 175.9,459.1 177.4,467.4 164.5,467.4 154.6,468.8"/><polygon points="225.1,482.1 211.9,491.7 204.8,479.4 210.2,470.2 227.1,464 236,475.8"/><polygon points="127.2,476.9 124.4,468.6 137.6,468.8 148,465 153.7,471.9 158.7,481.4 145.1,486.5 133.2,482.6"/><polygon points="88.9,480.5 78.6,479.7 71.8,473.3 78.1,466.9 86.2,464.8 96.7,460 103.2,467 105.5,474.1 98.2,479.3"/><polygon points="146.1,464.8 150.5,461.9 156.9,463.2 155.9,467.7 155.6,470.3 153.8,474.4 149,471.1 145,470.5 144.2,467.6"/><polygon points="250.5,462.2 236.1,468.6 221.1,472.9 214.5,462.1 224.2,454.8 239.9,451.5"/><polygon points="169.5,468.3 183.2,468 182.8,477.3 185.9,483.9 175.2,483.6 163.6,489.7 155.3,481.8 156.6,472.1"/><polygon points="52.5,489 59.8,491.2 64.1,497.7 54.4,503.5 44.4,498.4 46.7,492.3"/><polygon points="127.2,526.7 119,524 105.3,517.1 121,512.5 134.6,513.1 134,521.8"/><polygon points="66.1,485.9 76.8,488.8 75.9,496.4 67.5,498.9 64.4,503.8 56.3,502.9 54.5,497.8 54.7,493.8 58.9,491"/><polygon points="207.8,522.5 204.7,514.9 216,513.1 224.5,517.6 229.6,524.4 221.9,530 212,532.5 201.2,529.5"/><polygon points="181.4,451 171.1,458.5 161.9,464.8 144.3,462.7 151.7,451.8 156.3,444.7 166.2,448.4"/><polygon points="67.9,480.3 52.2,481.6 41.3,475.1 44.4,466.8 44.8,460.6 53.3,456.7 63.3,458.3 64,464.8 70.6,470.3"/><polygon points="192.6,492.2 208.1,496.9 211.5,507.9 200.4,514.2 189.4,519.1 176.7,514.8 168.7,505.6 178.2,496.9"/><polygon points="126.2,457.9 132.3,463.9 142.5,465.1 142,472.5 130.7,471.5 123,473.6 117.1,468.8 121.2,463.6"/><polygon points="196.4,493.5 206.2,495.7 210.4,501.2 205.6,505.7 198,509.2 189.3,505.5 190,498.8"/><polygon points="211.6,484.4 224.6,484.2 220.9,492.4 215.2,498.1 201.8,496.9 204.9,488.5"/><polygon points="234.8,484.1 238.3,488.4 231.2,488.8 225,491.5 216.8,489 218.6,483.1 225.2,481.2 229.6,476.1 235.1,480.1"/><polygon points="67.2,471.9 67.3,477.1 68.4,481.9 61,481.3 55,482.3 55.4,478.1 52.7,473.6 58.9,469.6"/><polygon points="168,461.7 160.6,461.9 153.2,458.7 153.4,452.5 156.3,445 167.6,447 178.5,447.6 182.3,454.8 176.5,460.7"/><polygon points="49.7,490.7 52.3,482.1 52.4,477.1 60,476.5 70.3,477.3 68.9,484.4 60.8,486"/><polygon points="202.6,465.1 214.6,468.3 226.2,471.8 220,479.5 217.2,485.1 208.1,491 199.1,485.1 194.6,479.3 201.7,475"/><polygon points="134.4,517.3 142.5,514.8 147.7,519 152.1,523.6 148,531.2 137.7,527 132.4,522.9"/><polygon points="164,502.3 159.4,504.8 153.4,503.3 149.4,499.7 155.6,497 155.7,490.9 162.1,494.4 165.6,496.5 167.5,499.7"/><polygon points="74.4,484.5 83,480.5 90.6,480.4 96.9,482.6 98.5,487.4 92.1,489.2 87.6,491.9 76.9,491.9"/><polygon points="196.3,466.1 189.8,459.3 194.4,451.4 206.1,452.2 217.1,451.4 223.6,458.7 211.7,462.3 206.8,468.5"/><polygon points="188.1,487.8 191.3,493.6 182.2,493.4 177.4,490.5 177.2,486.7 178.7,479.5 188.5,482.6"/><polygon points="63.9,478.2 70.3,476.3 76.5,479.7 75.1,485 69,490.1 59.6,487.3 60.4,481.4"/><polygon points="117.5,501.9 110.9,504.6 103,504.3 104.9,499.5 107.9,496.3 118.5,494.5"/><polygon points="190,460.2 199.4,465.9 208.4,471.3 197,474 183.9,477.6 181.7,467.7"/><polygon points="193.7,516.3 199,519.5 201.6,524.1 195.8,526.8 189.9,528.5 178.4,528.6 179,521 188,519"/><polygon points="90.2,526.8 90.6,517.8 98.7,514.1 107.5,511.6 117.5,516.2 111,522.9 103.5,525.3"/><polygon points="112.4,481.6 98.3,484.9 95.3,497.4 82.6,490.9 78.1,484 79.9,477.8 86.3,473.9 96.9,466.2 106.7,473.5"/><polygon points="132,510.6 123.8,511.3 121.5,505.6 125.9,501 135.7,496.5 144.4,502.8 139.9,509.7"/><polygon points="169.2,460.7 186.9,453.6 200.8,463.7 193.3,473.3 181.6,478.7 171.3,471.7"/><polygon points="86.6,490.2 101,491.3 112.2,499.9 102,510.8 89.6,502.9 86.5,498.9"/></g><g fill="none" stroke="#fff" stroke-width="1.1" stroke-linejoin="round" opacity=".9"><polyline points="46.7,453 48.3,473 45,500 41.7,531"/><polyline points="50,456.7 55,465 76.7,470 80,483 75,503 73.3,531"/><polyline points="43.3,518 73,515 100,511.7 130,510 153,511.7 173,516.7 203,520 230,518 260,512 281,508 318,515 347,531"/><polyline points="76.7,470 103,463 120,456.7 140,458 163,455 176.7,451.7"/><polyline points="80,483 90,490 101.7,511.7 101.7,531"/><polyline points="130,510 130,531"/><polyline points="153,511.7 163,520 176.7,531"/><polyline points="176.7,463 190,460 196.7,450"/><polyline points="200,486.7 216.7,490 230,496.7"/><polyline points="266.7,482 296,475 309,482 327,480.5 340,467.7 356.5,465.8 371,453 380,440 384,420"/><polyline points="386,300 388,320 384,340 380,360 382,400 384,440 385.8,464 384,489.7 378.5,531"/><polyline points="385.8,464 402,471 413,482 384,489.7"/><polyline points="309,482 318,493 312.5,504 318,531"/><polyline points="266.7,482 270,493 285,511.7 288.7,531"/><polyline points="420.7,486 424,531"/><polyline points="384,338 410,336 430,338 446,352"/><polyline points="380,360 406,364 434,380 446,392"/><polyline points="410,336 408,364 414,380 410,404"/><polyline points="382,384 402,392 430,404 446,420"/><polyline points="430,338 434,380"/><polyline points="466,318 482,322 498,332 518,324 526,300"/><polyline points="498,332 510,340 526,356"/><polyline points="502.5,252.5 525,250 527.5,262.5 517.5,280 520,300 525,305 522.5,320 517.5,330 503.75,355"/><polyline points="450,307.5 465,312.5 482.5,325 485,332.5 500,330 517.5,330"/><polyline points="497.5,305 510,307.5 522.5,302.5"/><polyline points="475,272.5 487.5,257.5 502.5,252.5"/><polyline points="465,295 475,285 475,272.5"/><polyline points="336,430 345,445 352,452 371,453"/><polyline points="362,380 372,376 380,360"/><polyline points="575,345 572,380 580,420 588,440"/><polyline points="440,475 452,470 470,440 500,430 530,415 560,395"/><polyline points="503,460 520,470 540,450 561,431"/></g></g>
<g fill="none" stroke="#0a0a0a" stroke-width="2.2" stroke-linejoin="round" stroke-linecap="round">
<polyline points="44.5,447.5 66,450.5 82,450.5 82,455 86,453 97,448 102,449 109,455 116.7,453.5 121,446.5 127.5,444 135,445.4 140.5,447.6 153,446.5 168,443 179,439 186,435.5 190,439 199,439 204.7,448 206.5,457.5 215.7,466.7 225,477.7 241,481 247,476 263,474 282.5,472.5 289,456 292.5,451 305,449.5 325,449.5 333.75,451 334.5,431 346,428.75 350,422.5 355,418.75 354.5,412.5 351,406 356,388 358.4,378.4 360.8,368.8 361.6,356 358.4,346.4 358.4,340 360,335.2 358.4,330.4 362.4,326.4 366.4,322.4 365.6,314.4 366.4,308.8 370.4,307.2 373.6,300 377.6,292 377.6,284 380.8,278.9 388,282.4 392.8,285.6 393.1,298.4 398.4,302.4 406.4,311.2 415.2,316 422.4,320"/>
<polyline points="422.4,320 422.9,316 420,313.6 421.6,310.4 418.4,308 420,304.8 420,298.4 418.4,295.2 420,293.6 434.4,287.2 446.4,292 468,275.2 482.5,262.5 487.5,249 492.5,244.5 498.4,244 507,247.2 510.4,242.6 514.4,243.2 530.4,238.6 543,225.6 558.4,215 561.6,207 562.5,195 566,182.5 571,176 588,167"/>
<polyline points="422.4,320 432.8,317.6 440.8,313.6 452,315.2 461.6,315.7 464.8,319.2 463.2,324 458.4,328 453.6,333.6 452,348 450.4,364 452,380 455,396.7 443,420 441.7,453 436.7,466.7 435,486.7 428,506.7 426,516.7 427,531"/>
<polyline points="530.4,238.6 559,255 534,290 535,295 560,316 561.7,353 576.7,363 581.7,385 561.7,420 561.7,431.7 585,440 588,463"/>
</g>
<polygon points="503,356.7 528,356.7 529.5,353 531.7,351.7 533.5,353.5 535,356.7 540.7,358.3 538,363 533,366.7 545,375 550,383 551.7,390 555,398 548,406.7 540,415 530,421.7 533,428 526.7,433 515,436.7 506.7,443 501.7,451.7 503,460 493,473 483,483 475,490 470,488 465,503 458,508 451.7,510 446.7,505 435,506.7 431.7,505 440,490 450,466.7 460,440 466.7,420 475,406.7 476.7,393 481.7,385 490,375 501.7,366.7" fill="#9aa0a0" opacity=".55" filter="url(#sh)" transform="translate(1,2)"/>
<polygon points="503,356.7 528,356.7 529.5,353 531.7,351.7 533.5,353.5 535,356.7 540.7,358.3 538,363 533,366.7 545,375 550,383 551.7,390 555,398 548,406.7 540,415 530,421.7 533,428 526.7,433 515,436.7 506.7,443 501.7,451.7 503,460 493,473 483,483 475,490 470,488 465,503 458,508 451.7,510 446.7,505 435,506.7 431.7,505 440,490 450,466.7 460,440 466.7,420 475,406.7 476.7,393 481.7,385 490,375 501.7,366.7" fill="#fff" stroke="#a4a8a8" stroke-width=".8"/>
<rect x="428.5" y="467.5" width="65" height="48" fill="none" stroke="#e01b24" stroke-width="1.9"/>
<text x="464" y="431.7" font-family="Liberation Sans, sans-serif" font-size="15" fill="#4d4d4d" stroke="#fff" stroke-width="2.5" stroke-linejoin="round" paint-order="stroke" textLength="63" lengthAdjust="spacingAndGlyphs">Lebanon</text>
<line x1="188" y1="472" x2="210.5" y2="446" stroke="#111" stroke-width="1.4"/>
<rect x="89" y="471" width="109.5" height="26" fill="#1b1b1b"/>
<text x="95.5" y="489.8" font-family="Liberation Sans, sans-serif" font-size="17" fill="#fff" textLength="98" lengthAdjust="spacingAndGlyphs">Aita Al Chaab</text>
<rect x="230" y="496" width="52.5" height="24.5" fill="#888" opacity=".5" filter="url(#sh2)"/>
<rect x="230" y="496" width="52.5" height="24.5" fill="#fff"/>
<text x="237" y="514.5" font-family="Liberation Sans, sans-serif" font-size="16.5" fill="#333" textLength="37.5" lengthAdjust="spacingAndGlyphs">Israel</text>
<rect x="440" y="520" width="148" height="11" fill="#fff" opacity=".6"/>
<text x="443" y="529.5" font-family="Liberation Sans, sans-serif" font-size="11" fill="#8c8c8c" textLength="142" lengthAdjust="spacingAndGlyphs">© OpenStreetMap contributors</text>
</svg>
<div class="t" id="note">*Median values for year to Feb 2026, compared to Sep 2023</div>
<div class="t" id="src">Source: Sky News analysis of NASA Black Marble</div>
</body></html>
